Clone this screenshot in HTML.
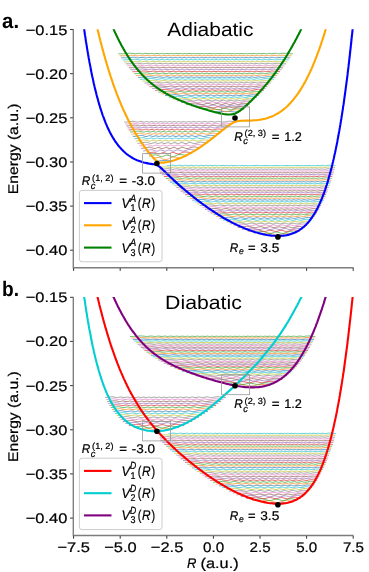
<!DOCTYPE html>
<html><head><meta charset="utf-8"><title>PES</title><style>html,body{margin:0;padding:0;background:#fff}svg{display:block;will-change:transform}text{font-family:"Liberation Sans",sans-serif;stroke:#000;stroke-width:0.22px}</style></head><body>
<svg width="369" height="572" viewBox="0 0 369 572" font-family="Liberation Sans, sans-serif" fill="#000" text-rendering="geometricPrecision">
<rect width="369" height="572" fill="#fff"/>
<clipPath id="cpa"><rect x="73.3" y="29.3" width="280.9" height="238.4"/></clipPath>
<g fill="none" stroke-width="0.7" stroke-opacity="1.0" clip-path="url(#cpa)">
<path d="M215.4 111.5 216.5 111.7 217.6 111.7 218.7 111.7 219.8 111.7 220.9 111.6 222.1 111.5 223.2 111.5 224.3 111.4 225.4 111.4 226.5 111.4 227.6 111.4 228.7 111.5 229.8 111.5 230.9 111.6 232 111.7 233.2 111.8 234.3 111.9 235.4 111.9 236.5 111.9 237.6 111.6 238.7 112.6" stroke="#1f77b4"/>
<path d="M208.7 110.4 209.8 109.9 210.9 109.9 212 109.8 213.2 109.6 214.3 109.5 215.4 109.4 216.5 109.4 217.7 109.5 218.8 109.7 219.9 110 221 110.3 222.2 110.7 223.3 111.1 224.4 111.5 225.5 111.6 226.7 111.7 227.8 111.5 228.9 111.2 230 110.8 231.2 110.4 232.3 110.1 233.4 109.8 234.5 109.7 235.7 109.7 236.8 109.9 237.9 110 239 110.1 240.2 109.9 241.3 111" stroke="#ff7f0e"/>
<path d="M202.5 109.1 203.6 108.5 204.7 108.4 205.8 108.3 206.9 108.1 208 108 209.1 107.8 210.3 107.8 211.4 107.9 212.5 108.1 213.6 108.4 214.7 108.8 215.8 109.2 216.9 109.6 218 109.8 219.1 109.8 220.2 109.6 221.3 109.3 222.4 108.8 223.6 108.5 224.7 108.3 225.8 108.4 226.9 108.7 228 109.1 229.1 109.5 230.2 109.8 231.3 109.8 232.4 109.6 233.5 109.2 234.6 108.7 235.7 108.4 236.9 108.2 238 108.1 239.1 108.2 240.2 108.3 241.3 108.5 242.4 108.6 243.5 109.3" stroke="#2ca02c"/>
<path d="M196.7 107.6 197.8 107.2 198.9 106.8 200 106.8 201.1 106.6 202.2 106.5 203.3 106.3 204.5 106.3 205.6 106.3 206.7 106.5 207.8 106.7 208.9 107.1 210 107.5 211.1 107.8 212.2 108 213.4 108 214.5 107.7 215.6 107.4 216.7 107 217.8 106.8 218.9 106.7 220 107 221.1 107.4 222.3 107.8 223.4 108 224.5 108 225.6 107.7 226.7 107.3 227.8 106.9 228.9 106.8 230 107 231.2 107.4 232.3 107.8 233.4 108 234.5 107.9 235.6 107.6 236.7 107.2 237.8 106.8 238.9 106.6 240.1 106.5 241.2 106.6 242.3 106.7 243.4 106.9 244.5 107.1 245.6 107.6" stroke="#d62728"/>
<path d="M191.1 106 192.2 105.7 193.3 105.4 194.4 105.2 195.5 105.1 196.6 104.9 197.7 104.8 198.9 104.7 200 104.7 201.1 104.8 202.2 105 203.3 105.3 204.4 105.7 205.5 106 206.6 106.2 207.7 106.2 208.8 106.1 209.9 105.7 211 105.4 212.1 105.1 213.3 105.1 214.4 105.3 215.5 105.6 216.6 106 217.7 106.2 218.8 106.2 219.9 105.9 221 105.5 222.1 105.2 223.2 105.2 224.3 105.5 225.4 105.9 226.6 106.2 227.7 106.2 228.8 105.9 229.9 105.5 231 105.2 232.1 105.2 233.2 105.5 234.3 105.9 235.4 106.2 236.5 106.2 237.6 106 238.7 105.6 239.8 105.2 241 104.9 242.1 104.9 243.2 105 244.3 105.1 245.4 105.2 246.5 105.5 247.6 106" stroke="#9467bd"/>
<path d="M185.9 104.3 187 104.2 188.1 103.9 189.2 103.6 190.4 103.5 191.5 103.4 192.6 103.2 193.7 103.1 194.8 103.1 195.9 103.1 197.1 103.3 198.2 103.6 199.3 103.9 200.4 104.2 201.5 104.4 202.6 104.5 203.8 104.3 204.9 104 206 103.7 207.1 103.4 208.2 103.4 209.3 103.6 210.5 104 211.6 104.3 212.7 104.5 213.8 104.4 214.9 104.1 216 103.7 217.2 103.5 218.3 103.6 219.4 104 220.5 104.3 221.6 104.5 222.7 104.3 223.9 104 225 103.6 226.1 103.6 227.2 103.8 228.3 104.2 229.4 104.5 230.5 104.4 231.7 104.1 232.8 103.7 233.9 103.6 235 103.7 236.1 104.1 237.2 104.4 238.4 104.5 239.5 104.3 240.6 103.9 241.7 103.5 242.8 103.3 243.9 103.2 245.1 103.3 246.2 103.5 247.3 103.6 248.4 103.9 249.5 104.3" stroke="#8c564b"/>
<path d="M181.2 102.6 182.3 102.5 183.4 102.3 184.5 101.9 185.6 101.9 186.8 101.8 187.9 101.6 189 101.5 190.1 101.4 191.2 101.5 192.3 101.6 193.4 101.9 194.6 102.2 195.7 102.5 196.8 102.7 197.9 102.7 199 102.6 200.1 102.3 201.3 102 202.4 101.8 203.5 101.7 204.6 101.9 205.7 102.3 206.8 102.6 207.9 102.8 209.1 102.6 210.2 102.3 211.3 102 212.4 101.8 213.5 102 214.6 102.3 215.8 102.7 216.9 102.7 218 102.5 219.1 102.2 220.2 101.9 221.3 102 222.4 102.3 223.6 102.6 224.7 102.7 225.8 102.5 226.9 102.1 228 101.9 229.1 102 230.3 102.4 231.4 102.7 232.5 102.7 233.6 102.4 234.7 102 235.8 101.9 236.9 102.1 238.1 102.4 239.2 102.7 240.3 102.7 241.4 102.5 242.5 102.2 243.6 101.8 244.8 101.6 245.9 101.6 247 101.7 248.1 101.8 249.2 101.9 250.3 102.3 251.4 102.6" stroke="#e377c2"/>
<path d="M176.8 100.9 177.9 100.8 179 100.6 180.1 100.3 181.2 100.2 182.3 100.1 183.4 100 184.5 99.9 185.6 99.8 186.7 99.8 187.8 99.9 189 100.1 190.1 100.4 191.2 100.7 192.3 100.9 193.4 101 194.5 100.9 195.6 100.6 196.7 100.3 197.8 100.1 198.9 100 200 100.2 201.2 100.5 202.3 100.8 203.4 101 204.5 100.9 205.6 100.6 206.7 100.3 207.8 100.1 208.9 100.3 210 100.6 211.1 100.9 212.2 101 213.4 100.8 214.5 100.4 215.6 100.2 216.7 100.3 217.8 100.6 218.9 100.9 220 101 221.1 100.7 222.2 100.4 223.3 100.2 224.4 100.4 225.6 100.8 226.7 101 227.8 100.9 228.9 100.5 230 100.3 231.1 100.3 232.2 100.6 233.3 100.9 234.4 101 235.5 100.7 236.6 100.3 237.8 100.2 238.9 100.4 240 100.7 241.1 101 242.2 101 243.3 100.7 244.4 100.4 245.5 100.1 246.6 99.9 247.7 99.9 248.8 100 249.9 100.2 251.1 100.2 252.2 100.6 253.3 100.8" stroke="#7f7f7f"/>
<path d="M172.6 99.1 173.7 99.1 174.8 98.9 175.9 98.7 177 98.5 178.1 98.4 179.2 98.3 180.3 98.2 181.4 98.1 182.5 98.1 183.6 98.2 184.7 98.4 185.8 98.6 186.9 98.9 188 99.1 189.1 99.2 190.2 99.2 191.3 99 192.4 98.7 193.5 98.4 194.6 98.3 195.7 98.5 196.8 98.7 197.9 99.1 199 99.2 200.1 99.2 201.2 98.9 202.3 98.6 203.4 98.4 204.5 98.5 205.6 98.8 206.7 99.1 207.8 99.2 208.9 99.1 210 98.7 211.1 98.5 212.2 98.5 213.3 98.8 214.4 99.2 215.5 99.2 216.6 99 217.7 98.7 218.8 98.5 219.9 98.7 221 99 222.1 99.2 223.2 99.1 224.3 98.8 225.4 98.5 226.5 98.6 227.6 99 228.7 99.2 229.8 99.2 230.9 98.8 232 98.6 233.1 98.6 234.2 98.9 235.3 99.2 236.4 99.2 237.5 98.9 238.6 98.6 239.7 98.5 240.8 98.7 241.9 99 243 99.2 244.1 99.2 245.2 99 246.3 98.6 247.4 98.4 248.5 98.2 249.6 98.2 250.7 98.3 251.8 98.5 252.9 98.6 254 98.9 255.1 99.1" stroke="#bcbd22"/>
<path d="M168.7 97.4 169.8 97.3 170.9 97.2 172 97.1 173.1 96.8 174.2 96.8 175.3 96.6 176.4 96.5 177.5 96.4 178.6 96.4 179.7 96.5 180.8 96.6 181.9 96.9 183 97.2 184.1 97.4 185.2 97.5 186.3 97.4 187.4 97.2 188.5 96.9 189.6 96.7 190.7 96.6 191.8 96.8 192.9 97 194 97.3 195.1 97.5 196.3 97.4 197.4 97.1 198.5 96.8 199.6 96.7 200.7 96.8 201.8 97.2 202.9 97.4 204 97.5 205.1 97.2 206.2 96.9 207.3 96.7 208.4 96.9 209.5 97.2 210.6 97.5 211.7 97.4 212.8 97.1 213.9 96.8 215 96.8 216.1 97.1 217.2 97.4 218.3 97.5 219.4 97.2 220.5 96.9 221.6 96.8 222.7 97.1 223.8 97.4 224.9 97.5 226 97.2 227.1 96.9 228.2 96.9 229.3 97.1 230.4 97.4 231.6 97.4 232.7 97.1 233.8 96.8 234.9 96.9 236 97.2 237.1 97.4 238.2 97.4 239.3 97.1 240.4 96.8 241.5 96.8 242.6 97 243.7 97.3 244.8 97.5 245.9 97.4 247 97.2 248.1 96.9 249.2 96.6 250.3 96.5 251.4 96.5 252.5 96.6 253.6 96.8 254.7 96.8 255.8 97.2 256.9 97.4" stroke="#17becf"/>
<path d="M165 95.6 166.1 95.6 167.2 95.5 168.3 95.4 169.4 95.1 170.5 95 171.6 94.9 172.7 94.8 173.8 94.7 174.9 94.7 176 94.7 177.1 94.9 178.2 95.1 179.3 95.4 180.4 95.6 181.5 95.7 182.6 95.7 183.7 95.4 184.8 95.2 186 94.9 187.1 94.9 188.2 95 189.3 95.3 190.4 95.6 191.5 95.7 192.6 95.6 193.7 95.3 194.8 95 195.9 95 197 95.1 198.1 95.4 199.2 95.7 200.3 95.7 201.4 95.4 202.5 95.1 203.6 95 204.7 95.2 205.8 95.5 206.9 95.7 208 95.6 209.1 95.3 210.2 95 211.3 95.1 212.4 95.4 213.5 95.7 214.6 95.6 215.7 95.3 216.8 95.1 217.9 95.1 219 95.5 220.1 95.7 221.2 95.6 222.3 95.3 223.4 95.1 224.5 95.2 225.6 95.6 226.7 95.7 227.8 95.5 228.9 95.2 230 95.1 231.1 95.4 232.2 95.7 233.3 95.7 234.5 95.4 235.6 95.1 236.7 95.1 237.8 95.4 238.9 95.7 240 95.6 241.1 95.4 242.2 95.1 243.3 95 244.4 95.2 245.5 95.5 246.6 95.7 247.7 95.6 248.8 95.4 249.9 95.1 251 94.9 252.1 94.8 253.2 94.8 254.3 94.9 255.4 95 256.5 95.1 257.6 95.5 258.7 95.6" stroke="#1f77b4"/>
<path d="M161.5 93.9 162.7 93.8 163.8 93.8 164.9 93.6 166 93.4 167.1 93.3 168.2 93.2 169.3 93.1 170.4 93 171.5 92.9 172.7 93 173.8 93.1 174.9 93.4 176 93.6 177.1 93.8 178.2 93.9 179.3 93.9 180.4 93.6 181.5 93.4 182.7 93.2 183.8 93.1 184.9 93.3 186 93.6 187.1 93.9 188.2 93.9 189.3 93.8 190.4 93.5 191.6 93.2 192.7 93.2 193.8 93.5 194.9 93.8 196 93.9 197.1 93.8 198.2 93.5 199.3 93.3 200.4 93.3 201.6 93.6 202.7 93.9 203.8 93.9 204.9 93.6 206 93.3 207.1 93.3 208.2 93.6 209.3 93.9 210.5 93.9 211.6 93.6 212.7 93.4 213.8 93.3 214.9 93.6 216 93.9 217.1 93.9 218.2 93.6 219.3 93.3 220.5 93.4 221.6 93.8 222.7 93.9 223.8 93.7 224.9 93.4 226 93.4 227.1 93.6 228.2 93.9 229.3 93.8 230.5 93.5 231.6 93.3 232.7 93.5 233.8 93.8 234.9 93.9 236 93.7 237.1 93.4 238.2 93.3 239.4 93.6 240.5 93.9 241.6 93.9 242.7 93.6 243.8 93.3 244.9 93.3 246 93.5 247.1 93.8 248.2 93.9 249.4 93.9 250.5 93.6 251.6 93.3 252.7 93.1 253.8 93 254.9 93.1 256 93.2 257.1 93.3 258.3 93.4 259.4 93.7 260.5 93.9" stroke="#ff7f0e"/>
<path d="M158.3 92.1 159.4 92.1 160.5 92 161.6 91.9 162.7 91.7 163.8 91.6 164.9 91.5 166 91.4 167.1 91.3 168.2 91.2 169.3 91.2 170.4 91.3 171.5 91.6 172.7 91.8 173.8 92 174.9 92.1 176 92.1 177.1 91.9 178.2 91.6 179.3 91.4 180.4 91.4 181.5 91.5 182.6 91.8 183.7 92.1 184.8 92.1 185.9 92 187 91.7 188.1 91.5 189.2 91.5 190.3 91.7 191.5 92 192.6 92.1 193.7 92 194.8 91.7 195.9 91.5 197 91.6 198.1 91.9 199.2 92.1 200.3 92.1 201.4 91.8 202.5 91.6 203.6 91.6 204.7 91.8 205.8 92.1 206.9 92.1 208 91.8 209.2 91.6 210.3 91.6 211.4 91.9 212.5 92.1 213.6 92 214.7 91.7 215.8 91.6 216.9 91.7 218 92 219.1 92.1 220.2 91.9 221.3 91.6 222.4 91.6 223.5 91.9 224.6 92.1 225.7 92 226.9 91.7 228 91.6 229.1 91.9 230.2 92.1 231.3 92 232.4 91.7 233.5 91.6 234.6 91.8 235.7 92.1 236.8 92.1 237.9 91.8 239 91.6 240.1 91.6 241.2 91.9 242.3 92.1 243.4 92.1 244.6 91.7 245.7 91.5 246.8 91.5 247.9 91.7 249 92 250.1 92.1 251.2 92 252.3 91.8 253.4 91.5 254.5 91.3 255.6 91.3 256.7 91.3 257.8 91.4 258.9 91.6 260 91.7 261.1 92 262.2 92.1" stroke="#2ca02c"/>
<path d="M155.2 90.3 156.3 90.3 157.4 90.2 158.5 90.1 159.6 90 160.8 89.8 161.9 89.7 163 89.6 164.1 89.5 165.2 89.4 166.3 89.5 167.4 89.6 168.5 89.8 169.6 90 170.7 90.2 171.9 90.3 173 90.3 174.1 90.1 175.2 89.8 176.3 89.6 177.4 89.6 178.5 89.8 179.6 90.1 180.7 90.3 181.8 90.3 183 90.1 184.1 89.8 185.2 89.7 186.3 89.7 187.4 90 188.5 90.3 189.6 90.3 190.7 90.1 191.8 89.8 192.9 89.7 194.1 89.9 195.2 90.2 196.3 90.3 197.4 90.2 198.5 89.9 199.6 89.7 200.7 89.9 201.8 90.2 202.9 90.3 204 90.2 205.1 89.9 206.3 89.8 207.4 90 208.5 90.3 209.6 90.3 210.7 90.1 211.8 89.8 212.9 89.8 214 90.2 215.1 90.3 216.2 90.2 217.4 89.9 218.5 89.8 219.6 90.1 220.7 90.3 221.8 90.2 222.9 89.9 224 89.8 225.1 90 226.2 90.3 227.3 90.3 228.5 90 229.6 89.8 230.7 90 231.8 90.3 232.9 90.3 234 90 235.1 89.8 236.2 90 237.3 90.3 238.4 90.3 239.6 90 240.7 89.8 241.8 89.8 242.9 90.1 244 90.3 245.1 90.2 246.2 89.9 247.3 89.7 248.4 89.7 249.5 90 250.7 90.2 251.8 90.3 252.9 90.2 254 90 255.1 89.7 256.2 89.5 257.3 89.5 258.4 89.6 259.5 89.7 260.6 89.8 261.8 90 262.9 90.2 264 90.3" stroke="#d62728"/>
<path d="M152.3 88.5 153.4 88.5 154.5 88.4 155.6 88.4 156.7 88.2 157.8 88 158.9 88 160 87.9 161.1 87.8 162.2 87.7 163.3 87.7 164.4 87.7 165.5 87.9 166.6 88.2 167.7 88.4 168.8 88.5 169.9 88.5 171 88.3 172.1 88.1 173.2 87.9 174.3 87.8 175.4 88 176.5 88.2 177.6 88.5 178.7 88.5 179.8 88.4 180.9 88.1 182 87.9 183.1 87.9 184.2 88.2 185.3 88.5 186.4 88.5 187.5 88.3 188.6 88 189.7 87.9 190.8 88.1 191.9 88.4 193 88.5 194.1 88.4 195.2 88.1 196.3 87.9 197.4 88.1 198.5 88.4 199.6 88.5 200.7 88.4 201.8 88.1 202.9 88 204 88.2 205.1 88.5 206.2 88.5 207.3 88.3 208.4 88 209.5 88.1 210.6 88.3 211.7 88.5 212.8 88.4 213.9 88.1 215 88 216.1 88.3 217.2 88.5 218.3 88.4 219.4 88.1 220.5 88 221.6 88.3 222.7 88.5 223.8 88.4 224.9 88.1 226 88 227.1 88.3 228.2 88.5 229.3 88.4 230.4 88.1 231.5 88 232.6 88.3 233.7 88.5 234.8 88.4 235.9 88.1 237 88 238.1 88.2 239.2 88.5 240.3 88.5 241.4 88.2 242.5 88 243.6 88.1 244.7 88.4 245.8 88.5 246.9 88.4 248 88.1 249.1 87.9 250.2 88 251.3 88.2 252.4 88.5 253.5 88.5 254.6 88.4 255.7 88.1 256.8 87.9 257.9 87.7 259 87.7 260.1 87.8 261.2 87.9 262.3 88 263.4 88.2 264.5 88.4 265.6 88.5" stroke="#9467bd"/>
<path d="M149.5 86.7 150.6 86.7 151.7 86.6 152.8 86.6 153.9 86.5 155 86.3 156.1 86.2 157.2 86.1 158.3 86 159.4 85.9 160.5 85.9 161.6 85.9 162.7 86.1 163.8 86.3 164.9 86.5 166 86.7 167.1 86.7 168.2 86.5 169.3 86.3 170.4 86.1 171.5 86 172.6 86.2 173.7 86.4 174.8 86.7 175.9 86.7 177 86.5 178.1 86.2 179.2 86.1 180.3 86.1 181.4 86.4 182.5 86.7 183.6 86.7 184.7 86.5 185.9 86.2 187 86.1 188.1 86.3 189.2 86.6 190.3 86.7 191.4 86.5 192.5 86.2 193.6 86.1 194.7 86.3 195.8 86.6 196.9 86.7 198 86.5 199.1 86.2 200.2 86.2 201.3 86.5 202.4 86.7 203.5 86.6 204.6 86.3 205.7 86.2 206.8 86.4 207.9 86.6 209 86.7 210.1 86.4 211.2 86.2 212.3 86.3 213.4 86.6 214.5 86.7 215.6 86.4 216.7 86.2 217.8 86.3 218.9 86.6 220 86.7 221.1 86.4 222.2 86.2 223.3 86.3 224.4 86.6 225.5 86.7 226.6 86.4 227.7 86.2 228.8 86.4 229.9 86.7 231 86.6 232.1 86.3 233.2 86.2 234.3 86.4 235.4 86.7 236.5 86.6 237.6 86.3 238.7 86.2 239.8 86.4 240.9 86.7 242 86.6 243.1 86.3 244.2 86.1 245.3 86.3 246.4 86.6 247.5 86.7 248.6 86.5 249.7 86.3 250.8 86.1 251.9 86.2 253 86.4 254.1 86.7 255.2 86.7 256.3 86.5 257.4 86.3 258.5 86 259.6 85.9 260.7 85.9 261.8 86 262.9 86.1 264 86.2 265.1 86.4 266.2 86.6 267.3 86.7" stroke="#8c564b"/>
<path d="M146.9 84.8 148 84.8 149.1 84.8 150.2 84.7 151.3 84.7 152.4 84.5 153.6 84.4 154.7 84.3 155.8 84.2 156.9 84.1 158 84.1 159.1 84.1 160.2 84.3 161.3 84.5 162.4 84.7 163.5 84.9 164.7 84.8 165.8 84.7 166.9 84.4 168 84.2 169.1 84.2 170.2 84.4 171.3 84.7 172.4 84.8 173.5 84.8 174.6 84.6 175.8 84.3 176.9 84.3 178 84.4 179.1 84.7 180.2 84.9 181.3 84.8 182.4 84.5 183.5 84.3 184.6 84.4 185.7 84.6 186.9 84.9 188 84.8 189.1 84.5 190.2 84.3 191.3 84.4 192.4 84.7 193.5 84.9 194.6 84.7 195.7 84.4 196.8 84.3 198 84.6 199.1 84.8 200.2 84.8 201.3 84.5 202.4 84.3 203.5 84.5 204.6 84.8 205.7 84.8 206.8 84.6 207.9 84.4 209.1 84.5 210.2 84.8 211.3 84.9 212.4 84.6 213.5 84.4 214.6 84.5 215.7 84.8 216.8 84.8 217.9 84.6 219 84.4 220.2 84.6 221.3 84.8 222.4 84.8 223.5 84.5 224.6 84.4 225.7 84.7 226.8 84.9 227.9 84.7 229 84.4 230.1 84.5 231.3 84.8 232.4 84.9 233.5 84.6 234.6 84.4 235.7 84.5 236.8 84.8 237.9 84.8 239 84.5 240.1 84.4 241.2 84.6 242.4 84.8 243.5 84.8 244.6 84.5 245.7 84.3 246.8 84.4 247.9 84.7 249 84.9 250.1 84.7 251.2 84.4 252.3 84.3 253.5 84.3 254.6 84.6 255.7 84.8 256.8 84.9 257.9 84.7 259 84.5 260.1 84.2 261.2 84.1 262.3 84.1 263.4 84.2 264.6 84.3 265.7 84.4 266.8 84.6 267.9 84.8 269 84.8" stroke="#e377c2"/>
<path d="M144.5 83 145.6 83 146.7 83 147.8 82.9 149 82.8 150.1 82.7 151.2 82.5 152.3 82.5 153.4 82.4 154.5 82.3 155.6 82.2 156.7 82.3 157.8 82.4 158.9 82.6 160 82.9 161.1 83 162.2 83 163.3 82.8 164.4 82.6 165.5 82.4 166.7 82.4 167.8 82.6 168.9 82.8 170 83 171.1 83 172.2 82.7 173.3 82.5 174.4 82.4 175.5 82.6 176.6 82.9 177.7 83 178.8 82.9 179.9 82.6 181 82.5 182.1 82.6 183.3 82.9 184.4 83 185.5 82.9 186.6 82.6 187.7 82.5 188.8 82.7 189.9 82.9 191 83 192.1 82.8 193.2 82.5 194.3 82.6 195.4 82.8 196.5 83 197.6 82.9 198.7 82.6 199.9 82.5 201 82.8 202.1 83 203.2 82.9 204.3 82.6 205.4 82.5 206.5 82.8 207.6 83 208.7 82.9 209.8 82.6 210.9 82.6 212 82.8 213.1 83 214.2 82.9 215.3 82.6 216.5 82.6 217.6 82.9 218.7 83 219.8 82.8 220.9 82.6 222 82.7 223.1 83 224.2 83 225.3 82.7 226.4 82.6 227.5 82.8 228.6 83 229.7 82.8 230.8 82.6 231.9 82.6 233.1 82.9 234.2 83 235.3 82.7 236.4 82.5 237.5 82.7 238.6 83 239.7 82.9 240.8 82.6 241.9 82.5 243 82.8 244.1 83 245.2 82.9 246.3 82.6 247.4 82.5 248.5 82.6 249.6 82.9 250.8 83 251.9 82.8 253 82.6 254.1 82.4 255.2 82.5 256.3 82.8 257.4 83 258.5 83 259.6 82.8 260.7 82.6 261.8 82.4 262.9 82.3 264 82.3 265.1 82.4 266.2 82.5 267.4 82.6 268.5 82.8 269.6 82.9 270.7 83" stroke="#7f7f7f"/>
<path d="M142.3 81.1 143.4 81.1 144.5 81.1 145.6 81.1 146.7 81 147.8 80.9 148.9 80.7 150 80.6 151.1 80.5 152.2 80.4 153.3 80.4 154.4 80.4 155.5 80.6 156.6 80.8 157.7 81 158.8 81.1 159.9 81.1 161 81 162.1 80.7 163.2 80.6 164.3 80.5 165.4 80.7 166.5 81 167.6 81.2 168.7 81.1 169.8 80.9 170.9 80.6 172 80.6 173.1 80.8 174.2 81.1 175.4 81.2 176.5 81 177.6 80.7 178.7 80.6 179.8 80.8 180.9 81.1 182 81.2 183.1 81 184.2 80.7 185.3 80.6 186.4 80.9 187.5 81.1 188.6 81.1 189.7 80.8 190.8 80.7 191.9 80.8 193 81.1 194.1 81.2 195.2 80.9 196.3 80.7 197.4 80.7 198.5 81 199.6 81.2 200.7 81 201.8 80.7 202.9 80.7 204 81 205.1 81.2 206.2 80.9 207.3 80.7 208.4 80.8 209.5 81.1 210.6 81.1 211.7 80.9 212.8 80.7 213.9 80.9 215 81.1 216.1 81.1 217.2 80.8 218.3 80.7 219.4 81 220.5 81.2 221.6 81 222.7 80.7 223.8 80.8 224.9 81.1 226 81.1 227.1 80.8 228.2 80.7 229.3 81 230.4 81.2 231.5 81 232.6 80.7 233.7 80.8 234.8 81.1 235.9 81.1 237 80.8 238.1 80.7 239.2 80.9 240.4 81.2 241.5 81 242.6 80.7 243.7 80.7 244.8 81 245.9 81.2 247 81 248.1 80.7 249.2 80.6 250.3 80.8 251.4 81.1 252.5 81.1 253.6 80.9 254.7 80.7 255.8 80.6 256.9 80.7 258 81 259.1 81.1 260.2 81.1 261.3 80.9 262.4 80.7 263.5 80.5 264.6 80.4 265.7 80.5 266.8 80.5 267.9 80.7 269 80.7 270.1 81 271.2 81.1 272.3 81.1" stroke="#bcbd22"/>
<path d="M140.1 79.3 141.2 79.3 142.3 79.2 143.4 79.2 144.5 79.1 145.7 79 146.8 78.8 147.9 78.8 149 78.7 150.1 78.6 151.2 78.5 152.3 78.6 153.4 78.7 154.5 78.9 155.6 79.1 156.7 79.3 157.8 79.3 158.9 79.1 160 78.8 161.1 78.7 162.2 78.7 163.3 78.9 164.4 79.2 165.5 79.3 166.7 79.2 167.8 78.9 168.9 78.7 170 78.8 171.1 79 172.2 79.3 173.3 79.3 174.4 79 175.5 78.8 176.6 78.8 177.7 79 178.8 79.3 179.9 79.2 181 79 182.1 78.8 183.2 78.9 184.3 79.2 185.4 79.3 186.6 79.1 187.7 78.8 188.8 78.8 189.9 79.1 191 79.3 192.1 79.2 193.2 78.9 194.3 78.8 195.4 79.1 196.5 79.3 197.6 79.2 198.7 78.9 199.8 78.8 200.9 79.1 202 79.3 203.1 79.1 204.2 78.9 205.3 78.9 206.4 79.2 207.6 79.3 208.7 79.1 209.8 78.8 210.9 79 212 79.2 213.1 79.2 214.2 78.9 215.3 78.8 216.4 79.1 217.5 79.3 218.6 79.1 219.7 78.8 220.8 79 221.9 79.2 223 79.2 224.1 78.9 225.2 78.9 226.3 79.1 227.4 79.3 228.6 79 229.7 78.8 230.8 79 231.9 79.3 233 79.2 234.1 78.9 235.2 78.9 236.3 79.2 237.4 79.3 238.5 79 239.6 78.8 240.7 79 241.8 79.3 242.9 79.2 244 78.9 245.1 78.8 246.2 79.1 247.3 79.3 248.5 79.2 249.6 78.9 250.7 78.8 251.8 78.9 252.9 79.2 254 79.3 255.1 79.1 256.2 78.8 257.3 78.7 258.4 78.9 259.5 79.1 260.6 79.3 261.7 79.3 262.8 79.1 263.9 78.8 265 78.6 266.1 78.6 267.2 78.6 268.3 78.7 269.5 78.8 270.6 78.9 271.7 79.1 272.8 79.2 273.9 79.3" stroke="#17becf"/>
<path d="M138 77.4 139.2 77.4 140.3 77.4 141.4 77.3 142.5 77.3 143.6 77.1 144.7 77 145.8 76.9 146.9 76.8 148 76.7 149.1 76.7 150.2 76.7 151.3 76.8 152.5 77.1 153.6 77.3 154.7 77.4 155.8 77.4 156.9 77.2 158 77 159.1 76.8 160.2 76.8 161.3 77.1 162.4 77.3 163.5 77.4 164.6 77.3 165.8 77 166.9 76.8 168 76.9 169.1 77.2 170.2 77.4 171.3 77.3 172.4 77.1 173.5 76.9 174.6 77 175.7 77.2 176.8 77.4 177.9 77.3 179 77 180.2 76.9 181.3 77.1 182.4 77.4 183.5 77.4 184.6 77.1 185.7 76.9 186.8 77.1 187.9 77.3 189 77.4 190.1 77.1 191.2 76.9 192.3 77.1 193.5 77.3 194.6 77.4 195.7 77.1 196.8 76.9 197.9 77.1 199 77.4 200.1 77.3 201.2 77.1 202.3 77 203.4 77.2 204.5 77.4 205.6 77.2 206.7 77 207.9 77 209 77.3 210.1 77.4 211.2 77.1 212.3 77 213.4 77.2 214.5 77.4 215.6 77.2 216.7 77 217.8 77.1 218.9 77.4 220 77.3 221.2 77.1 222.3 77 223.4 77.3 224.5 77.4 225.6 77.1 226.7 77 227.8 77.2 228.9 77.4 230 77.2 231.1 77 232.2 77.1 233.3 77.4 234.5 77.3 235.6 77 236.7 77 237.8 77.3 238.9 77.4 240 77.1 241.1 77 242.2 77.1 243.3 77.4 244.4 77.3 245.5 77 246.6 76.9 247.7 77.2 248.9 77.4 250 77.3 251.1 77 252.2 76.9 253.3 77.1 254.4 77.3 255.5 77.4 256.6 77.2 257.7 76.9 258.8 76.8 259.9 77 261 77.2 262.2 77.4 263.3 77.4 264.4 77.2 265.5 76.9 266.6 76.8 267.7 76.7 268.8 76.7 269.9 76.8 271 76.9 272.1 77 273.2 77.3 274.3 77.3 275.4 77.4" stroke="#1f77b4"/>
<path d="M136.1 75.5 137.2 75.5 138.3 75.5 139.4 75.4 140.5 75.4 141.6 75.3 142.7 75.1 143.8 75 144.9 74.9 146 74.8 147.1 74.8 148.2 74.8 149.3 74.9 150.4 75.1 151.5 75.4 152.6 75.5 153.7 75.5 154.8 75.3 155.9 75.1 157 74.9 158.1 75 159.2 75.2 160.3 75.4 161.4 75.5 162.5 75.4 163.6 75.1 164.7 75 165.8 75.1 166.9 75.3 168 75.5 169.1 75.4 170.2 75.2 171.3 75 172.4 75.1 173.5 75.4 174.6 75.5 175.7 75.4 176.8 75.1 177.9 75 179 75.3 180.1 75.5 181.2 75.4 182.3 75.2 183.4 75 184.5 75.2 185.6 75.5 186.7 75.5 187.8 75.2 188.9 75 190 75.2 191.1 75.5 192.2 75.4 193.3 75.2 194.4 75.1 195.5 75.3 196.6 75.5 197.7 75.4 198.8 75.1 199.9 75.1 201 75.4 202.1 75.5 203.2 75.3 204.3 75.1 205.4 75.2 206.5 75.5 207.7 75.4 208.8 75.1 209.9 75.1 211 75.4 212.1 75.5 213.2 75.3 214.3 75.1 215.4 75.3 216.5 75.5 217.6 75.4 218.7 75.1 219.8 75.2 220.9 75.5 222 75.4 223.1 75.2 224.2 75.1 225.3 75.4 226.4 75.5 227.5 75.2 228.6 75.1 229.7 75.3 230.8 75.5 231.9 75.3 233 75.1 234.1 75.3 235.2 75.5 236.3 75.4 237.4 75.1 238.5 75.2 239.6 75.5 240.7 75.5 241.8 75.2 242.9 75.1 244 75.3 245.1 75.5 246.2 75.4 247.3 75.1 248.4 75.1 249.5 75.3 250.6 75.5 251.7 75.4 252.8 75.1 253.9 75 255 75.2 256.1 75.5 257.2 75.5 258.3 75.2 259.4 75 260.5 75 261.6 75.1 262.7 75.4 263.8 75.5 264.9 75.4 266 75.2 267.1 75 268.2 74.8 269.3 74.8 270.4 74.9 271.5 75 272.6 75.1 273.7 75.2 274.8 75.4 275.9 75.5 277 75.5" stroke="#ff7f0e"/>
<path d="M134.2 73.6 135.3 73.6 136.4 73.6 137.5 73.5 138.6 73.5 139.7 73.4 140.8 73.2 141.9 73.1 143 73.1 144.1 73 145.2 72.9 146.3 72.9 147.4 73 148.5 73.2 149.6 73.5 150.7 73.6 151.8 73.6 152.9 73.4 154 73.2 155.1 73 156.2 73.1 157.3 73.3 158.4 73.5 159.5 73.6 160.6 73.4 161.7 73.2 162.8 73.1 164 73.2 165.1 73.5 166.2 73.6 167.3 73.5 168.4 73.2 169.5 73.1 170.6 73.3 171.7 73.5 172.8 73.6 173.9 73.4 175 73.1 176.1 73.2 177.2 73.5 178.3 73.6 179.4 73.4 180.5 73.2 181.6 73.2 182.7 73.4 183.8 73.6 184.9 73.4 186 73.2 187.1 73.2 188.2 73.5 189.3 73.6 190.4 73.4 191.5 73.2 192.6 73.3 193.7 73.5 194.8 73.6 195.9 73.3 197 73.2 198.1 73.4 199.2 73.6 200.3 73.5 201.4 73.2 202.5 73.2 203.6 73.5 204.7 73.6 205.8 73.3 206.9 73.2 208 73.4 209.1 73.6 210.2 73.4 211.3 73.2 212.4 73.3 213.5 73.6 214.6 73.5 215.7 73.2 216.8 73.2 217.9 73.5 219 73.6 220.1 73.3 221.3 73.2 222.4 73.5 223.5 73.6 224.6 73.3 225.7 73.2 226.8 73.4 227.9 73.6 229 73.4 230.1 73.2 231.2 73.4 232.3 73.6 233.4 73.4 234.5 73.2 235.6 73.3 236.7 73.6 237.8 73.5 238.9 73.2 240 73.3 241.1 73.5 242.2 73.6 243.3 73.3 244.4 73.2 245.5 73.4 246.6 73.6 247.7 73.5 248.8 73.2 249.9 73.2 251 73.4 252.1 73.6 253.2 73.4 254.3 73.2 255.4 73.1 256.5 73.3 257.6 73.6 258.7 73.6 259.8 73.3 260.9 73.1 262 73.1 263.1 73.2 264.2 73.5 265.3 73.6 266.4 73.5 267.5 73.3 268.6 73.1 269.7 72.9 270.8 72.9 271.9 73 273 73.1 274.1 73.2 275.2 73.3 276.3 73.5 277.4 73.6 278.5 73.6" stroke="#2ca02c"/>
<path d="M132.4 71.7 133.5 71.7 134.6 71.6 135.7 71.6 136.8 71.6 137.9 71.5 139 71.3 140.1 71.2 141.2 71.2 142.3 71.1 143.4 71 144.5 71 145.6 71.1 146.7 71.3 147.8 71.5 148.9 71.7 150 71.6 151.1 71.5 152.2 71.2 153.3 71.1 154.4 71.2 155.5 71.4 156.6 71.6 157.7 71.7 158.8 71.5 159.9 71.2 161 71.2 162.1 71.3 163.2 71.6 164.3 71.7 165.4 71.5 166.5 71.2 167.6 71.2 168.7 71.4 169.9 71.7 171 71.6 172.1 71.4 173.2 71.2 174.3 71.3 175.4 71.6 176.5 71.7 177.6 71.4 178.7 71.2 179.8 71.3 180.9 71.6 182 71.6 183.1 71.4 184.2 71.2 185.3 71.4 186.4 71.6 187.5 71.6 188.6 71.3 189.7 71.2 190.8 71.5 191.9 71.7 193 71.5 194.1 71.3 195.2 71.3 196.3 71.6 197.4 71.6 198.5 71.4 199.6 71.3 200.7 71.5 201.8 71.7 202.9 71.5 204 71.3 205.1 71.4 206.2 71.7 207.3 71.6 208.4 71.3 209.5 71.3 210.6 71.6 211.7 71.6 212.8 71.4 213.9 71.3 215 71.5 216.1 71.7 217.2 71.4 218.3 71.3 219.5 71.5 220.6 71.7 221.7 71.5 222.8 71.3 223.9 71.5 225 71.7 226.1 71.5 227.2 71.3 228.3 71.5 229.4 71.7 230.5 71.5 231.6 71.3 232.7 71.4 233.8 71.7 234.9 71.5 236 71.3 237.1 71.4 238.2 71.7 239.3 71.6 240.4 71.3 241.5 71.3 242.6 71.6 243.7 71.6 244.8 71.4 245.9 71.2 247 71.5 248.1 71.7 249.2 71.5 250.3 71.3 251.4 71.3 252.5 71.5 253.6 71.7 254.7 71.5 255.8 71.2 256.9 71.2 258 71.4 259.1 71.7 260.2 71.6 261.3 71.4 262.4 71.2 263.5 71.2 264.6 71.3 265.7 71.6 266.8 71.7 268 71.6 269.1 71.4 270.2 71.2 271.3 71 272.4 71 273.5 71.1 274.6 71.2 275.7 71.3 276.8 71.4 277.9 71.6 279 71.6 280.1 71.7" stroke="#d62728"/>
<path d="M130.6 69.7 131.7 69.7 132.8 69.7 133.9 69.7 135 69.6 136.1 69.6 137.2 69.4 138.3 69.3 139.4 69.2 140.5 69.1 141.6 69.1 142.7 69.1 143.8 69.2 144.9 69.4 146 69.6 147.1 69.7 148.2 69.7 149.3 69.5 150.4 69.3 151.5 69.2 152.6 69.3 153.7 69.5 154.8 69.7 156 69.7 157.1 69.5 158.2 69.3 159.3 69.2 160.4 69.4 161.5 69.7 162.6 69.7 163.7 69.5 164.8 69.3 165.9 69.3 167 69.6 168.1 69.7 169.2 69.6 170.3 69.4 171.4 69.3 172.5 69.5 173.6 69.7 174.7 69.7 175.8 69.4 176.9 69.3 178 69.5 179.1 69.7 180.2 69.6 181.3 69.4 182.4 69.3 183.5 69.6 184.6 69.7 185.7 69.6 186.8 69.3 187.9 69.4 189 69.7 190.1 69.7 191.2 69.4 192.3 69.3 193.4 69.5 194.5 69.7 195.6 69.6 196.7 69.3 197.8 69.4 198.9 69.7 200 69.7 201.1 69.4 202.2 69.4 203.3 69.6 204.4 69.7 205.5 69.5 206.7 69.3 207.8 69.6 208.9 69.7 210 69.5 211.1 69.3 212.2 69.5 213.3 69.7 214.4 69.6 215.5 69.3 216.6 69.5 217.7 69.7 218.8 69.6 219.9 69.4 221 69.5 222.1 69.7 223.2 69.6 224.3 69.4 225.4 69.5 226.5 69.7 227.6 69.6 228.7 69.4 229.8 69.5 230.9 69.7 232 69.6 233.1 69.4 234.2 69.5 235.3 69.7 236.4 69.6 237.5 69.4 238.6 69.5 239.7 69.7 240.8 69.6 241.9 69.4 243 69.4 244.1 69.7 245.2 69.7 246.3 69.4 247.4 69.3 248.5 69.6 249.6 69.7 250.7 69.6 251.8 69.3 252.9 69.3 254 69.6 255.1 69.7 256.2 69.6 257.4 69.3 258.5 69.3 259.6 69.5 260.7 69.7 261.8 69.7 262.9 69.4 264 69.2 265.1 69.2 266.2 69.4 267.3 69.7 268.4 69.7 269.5 69.6 270.6 69.4 271.7 69.2 272.8 69.1 273.9 69.1 275 69.2 276.1 69.3 277.2 69.3 278.3 69.5 279.4 69.7 280.5 69.7 281.6 69.7" stroke="#9467bd"/>
<path d="M128.9 67.8 130 67.8 131.1 67.8 132.2 67.7 133.3 67.7 134.4 67.6 135.5 67.5 136.6 67.4 137.7 67.3 138.8 67.2 139.9 67.1 141 67.1 142.1 67.2 143.2 67.4 144.3 67.6 145.4 67.8 146.5 67.8 147.6 67.6 148.7 67.4 149.8 67.2 150.9 67.3 152 67.6 153.1 67.8 154.2 67.8 155.3 67.6 156.4 67.3 157.5 67.3 158.6 67.5 159.7 67.8 160.8 67.8 161.9 67.5 163 67.3 164.1 67.4 165.2 67.7 166.3 67.8 167.4 67.6 168.5 67.4 169.6 67.4 170.7 67.6 171.8 67.8 172.9 67.7 174 67.4 175.1 67.4 176.2 67.7 177.3 67.8 178.4 67.6 179.5 67.4 180.6 67.5 181.7 67.7 182.8 67.8 183.9 67.5 185 67.4 186.1 67.6 187.3 67.8 188.4 67.7 189.5 67.4 190.6 67.4 191.7 67.7 192.8 67.8 193.9 67.5 195 67.4 196.1 67.6 197.2 67.8 198.3 67.6 199.4 67.4 200.5 67.6 201.6 67.8 202.7 67.7 203.8 67.4 204.9 67.5 206 67.8 207.1 67.7 208.2 67.4 209.3 67.5 210.4 67.8 211.5 67.7 212.6 67.4 213.7 67.5 214.8 67.7 215.9 67.7 217 67.5 218.1 67.5 219.2 67.7 220.3 67.7 221.4 67.5 222.5 67.5 223.6 67.8 224.7 67.7 225.8 67.4 226.9 67.5 228 67.8 229.1 67.7 230.2 67.4 231.3 67.5 232.4 67.8 233.5 67.7 234.6 67.4 235.7 67.5 236.8 67.8 237.9 67.7 239 67.4 240.1 67.5 241.2 67.8 242.3 67.7 243.4 67.4 244.5 67.5 245.6 67.7 246.7 67.8 247.8 67.5 248.9 67.4 250 67.6 251.1 67.8 252.2 67.6 253.3 67.4 254.4 67.4 255.5 67.7 256.6 67.8 257.7 67.6 258.8 67.4 259.9 67.3 261 67.6 262.1 67.8 263.2 67.7 264.4 67.5 265.5 67.3 266.6 67.3 267.7 67.5 268.8 67.7 269.9 67.8 271 67.7 272.1 67.5 273.2 67.3 274.3 67.2 275.4 67.2 276.5 67.2 277.6 67.3 278.7 67.4 279.8 67.6 280.9 67.7 282 67.8 283.1 67.8" stroke="#8c564b"/>
<path d="M127.2 65.8 128.4 65.8 129.5 65.8 130.6 65.8 131.7 65.7 132.8 65.7 133.9 65.6 135 65.4 136.1 65.4 137.2 65.3 138.3 65.2 139.4 65.2 140.5 65.3 141.7 65.5 142.8 65.7 143.9 65.8 145 65.8 146.1 65.6 147.2 65.4 148.3 65.3 149.4 65.4 150.5 65.7 151.6 65.8 152.7 65.8 153.8 65.5 154.9 65.3 156.1 65.4 157.2 65.7 158.3 65.8 159.4 65.7 160.5 65.5 161.6 65.4 162.7 65.5 163.8 65.8 164.9 65.8 166 65.5 167.1 65.4 168.2 65.5 169.3 65.8 170.5 65.8 171.6 65.5 172.7 65.4 173.8 65.6 174.9 65.8 176 65.8 177.1 65.5 178.2 65.4 179.3 65.7 180.4 65.8 181.5 65.6 182.6 65.4 183.7 65.5 184.9 65.8 186 65.8 187.1 65.5 188.2 65.5 189.3 65.7 190.4 65.8 191.5 65.6 192.6 65.4 193.7 65.7 194.8 65.8 195.9 65.6 197 65.4 198.1 65.6 199.3 65.8 200.4 65.7 201.5 65.4 202.6 65.6 203.7 65.8 204.8 65.7 205.9 65.5 207 65.6 208.1 65.8 209.2 65.7 210.3 65.5 211.4 65.6 212.5 65.8 213.7 65.7 214.8 65.5 215.9 65.6 217 65.8 218.1 65.7 219.2 65.5 220.3 65.6 221.4 65.8 222.5 65.7 223.6 65.5 224.7 65.7 225.8 65.8 226.9 65.6 228.1 65.5 229.2 65.7 230.3 65.8 231.4 65.6 232.5 65.5 233.6 65.8 234.7 65.8 235.8 65.5 236.9 65.5 238 65.8 239.1 65.8 240.2 65.5 241.3 65.5 242.5 65.8 243.6 65.8 244.7 65.5 245.8 65.5 246.9 65.7 248 65.8 249.1 65.6 250.2 65.4 251.3 65.6 252.4 65.8 253.5 65.7 254.6 65.4 255.7 65.4 256.9 65.7 258 65.8 259.1 65.7 260.2 65.4 261.3 65.4 262.4 65.6 263.5 65.8 264.6 65.8 265.7 65.5 266.8 65.3 267.9 65.3 269 65.6 270.1 65.8 271.3 65.8 272.4 65.7 273.5 65.5 274.6 65.3 275.7 65.2 276.8 65.2 277.9 65.3 279 65.4 280.1 65.5 281.2 65.7 282.3 65.8 283.4 65.8 284.5 65.8" stroke="#e377c2"/>
<path d="M125.6 63.9 126.7 63.8 127.8 63.8 128.9 63.8 130 63.8 131.2 63.7 132.3 63.6 133.4 63.5 134.5 63.4 135.6 63.3 136.7 63.2 137.8 63.2 138.9 63.3 140 63.5 141.1 63.7 142.2 63.9 143.3 63.8 144.4 63.6 145.5 63.4 146.6 63.3 147.7 63.4 148.8 63.7 150 63.9 151.1 63.8 152.2 63.6 153.3 63.4 154.4 63.4 155.5 63.7 156.6 63.9 157.7 63.7 158.8 63.5 159.9 63.4 161 63.6 162.1 63.8 163.2 63.8 164.3 63.5 165.4 63.4 166.5 63.6 167.6 63.8 168.8 63.8 169.9 63.5 171 63.4 172.1 63.7 173.2 63.9 174.3 63.7 175.4 63.5 176.5 63.5 177.6 63.8 178.7 63.8 179.8 63.6 180.9 63.4 182 63.7 183.1 63.9 184.2 63.7 185.3 63.5 186.4 63.6 187.6 63.8 188.7 63.8 189.8 63.5 190.9 63.5 192 63.8 193.1 63.8 194.2 63.6 195.3 63.5 196.4 63.8 197.5 63.8 198.6 63.6 199.7 63.5 200.8 63.7 201.9 63.9 203 63.6 204.1 63.5 205.2 63.7 206.4 63.9 207.5 63.6 208.6 63.5 209.7 63.8 210.8 63.8 211.9 63.6 213 63.5 214.1 63.8 215.2 63.8 216.3 63.6 217.4 63.5 218.5 63.8 219.6 63.8 220.7 63.5 221.8 63.6 222.9 63.8 224 63.7 225.2 63.5 226.3 63.6 227.4 63.9 228.5 63.7 229.6 63.5 230.7 63.7 231.8 63.9 232.9 63.6 234 63.5 235.1 63.8 236.2 63.8 237.3 63.6 238.4 63.5 239.5 63.8 240.6 63.8 241.7 63.5 242.8 63.5 244 63.8 245.1 63.8 246.2 63.5 247.3 63.5 248.4 63.8 249.5 63.8 250.6 63.6 251.7 63.4 252.8 63.7 253.9 63.9 255 63.7 256.1 63.5 257.2 63.5 258.3 63.7 259.4 63.9 260.5 63.7 261.6 63.4 262.8 63.4 263.9 63.7 265 63.9 266.1 63.8 267.2 63.6 268.3 63.4 269.4 63.4 270.5 63.6 271.6 63.8 272.7 63.9 273.8 63.7 274.9 63.5 276 63.3 277.1 63.2 278.2 63.3 279.3 63.3 280.4 63.4 281.6 63.5 282.7 63.7 283.8 63.8 284.9 63.8 286 63.9" stroke="#7f7f7f"/>
<path d="M124.1 61.9 125.2 61.9 126.3 61.9 127.4 61.8 128.5 61.8 129.6 61.7 130.7 61.6 131.8 61.5 132.9 61.4 134 61.3 135.1 61.3 136.2 61.3 137.3 61.3 138.4 61.5 139.5 61.7 140.7 61.9 141.8 61.8 142.9 61.7 144 61.4 145.1 61.3 146.2 61.5 147.3 61.7 148.4 61.9 149.5 61.8 150.6 61.6 151.7 61.4 152.8 61.5 153.9 61.7 155 61.9 156.1 61.7 157.2 61.5 158.3 61.4 159.4 61.7 160.5 61.9 161.6 61.8 162.7 61.5 163.8 61.4 164.9 61.7 166 61.9 167.1 61.8 168.2 61.5 169.3 61.5 170.4 61.8 171.5 61.9 172.6 61.7 173.8 61.5 174.9 61.6 176 61.9 177.1 61.8 178.2 61.5 179.3 61.5 180.4 61.8 181.5 61.9 182.6 61.6 183.7 61.5 184.8 61.7 185.9 61.9 187 61.7 188.1 61.5 189.2 61.6 190.3 61.9 191.4 61.7 192.5 61.5 193.6 61.6 194.7 61.9 195.8 61.8 196.9 61.5 198 61.6 199.1 61.9 200.2 61.8 201.3 61.5 202.4 61.6 203.5 61.9 204.6 61.8 205.7 61.5 206.9 61.6 208 61.9 209.1 61.7 210.2 61.5 211.3 61.7 212.4 61.9 213.5 61.7 214.6 61.5 215.7 61.7 216.8 61.9 217.9 61.6 219 61.5 220.1 61.8 221.2 61.8 222.3 61.6 223.4 61.6 224.5 61.8 225.6 61.8 226.7 61.5 227.8 61.6 228.9 61.9 230 61.7 231.1 61.5 232.2 61.7 233.3 61.9 234.4 61.6 235.5 61.5 236.6 61.8 237.7 61.8 238.9 61.6 240 61.6 241.1 61.8 242.2 61.8 243.3 61.5 244.4 61.6 245.5 61.8 246.6 61.8 247.7 61.5 248.8 61.5 249.9 61.8 251 61.9 252.1 61.6 253.2 61.5 254.3 61.7 255.4 61.9 256.5 61.7 257.6 61.5 258.7 61.5 259.8 61.8 260.9 61.9 262 61.7 263.1 61.4 264.2 61.5 265.3 61.7 266.4 61.9 267.5 61.8 268.6 61.5 269.7 61.4 270.8 61.4 272 61.6 273.1 61.8 274.2 61.9 275.3 61.7 276.4 61.5 277.5 61.3 278.6 61.3 279.7 61.3 280.8 61.4 281.9 61.5 283 61.5 284.1 61.7 285.2 61.8 286.3 61.9 287.4 61.9" stroke="#bcbd22"/>
<path d="M122.6 59.9 123.7 59.9 124.8 59.9 125.9 59.8 127 59.8 128.1 59.8 129.2 59.7 130.3 59.5 131.4 59.5 132.5 59.4 133.6 59.3 134.7 59.3 135.8 59.3 136.9 59.5 138 59.7 139.1 59.9 140.2 59.9 141.3 59.7 142.4 59.5 143.5 59.4 144.6 59.5 145.7 59.7 146.8 59.9 147.9 59.8 149 59.6 150.1 59.4 151.2 59.5 152.3 59.8 153.4 59.9 154.5 59.7 155.6 59.5 156.7 59.5 157.8 59.7 158.9 59.9 160 59.8 161.1 59.5 162.2 59.5 163.3 59.7 164.4 59.9 165.5 59.7 166.6 59.5 167.7 59.5 168.8 59.8 169.9 59.9 171 59.6 172.1 59.5 173.2 59.7 174.3 59.9 175.4 59.7 176.5 59.5 177.6 59.6 178.7 59.8 179.8 59.8 180.9 59.6 182 59.5 183.1 59.8 184.2 59.9 185.3 59.6 186.4 59.5 187.5 59.7 188.6 59.9 189.7 59.6 190.8 59.5 191.9 59.7 193 59.9 194.1 59.7 195.2 59.5 196.3 59.7 197.4 59.9 198.5 59.7 199.6 59.5 200.7 59.7 201.8 59.9 202.9 59.6 204 59.5 205.1 59.8 206.3 59.9 207.4 59.6 208.5 59.5 209.6 59.8 210.7 59.8 211.8 59.6 212.9 59.6 214 59.9 215.1 59.8 216.2 59.5 217.3 59.7 218.4 59.9 219.5 59.7 220.6 59.5 221.7 59.7 222.8 59.9 223.9 59.6 225 59.6 226.1 59.8 227.2 59.8 228.3 59.5 229.4 59.6 230.5 59.9 231.6 59.7 232.7 59.5 233.8 59.7 234.9 59.9 236 59.6 237.1 59.5 238.2 59.8 239.3 59.8 240.4 59.6 241.5 59.6 242.6 59.8 243.7 59.8 244.8 59.5 245.9 59.6 247 59.8 248.1 59.8 249.2 59.5 250.3 59.5 251.4 59.8 252.5 59.8 253.6 59.6 254.7 59.5 255.8 59.7 256.9 59.9 258 59.7 259.1 59.5 260.2 59.5 261.3 59.8 262.4 59.9 263.5 59.7 264.6 59.4 265.7 59.5 266.8 59.7 267.9 59.9 269 59.8 270.1 59.5 271.2 59.4 272.3 59.5 273.4 59.7 274.5 59.9 275.6 59.9 276.7 59.7 277.8 59.5 278.9 59.3 280 59.3 281.1 59.3 282.2 59.4 283.3 59.5 284.4 59.6 285.5 59.8 286.6 59.8 287.7 59.9 288.8 59.9" stroke="#17becf"/>
<path d="M121.1 57.9 122.2 57.9 123.3 57.8 124.4 57.8 125.5 57.8 126.6 57.8 127.7 57.7 128.8 57.5 129.9 57.5 131 57.4 132.2 57.3 133.3 57.3 134.4 57.3 135.5 57.5 136.6 57.7 137.7 57.9 138.8 57.8 139.9 57.7 141 57.4 142.1 57.4 143.2 57.5 144.3 57.7 145.4 57.9 146.5 57.8 147.6 57.5 148.7 57.4 149.8 57.5 150.9 57.8 152 57.9 153.2 57.7 154.3 57.4 155.4 57.5 156.5 57.7 157.6 57.9 158.7 57.7 159.8 57.4 160.9 57.5 162 57.8 163.1 57.8 164.2 57.6 165.3 57.4 166.4 57.6 167.5 57.9 168.6 57.8 169.7 57.5 170.8 57.5 171.9 57.8 173 57.8 174.2 57.6 175.3 57.5 176.4 57.7 177.5 57.9 178.6 57.7 179.7 57.5 180.8 57.7 181.9 57.9 183 57.7 184.1 57.5 185.2 57.6 186.3 57.9 187.4 57.7 188.5 57.5 189.6 57.6 190.7 57.9 191.8 57.7 192.9 57.5 194 57.6 195.2 57.9 196.3 57.7 197.4 57.5 198.5 57.7 199.6 57.9 200.7 57.7 201.8 57.5 202.9 57.7 204 57.9 205.1 57.6 206.2 57.5 207.3 57.8 208.4 57.8 209.5 57.5 210.6 57.6 211.7 57.8 212.8 57.8 213.9 57.5 215 57.7 216.1 57.9 217.3 57.7 218.4 57.5 219.5 57.8 220.6 57.8 221.7 57.6 222.8 57.6 223.9 57.9 225 57.7 226.1 57.5 227.2 57.7 228.3 57.9 229.4 57.6 230.5 57.5 231.6 57.8 232.7 57.8 233.8 57.5 234.9 57.6 236 57.9 237.1 57.7 238.3 57.5 239.4 57.7 240.5 57.9 241.6 57.6 242.7 57.5 243.8 57.8 244.9 57.8 246 57.6 247.1 57.5 248.2 57.8 249.3 57.8 250.4 57.6 251.5 57.5 252.6 57.8 253.7 57.9 254.8 57.6 255.9 57.5 257 57.7 258.1 57.9 259.3 57.7 260.4 57.5 261.5 57.5 262.6 57.8 263.7 57.9 264.8 57.7 265.9 57.4 267 57.5 268.1 57.7 269.2 57.9 270.3 57.8 271.4 57.5 272.5 57.4 273.6 57.4 274.7 57.7 275.8 57.8 276.9 57.8 278 57.7 279.1 57.5 280.3 57.3 281.4 57.3 282.5 57.3 283.6 57.4 284.7 57.5 285.8 57.6 286.9 57.8 288 57.8 289.1 57.9 290.2 57.9" stroke="#1f77b4"/>
<path d="M119.7 55.8 120.8 55.8 121.9 55.8 123 55.8 124.1 55.8 125.2 55.7 126.3 55.7 127.4 55.5 128.5 55.5 129.6 55.4 130.7 55.3 131.8 55.2 132.9 55.3 134 55.5 135.1 55.7 136.2 55.8 137.3 55.8 138.4 55.7 139.5 55.4 140.6 55.3 141.7 55.5 142.8 55.7 143.9 55.8 145 55.8 146.1 55.5 147.2 55.4 148.3 55.5 149.4 55.8 150.5 55.8 151.6 55.6 152.7 55.4 153.8 55.5 154.9 55.7 156 55.8 157.1 55.6 158.2 55.4 159.3 55.5 160.4 55.8 161.5 55.8 162.6 55.6 163.8 55.4 164.9 55.6 166 55.8 167.1 55.7 168.2 55.5 169.3 55.5 170.4 55.8 171.5 55.8 172.6 55.5 173.7 55.5 174.8 55.7 175.9 55.8 177 55.6 178.1 55.5 179.2 55.7 180.3 55.8 181.4 55.6 182.5 55.5 183.6 55.7 184.7 55.8 185.8 55.6 186.9 55.5 188 55.7 189.1 55.8 190.2 55.6 191.3 55.5 192.4 55.7 193.5 55.8 194.6 55.6 195.7 55.5 196.8 55.8 197.9 55.8 199 55.5 200.1 55.5 201.2 55.8 202.3 55.8 203.4 55.5 204.5 55.6 205.6 55.8 206.7 55.7 207.8 55.5 208.9 55.7 210 55.8 211.1 55.6 212.2 55.5 213.3 55.8 214.4 55.8 215.5 55.5 216.6 55.6 217.7 55.8 218.8 55.7 219.9 55.5 221.1 55.7 222.2 55.8 223.3 55.6 224.4 55.5 225.5 55.8 226.6 55.7 227.7 55.5 228.8 55.7 229.9 55.8 231 55.6 232.1 55.5 233.2 55.8 234.3 55.8 235.4 55.5 236.5 55.6 237.6 55.8 238.7 55.7 239.8 55.5 240.9 55.7 242 55.8 243.1 55.6 244.2 55.5 245.3 55.8 246.4 55.8 247.5 55.5 248.6 55.5 249.7 55.8 250.8 55.8 251.9 55.5 253 55.5 254.1 55.8 255.2 55.8 256.3 55.6 257.4 55.4 258.5 55.7 259.6 55.8 260.7 55.7 261.8 55.4 262.9 55.5 264 55.8 265.1 55.8 266.2 55.6 267.3 55.4 268.4 55.5 269.5 55.7 270.6 55.8 271.7 55.7 272.8 55.5 273.9 55.3 275 55.4 276.1 55.7 277.2 55.8 278.4 55.8 279.5 55.6 280.6 55.4 281.7 55.3 282.8 55.2 283.9 55.3 285 55.4 286.1 55.5 287.2 55.6 288.3 55.8 289.4 55.8 290.5 55.8 291.6 55.8" stroke="#ff7f0e"/>
<path d="M118.3 53.8 119.4 53.8 120.5 53.8 121.6 53.8 122.7 53.8 123.8 53.7 124.9 53.6 126 53.5 127.1 53.4 128.2 53.3 129.4 53.3 130.5 53.2 131.6 53.3 132.7 53.4 133.8 53.6 134.9 53.8 136 53.8 137.1 53.6 138.2 53.4 139.3 53.3 140.4 53.4 141.5 53.7 142.6 53.8 143.7 53.7 144.8 53.4 145.9 53.3 147 53.5 148.1 53.8 149.2 53.8 150.3 53.5 151.5 53.4 152.6 53.5 153.7 53.8 154.8 53.8 155.9 53.5 157 53.4 158.1 53.6 159.2 53.8 160.3 53.7 161.4 53.4 162.5 53.4 163.6 53.7 164.7 53.8 165.8 53.6 166.9 53.4 168 53.6 169.1 53.8 170.2 53.6 171.3 53.4 172.4 53.6 173.6 53.8 174.7 53.7 175.8 53.4 176.9 53.5 178 53.8 179.1 53.7 180.2 53.4 181.3 53.5 182.4 53.8 183.5 53.7 184.6 53.4 185.7 53.6 186.8 53.8 187.9 53.7 189 53.4 190.1 53.6 191.2 53.8 192.3 53.6 193.4 53.4 194.5 53.7 195.7 53.8 196.8 53.6 197.9 53.5 199 53.7 200.1 53.8 201.2 53.5 202.3 53.5 203.4 53.8 204.5 53.7 205.6 53.5 206.7 53.6 207.8 53.8 208.9 53.6 210 53.5 211.1 53.7 212.2 53.8 213.3 53.5 214.4 53.6 215.5 53.8 216.7 53.6 217.8 53.5 218.9 53.7 220 53.8 221.1 53.5 222.2 53.5 223.3 53.8 224.4 53.7 225.5 53.5 226.6 53.7 227.7 53.8 228.8 53.5 229.9 53.5 231 53.8 232.1 53.7 233.2 53.5 234.3 53.7 235.4 53.8 236.5 53.5 237.6 53.5 238.8 53.8 239.9 53.7 241 53.5 242.1 53.6 243.2 53.8 244.3 53.6 245.4 53.4 246.5 53.7 247.6 53.8 248.7 53.5 249.8 53.5 250.9 53.7 252 53.8 253.1 53.5 254.2 53.4 255.3 53.7 256.4 53.8 257.5 53.6 258.6 53.4 259.7 53.6 260.9 53.8 262 53.7 263.1 53.4 264.2 53.4 265.3 53.7 266.4 53.8 267.5 53.6 268.6 53.4 269.7 53.4 270.8 53.7 271.9 53.8 273 53.7 274.1 53.4 275.2 53.3 276.3 53.4 277.4 53.6 278.5 53.8 279.6 53.8 280.7 53.6 281.8 53.4 283 53.3 284.1 53.2 285.2 53.3 286.3 53.4 287.4 53.5 288.5 53.6 289.6 53.7 290.7 53.8 291.8 53.8 292.9 53.8" stroke="#2ca02c"/>
<path d="M156.9 160.5 158.1 161 159.3 160.9 160.4 160.7 161.6 160.6 162.8 160.5 164 160.4 165.2 160.4 166.3 160.5 167.5 160.6 168.7 160.7 169.9 160.7 171.1 160.6 172.2 161.6" stroke="#1f77b4"/>
<path d="M152.7 158.6 153.8 157.7 154.9 157.9 156 157.7 157.1 157.6 158.3 157.5 159.4 157.6 160.5 157.9 161.6 158.4 162.7 159 163.8 159.5 165 159.7 166.1 159.7 167.2 159.4 168.3 158.9 169.4 158.3 170.5 157.8 171.7 157.4 172.8 157.1 173.9 157.1 175 157.1 176.1 157.3 177.2 157.5 178.4 157.7 179.5 157.7 180.6 158.8" stroke="#ff7f0e"/>
<path d="M149.1 156.2 150.2 155.9 151.3 155.2 152.4 155.2 153.5 155 154.6 154.9 155.7 154.8 156.8 155 157.9 155.4 159 156 160.1 156.4 161.2 156.7 162.4 156.6 163.5 156.2 164.6 155.7 165.7 155.3 166.8 155.1 167.9 155.2 169 155.6 170.1 156.1 171.2 156.5 172.3 156.7 173.4 156.6 174.5 156.3 175.6 155.8 176.7 155.3 177.8 154.9 178.9 154.6 180 154.5 181.1 154.6 182.2 154.7 183.3 154.9 184.4 155.1 185.5 155.1 186.6 156" stroke="#2ca02c"/>
<path d="M145.7 153.7 146.8 153.5 148 153.2 149.1 152.7 150.2 152.6 151.3 152.4 152.4 152.3 153.6 152.2 154.7 152.4 155.8 152.9 156.9 153.4 158 153.8 159.2 153.9 160.3 153.6 161.4 153.1 162.5 152.7 163.6 152.6 164.8 152.8 165.9 153.3 167 153.7 168.1 153.9 169.2 153.7 170.4 153.2 171.5 152.7 172.6 152.5 173.7 152.5 174.8 152.9 176 153.4 177.1 153.7 178.2 153.9 179.3 153.7 180.4 153.4 181.6 152.9 182.7 152.4 183.8 152.1 184.9 152 186 152 187.2 152.1 188.3 152.3 189.4 152.5 190.5 152.6 191.6 153.3" stroke="#d62728"/>
<path d="M143.2 151 144.3 150.9 145.4 150.7 146.5 150.4 147.6 150.1 148.7 150 149.8 149.8 150.9 149.7 152 149.7 153.1 150 154.2 150.5 155.3 150.9 156.4 151.2 157.5 151.1 158.6 150.7 159.7 150.2 160.8 150 161.9 150.2 163 150.7 164.1 151.1 165.2 151.2 166.3 150.8 167.4 150.4 168.5 150 169.6 150.1 170.7 150.4 171.8 150.9 172.9 151.2 174 151.1 175.1 150.7 176.2 150.3 177.3 149.9 178.4 149.9 179.5 150.2 180.6 150.6 181.7 151 182.8 151.2 183.9 151.1 185 150.8 186.1 150.3 187.2 149.9 188.3 149.6 189.4 149.5 190.5 149.5 191.6 149.6 192.7 149.8 193.8 150 194.9 150.1 196 150.7" stroke="#9467bd"/>
<path d="M141.2 148.4 142.3 148.3 143.4 148.2 144.5 147.9 145.6 147.6 146.7 147.5 147.8 147.3 149 147.2 150.1 147.2 151.2 147.5 152.3 147.9 153.4 148.4 154.5 148.6 155.6 148.4 156.7 148 157.8 147.6 159 147.6 160.1 147.9 161.2 148.4 162.3 148.6 163.4 148.3 164.5 147.9 165.6 147.6 166.7 147.6 167.8 148 169 148.4 170.1 148.5 171.2 148.3 172.3 147.8 173.4 147.5 174.5 147.6 175.6 148 176.7 148.4 177.8 148.6 178.9 148.4 180.1 148 181.2 147.5 182.3 147.4 183.4 147.5 184.5 147.9 185.6 148.3 186.7 148.5 187.8 148.5 188.9 148.3 190.1 147.9 191.2 147.5 192.3 147.2 193.4 147 194.5 147 195.6 147.1 196.7 147.3 197.8 147.5 198.9 147.6 200 148.1" stroke="#8c564b"/>
<path d="M139.3 145.9 140.4 145.8 141.5 145.7 142.6 145.4 143.7 145.1 144.9 145 146 144.8 147.1 144.7 148.2 144.8 149.3 145 150.4 145.4 151.5 145.8 152.6 146 153.7 145.9 154.8 145.5 155.9 145.1 157.1 145.1 158.2 145.5 159.3 145.9 160.4 146 161.5 145.7 162.6 145.2 163.7 145.1 164.8 145.4 165.9 145.8 167 146 168.2 145.8 169.3 145.3 170.4 145.1 171.5 145.2 172.6 145.6 173.7 146 174.8 145.9 175.9 145.6 177 145.2 178.1 145 179.2 145.2 180.4 145.7 181.5 146 182.6 146 183.7 145.6 184.8 145.2 185.9 144.9 187 145 188.1 145.3 189.2 145.7 190.3 146 191.4 146 192.6 145.8 193.7 145.4 194.8 145.1 195.9 144.8 197 144.6 198.1 144.6 199.2 144.7 200.3 144.9 201.4 145 202.5 145.1 203.6 145.6" stroke="#e377c2"/>
<path d="M137.5 143.4 138.6 143.4 139.7 143.2 140.8 143 141.9 142.7 143.1 142.6 144.2 142.4 145.3 142.3 146.4 142.3 147.5 142.6 148.6 142.9 149.7 143.3 150.8 143.5 151.9 143.4 153 143 154.1 142.7 155.2 142.7 156.3 143 157.4 143.4 158.5 143.5 159.6 143.2 160.7 142.8 161.8 142.7 162.9 143.1 164 143.5 165.1 143.5 166.2 143.1 167.3 142.7 168.4 142.7 169.5 143.1 170.6 143.5 171.7 143.5 172.8 143.1 173.9 142.7 175.1 142.7 176.2 143 177.3 143.4 178.4 143.5 179.5 143.3 180.6 142.8 181.7 142.6 182.8 142.7 183.9 143.1 185 143.5 186.1 143.5 187.2 143.2 188.3 142.8 189.4 142.5 190.5 142.5 191.6 142.8 192.7 143.2 193.8 143.5 194.9 143.5 196 143.4 197.1 143 198.2 142.7 199.3 142.4 200.4 142.2 201.5 142.2 202.6 142.3 203.7 142.5 204.8 142.6 205.9 142.7 207 143.2" stroke="#7f7f7f"/>
<path d="M135.9 141 137 141 138.1 140.9 139.2 140.7 140.3 140.4 141.4 140.3 142.5 140.1 143.6 140 144.7 140 145.9 140.2 147 140.6 148.1 141 149.2 141.1 150.3 141 151.4 140.6 152.5 140.3 153.6 140.3 154.7 140.7 155.8 141.1 157 141 158.1 140.7 159.2 140.3 160.3 140.5 161.4 140.9 162.5 141.1 163.6 140.9 164.7 140.5 165.8 140.3 166.9 140.7 168.1 141.1 169.2 141.1 170.3 140.7 171.4 140.4 172.5 140.4 173.6 140.8 174.7 141.1 175.8 141 176.9 140.6 178.1 140.3 179.2 140.4 180.3 140.8 181.4 141.1 182.5 141 183.6 140.7 184.7 140.3 185.8 140.3 186.9 140.6 188 140.9 189.2 141.1 190.3 141 191.4 140.6 192.5 140.2 193.6 140.1 194.7 140.3 195.8 140.7 196.9 141 198 141.1 199.1 141 200.3 140.7 201.4 140.3 202.5 140 203.6 139.9 204.7 139.9 205.8 140 206.9 140.1 208 140.3 209.1 140.4 210.2 140.8" stroke="#bcbd22"/>
<path d="M134.3 138.7 135.4 138.6 136.5 138.5 137.6 138.4 138.7 138.1 139.8 138 141 137.8 142.1 137.7 143.2 137.7 144.3 137.9 145.4 138.3 146.5 138.6 147.6 138.8 148.7 138.6 149.9 138.2 151 138 152.1 138.1 153.2 138.5 154.3 138.8 155.4 138.7 156.5 138.3 157.6 138 158.8 138.3 159.9 138.7 161 138.8 162.1 138.4 163.2 138.1 164.3 138.2 165.4 138.6 166.5 138.8 167.7 138.5 168.8 138.1 169.9 138.1 171 138.4 172.1 138.8 173.2 138.7 174.3 138.2 175.4 138 176.5 138.2 177.7 138.6 178.8 138.8 179.9 138.5 181 138.1 182.1 138 183.2 138.3 184.3 138.7 185.4 138.8 186.6 138.5 187.7 138.1 188.8 137.9 189.9 138.1 191 138.5 192.1 138.8 193.2 138.7 194.3 138.3 195.5 138 196.6 137.8 197.7 138 198.8 138.3 199.9 138.6 201 138.8 202.1 138.7 203.2 138.4 204.4 138.1 205.5 137.8 206.6 137.6 207.7 137.6 208.8 137.7 209.9 137.8 211 138 212.1 138.1 213.2 138.5" stroke="#17becf"/>
<path d="M132.8 136.4 133.9 136.4 135 136.3 136.1 136.1 137.3 135.8 138.4 135.7 139.5 135.6 140.6 135.4 141.7 135.4 142.8 135.6 143.9 136 145 136.4 146.1 136.5 147.3 136.3 148.4 135.9 149.5 135.7 150.6 135.8 151.7 136.2 152.8 136.5 153.9 136.3 155 135.9 156.1 135.8 157.3 136.1 158.4 136.4 159.5 136.4 160.6 136 161.7 135.8 162.8 136 163.9 136.4 165 136.4 166.1 136 167.3 135.8 168.4 136 169.5 136.4 170.6 136.4 171.7 136.1 172.8 135.8 173.9 135.9 175 136.4 176.1 136.5 177.3 136.2 178.4 135.8 179.5 135.8 180.6 136.2 181.7 136.5 182.8 136.4 183.9 136 185 135.7 186.1 135.9 187.3 136.3 188.4 136.5 189.5 136.3 190.6 135.9 191.7 135.7 192.8 135.8 193.9 136.2 195 136.5 196.1 136.4 197.3 136.1 198.4 135.8 199.5 135.6 200.6 135.7 201.7 136 202.8 136.3 203.9 136.5 205 136.4 206.1 136.1 207.3 135.8 208.4 135.5 209.5 135.4 210.6 135.3 211.7 135.4 212.8 135.6 213.9 135.7 215 135.8 216.1 136.2" stroke="#1f77b4"/>
<path d="M131.4 134.2 132.5 134.1 133.6 134.1 134.7 133.9 135.8 133.7 136.9 133.5 138 133.4 139.1 133.3 140.3 133.3 141.4 133.4 142.5 133.8 143.6 134.1 144.7 134.3 145.8 134.1 146.9 133.7 148 133.5 149.1 133.6 150.2 134 151.3 134.3 152.4 134.1 153.6 133.7 154.7 133.6 155.8 133.9 156.9 134.2 158 134.1 159.1 133.7 160.2 133.6 161.3 133.9 162.4 134.3 163.5 134.1 164.6 133.7 165.7 133.6 166.9 134 168 134.3 169.1 134 170.2 133.7 171.3 133.6 172.4 134 173.5 134.3 174.6 134 175.7 133.6 176.8 133.6 177.9 134 179 134.3 180.2 134.1 181.3 133.7 182.4 133.6 183.5 133.9 184.6 134.2 185.7 134.2 186.8 133.8 187.9 133.5 189 133.6 190.1 134 191.2 134.3 192.3 134.1 193.5 133.7 194.6 133.5 195.7 133.6 196.8 133.9 197.9 134.2 199 134.2 200.1 133.9 201.2 133.6 202.3 133.4 203.4 133.5 204.5 133.8 205.6 134.1 206.8 134.3 207.9 134.2 209 133.9 210.1 133.6 211.2 133.3 212.3 133.2 213.4 133.2 214.5 133.3 215.6 133.4 216.7 133.5 217.8 133.6 218.9 134" stroke="#ff7f0e"/>
<path d="M130 132 131.1 132 132.2 131.9 133.3 131.8 134.4 131.5 135.5 131.4 136.6 131.3 137.7 131.1 138.8 131.1 139.9 131.3 141.1 131.6 142.2 131.9 143.3 132.1 144.4 131.9 145.5 131.6 146.6 131.3 147.7 131.5 148.8 131.8 149.9 132.1 151 131.9 152.1 131.6 153.2 131.4 154.3 131.7 155.4 132.1 156.5 132 157.6 131.6 158.7 131.5 159.8 131.8 160.9 132.1 162 131.9 163.1 131.5 164.2 131.6 165.3 132 166.4 132.1 167.5 131.7 168.6 131.5 169.7 131.7 170.8 132 171.9 132 173.1 131.6 174.2 131.4 175.3 131.7 176.4 132.1 177.5 132 178.6 131.6 179.7 131.4 180.8 131.7 181.9 132.1 183 132 184.1 131.6 185.2 131.4 186.3 131.6 187.4 132 188.5 132.1 189.6 131.7 190.7 131.4 191.8 131.4 192.9 131.8 194 132.1 195.1 132 196.2 131.6 197.3 131.3 198.4 131.4 199.5 131.7 200.6 132 201.7 132.1 202.8 131.8 203.9 131.4 205 131.2 206.2 131.3 207.3 131.6 208.4 131.9 209.5 132.1 210.6 132 211.7 131.8 212.8 131.5 213.9 131.2 215 131.1 216.1 131 217.2 131.1 218.3 131.3 219.4 131.4 220.5 131.5 221.6 131.8" stroke="#2ca02c"/>
<path d="M128.7 129.9 129.9 129.9 131 129.8 132.1 129.7 133.2 129.5 134.3 129.3 135.4 129.2 136.5 129.1 137.6 129 138.7 129.2 139.8 129.5 141 129.9 142.1 130 143.2 129.8 144.3 129.5 145.4 129.2 146.5 129.4 147.6 129.8 148.7 130 149.8 129.8 151 129.4 152.1 129.4 153.2 129.8 154.3 130 155.4 129.7 156.5 129.4 157.6 129.5 158.7 129.9 159.8 129.9 160.9 129.6 162.1 129.4 163.2 129.7 164.3 130 165.4 129.8 166.5 129.4 167.6 129.5 168.7 129.9 169.8 129.9 170.9 129.6 172.1 129.4 173.2 129.7 174.3 130 175.4 129.8 176.5 129.4 177.6 129.4 178.7 129.8 179.8 130 180.9 129.7 182 129.4 183.2 129.4 184.3 129.8 185.4 130 186.5 129.7 187.6 129.4 188.7 129.4 189.8 129.8 190.9 130 192 129.8 193.2 129.4 194.3 129.3 195.4 129.6 196.5 129.9 197.6 129.9 198.7 129.6 199.8 129.3 200.9 129.3 202 129.6 203.1 129.9 204.3 130 205.4 129.8 206.5 129.4 207.6 129.2 208.7 129.2 209.8 129.5 210.9 129.8 212 130 213.1 129.9 214.3 129.7 215.4 129.4 216.5 129.1 217.6 129 218.7 129 219.8 129.1 220.9 129.2 222 129.3 223.1 129.4 224.2 129.7" stroke="#d62728"/>
<path d="M127.5 127.9 128.6 127.8 129.7 127.8 130.8 127.7 131.9 127.5 133 127.3 134.1 127.2 135.2 127.1 136.3 127 137.5 127.2 138.6 127.5 139.7 127.8 140.8 127.9 141.9 127.8 143 127.4 144.1 127.2 145.2 127.4 146.3 127.7 147.4 127.9 148.5 127.7 149.6 127.4 150.7 127.3 151.8 127.7 152.9 127.9 154 127.7 155.1 127.4 156.2 127.5 157.3 127.8 158.4 127.9 159.5 127.5 160.6 127.4 161.7 127.7 162.8 127.9 163.9 127.7 165 127.4 166.1 127.6 167.3 127.9 168.4 127.8 169.5 127.4 170.6 127.4 171.7 127.8 172.8 127.9 173.9 127.6 175 127.3 176.1 127.6 177.2 127.9 178.3 127.8 179.4 127.4 180.5 127.4 181.6 127.7 182.7 127.9 183.8 127.7 184.9 127.3 186 127.4 187.1 127.8 188.2 127.9 189.3 127.6 190.4 127.3 191.5 127.4 192.6 127.7 193.7 127.9 194.8 127.7 195.9 127.3 197.1 127.3 198.2 127.6 199.3 127.9 200.4 127.9 201.5 127.6 202.6 127.3 203.7 127.2 204.8 127.5 205.9 127.9 207 127.9 208.1 127.7 209.2 127.3 210.3 127.1 211.4 127.2 212.5 127.5 213.6 127.8 214.7 127.9 215.8 127.9 216.9 127.6 218 127.3 219.1 127.1 220.2 127 221.3 127 222.4 127 223.5 127.2 224.6 127.3 225.7 127.4 226.8 127.7" stroke="#9467bd"/>
<path d="M126.4 125.9 127.5 125.9 128.6 125.8 129.7 125.7 130.8 125.5 131.9 125.4 133 125.2 134.2 125.1 135.3 125.1 136.4 125.2 137.5 125.5 138.6 125.8 139.7 125.9 140.8 125.8 141.9 125.4 143 125.2 144.1 125.4 145.2 125.8 146.4 125.9 147.5 125.7 148.6 125.3 149.7 125.4 150.8 125.8 151.9 125.9 153 125.6 154.1 125.4 155.2 125.6 156.3 125.9 157.4 125.8 158.5 125.4 159.7 125.5 160.8 125.9 161.9 125.9 163 125.5 164.1 125.4 165.2 125.8 166.3 125.9 167.4 125.6 168.5 125.4 169.6 125.7 170.7 125.9 171.9 125.7 173 125.4 174.1 125.6 175.2 125.9 176.3 125.8 177.4 125.4 178.5 125.4 179.6 125.8 180.7 125.9 181.8 125.6 182.9 125.3 184 125.6 185.2 125.9 186.3 125.8 187.4 125.4 188.5 125.4 189.6 125.7 190.7 125.9 191.8 125.7 192.9 125.4 194 125.3 195.1 125.7 196.2 125.9 197.3 125.8 198.5 125.4 199.6 125.3 200.7 125.5 201.8 125.9 202.9 125.9 204 125.6 205.1 125.3 206.2 125.3 207.3 125.5 208.4 125.9 209.5 125.9 210.7 125.7 211.8 125.4 212.9 125.2 214 125.2 215.1 125.5 216.2 125.8 217.3 125.9 218.4 125.9 219.5 125.6 220.6 125.4 221.7 125.1 222.8 125 224 125 225.1 125.1 226.2 125.2 227.3 125.3 228.4 125.4 229.5 125.7" stroke="#8c564b"/>
<path d="M125.3 124 126.4 123.9 127.5 123.9 128.6 123.8 129.7 123.6 130.8 123.4 131.9 123.3 133 123.2 134.1 123.2 135.2 123.3 136.3 123.6 137.4 123.9 138.5 124 139.6 123.8 140.7 123.5 141.8 123.3 143 123.5 144.1 123.9 145.2 124 146.3 123.7 147.4 123.4 148.5 123.5 149.6 123.9 150.7 124 151.8 123.7 152.9 123.4 154 123.7 155.1 124 156.2 123.8 157.3 123.5 158.4 123.6 159.5 124 160.6 123.9 161.7 123.5 162.8 123.6 163.9 123.9 165.1 123.9 166.2 123.5 167.3 123.5 168.4 123.9 169.5 124 170.6 123.6 171.7 123.5 172.8 123.8 173.9 124 175 123.7 176.1 123.5 177.2 123.7 178.3 124 179.4 123.8 180.5 123.5 181.6 123.6 182.7 123.9 183.8 123.9 184.9 123.6 186 123.5 187.1 123.8 188.3 124 189.4 123.8 190.5 123.4 191.6 123.5 192.7 123.9 193.8 124 194.9 123.7 196 123.4 197.1 123.5 198.2 123.9 199.3 124 200.4 123.7 201.5 123.4 202.6 123.4 203.7 123.7 204.8 124 205.9 123.9 207 123.5 208.1 123.3 209.2 123.4 210.4 123.7 211.5 124 212.6 123.9 213.7 123.6 214.8 123.3 215.9 123.2 217 123.4 218.1 123.7 219.2 123.9 220.3 124 221.4 123.9 222.5 123.6 223.6 123.4 224.7 123.2 225.8 123.1 226.9 123.1 228 123.2 229.1 123.3 230.2 123.4 231.3 123.5 232.4 123.8" stroke="#e377c2"/>
<path d="M124.2 122.1 125.3 122 126.4 122 127.5 121.9 128.6 121.7 129.8 121.6 130.9 121.5 132 121.3 133.1 121.3 134.2 121.4 135.3 121.7 136.4 122 137.5 122.1 138.6 121.9 139.7 121.6 140.9 121.5 142 121.7 143.1 122 144.2 122.1 145.3 121.8 146.4 121.5 147.5 121.7 148.6 122 149.7 122.1 150.8 121.7 152 121.6 153.1 121.9 154.2 122.1 155.3 121.8 156.4 121.6 157.5 121.9 158.6 122.1 159.7 121.9 160.8 121.6 162 121.9 163.1 122.1 164.2 121.9 165.3 121.6 166.4 121.9 167.5 122.1 168.6 121.9 169.7 121.6 170.8 121.8 171.9 122.1 173.1 121.9 174.2 121.6 175.3 121.8 176.4 122.1 177.5 121.9 178.6 121.6 179.7 121.7 180.8 122.1 181.9 122 183.1 121.7 184.2 121.6 185.3 122 186.4 122.1 187.5 121.8 188.6 121.6 189.7 121.8 190.8 122.1 191.9 122 193 121.6 194.2 121.6 195.3 121.9 196.4 122.1 197.5 121.9 198.6 121.6 199.7 121.6 200.8 122 201.9 122.1 203 121.9 204.1 121.6 205.3 121.5 206.4 121.8 207.5 122.1 208.6 122 209.7 121.7 210.8 121.5 211.9 121.5 213 121.8 214.1 122.1 215.3 122.1 216.4 121.8 217.5 121.5 218.6 121.4 219.7 121.5 220.8 121.8 221.9 122 223 122.1 224.1 122 225.2 121.8 226.4 121.6 227.5 121.4 228.6 121.2 229.7 121.2 230.8 121.3 231.9 121.4 233 121.5 234.1 121.6 235.2 121.6 236.3 121.9" stroke="#7f7f7f"/>
<path d="M275 237 276.2 236.6 277.4 235.9 278.6 236.2 279.8 237 281 237.3" stroke="#1f77b4"/>
<path d="M262.3 234.8 263.4 234.2 264.5 233.7 265.6 233.7 266.8 233.5 267.9 233.3 269 233.2 270.1 233.2 271.2 233.4 272.3 233.8 273.4 234.3 274.5 234.9 275.6 235.3 276.7 235.6 277.8 235.7 278.9 235.4 280 235 281.1 234.4 282.2 233.9 283.3 233.5 284.4 233.3 285.5 233.3 286.7 233.4 287.8 233.6 288.9 233.7 290 233.6 291.1 234.8" stroke="#ff7f0e"/>
<path d="M254.3 233 255.4 232.7 256.5 232.2 257.7 232 258.8 231.9 259.9 231.7 261 231.6 262.2 231.5 263.3 231.6 264.4 231.7 265.6 232.1 266.7 232.5 267.8 232.9 268.9 233.3 270.1 233.5 271.2 233.4 272.3 233.1 273.5 232.7 274.6 232.3 275.7 232 276.9 232 278 232.1 279.1 232.5 280.2 233 281.4 233.3 282.5 233.5 283.6 233.4 284.8 233.1 285.9 232.6 287 232.2 288.1 231.9 289.3 231.7 290.4 231.6 291.5 231.7 292.7 231.9 293.8 232 294.9 232 296.1 232.9" stroke="#2ca02c"/>
<path d="M247.8 231.2 248.9 231.1 250 230.8 251.1 230.3 252.2 230.3 253.3 230.1 254.4 230 255.5 229.9 256.6 229.8 257.7 229.9 258.8 230 259.9 230.3 261 230.7 262.1 231 263.2 231.3 264.3 231.5 265.4 231.4 266.5 231.1 267.6 230.8 268.7 230.4 269.8 230.2 270.9 230.3 272 230.5 273.1 230.9 274.2 231.2 275.3 231.4 276.4 231.4 277.5 231.2 278.6 230.8 279.7 230.5 280.8 230.3 282 230.3 283.1 230.6 284.2 231 285.3 231.3 286.4 231.5 287.5 231.4 288.6 231.2 289.7 230.8 290.8 230.4 291.9 230.1 293 230 294.1 229.9 295.2 230 296.3 230.2 297.4 230.3 298.5 230.4 299.6 231" stroke="#d62728"/>
<path d="M242.1 229.4 243.3 229.3 244.4 229.1 245.5 228.8 246.6 228.5 247.7 228.5 248.8 228.3 250 228.2 251.1 228.1 252.2 228.1 253.3 228.2 254.4 228.4 255.5 228.7 256.7 229.1 257.8 229.4 258.9 229.5 260 229.5 261.1 229.3 262.2 229 263.3 228.7 264.5 228.5 265.6 228.5 266.7 228.7 267.8 229.1 268.9 229.4 270 229.6 271.2 229.5 272.3 229.2 273.4 228.8 274.5 228.6 275.6 228.6 276.7 228.8 277.9 229.2 279 229.5 280.1 229.6 281.2 229.4 282.3 229 283.4 228.7 284.6 228.5 285.7 228.6 286.8 228.9 287.9 229.2 289 229.5 290.1 229.6 291.2 229.4 292.4 229.1 293.5 228.7 294.6 228.4 295.7 228.2 296.8 228.2 297.9 228.3 299.1 228.4 300.2 228.5 301.3 228.7 302.4 229.2" stroke="#9467bd"/>
<path d="M237.7 227.6 238.8 227.5 239.9 227.3 241 227.1 242.1 226.8 243.2 226.7 244.3 226.6 245.4 226.5 246.5 226.4 247.6 226.3 248.7 226.4 249.8 226.6 250.9 226.9 252 227.2 253.1 227.5 254.2 227.7 255.3 227.7 256.4 227.5 257.5 227.2 258.6 226.9 259.7 226.7 260.8 226.7 261.9 226.9 263 227.2 264.1 227.6 265.2 227.7 266.3 227.6 267.4 227.3 268.5 226.9 269.6 226.7 270.7 226.8 271.8 227.1 272.9 227.5 274 227.7 275.1 227.6 276.2 227.3 277.3 227 278.4 226.8 279.5 226.8 280.6 227.1 281.7 227.4 282.8 227.7 283.9 227.6 285 227.4 286.1 227 287.2 226.8 288.3 226.7 289.4 227 290.5 227.3 291.6 227.6 292.7 227.7 293.8 227.6 294.9 227.3 296 226.9 297.1 226.6 298.2 226.5 299.3 226.4 300.4 226.5 301.5 226.7 302.6 226.8 303.7 227 304.8 227.4" stroke="#8c564b"/>
<path d="M233.6 225.7 234.7 225.6 235.8 225.5 236.9 225.3 238.1 225 239.2 224.9 240.3 224.8 241.4 224.7 242.5 224.6 243.6 224.6 244.7 224.6 245.8 224.8 246.9 225.1 248 225.4 249.2 225.7 250.3 225.8 251.4 225.7 252.5 225.5 253.6 225.2 254.7 224.9 255.8 224.8 256.9 225 258 225.3 259.1 225.6 260.3 225.8 261.4 225.8 262.5 225.5 263.6 225.2 264.7 225 265.8 225 266.9 225.2 268 225.6 269.1 225.8 270.2 225.7 271.3 225.5 272.5 225.1 273.6 225 274.7 225.1 275.8 225.4 276.9 225.7 278 225.8 279.1 225.6 280.2 225.3 281.3 225 282.4 225 283.6 225.3 284.7 225.6 285.8 225.8 286.9 225.7 288 225.4 289.1 225.1 290.2 224.9 291.3 225 292.4 225.3 293.5 225.6 294.7 225.8 295.8 225.8 296.9 225.5 298 225.2 299.1 224.9 300.2 224.7 301.3 224.7 302.4 224.7 303.5 224.9 304.6 225 305.8 225.2 306.9 225.6" stroke="#e377c2"/>
<path d="M229.8 223.9 230.9 223.8 232 223.7 233.1 223.5 234.2 223.2 235.4 223.1 236.5 223 237.6 222.9 238.7 222.8 239.8 222.8 240.9 222.9 242 223 243.1 223.3 244.2 223.6 245.4 223.9 246.5 224 247.6 223.9 248.7 223.6 249.8 223.3 250.9 223.1 252 223 253.1 223.2 254.2 223.5 255.4 223.8 256.5 224 257.6 223.8 258.7 223.5 259.8 223.2 260.9 223.1 262 223.3 263.1 223.6 264.2 223.9 265.4 223.9 266.5 223.7 267.6 223.4 268.7 223.2 269.8 223.2 270.9 223.5 272 223.9 273.1 224 274.2 223.8 275.4 223.4 276.5 223.2 277.6 223.3 278.7 223.6 279.8 223.9 280.9 223.9 282 223.7 283.1 223.4 284.2 223.2 285.4 223.3 286.5 223.6 287.6 223.9 288.7 224 289.8 223.8 290.9 223.4 292 223.2 293.1 223.2 294.2 223.4 295.4 223.7 296.5 223.9 297.6 223.9 298.7 223.7 299.8 223.4 300.9 223.1 302 222.9 303.1 222.9 304.2 223 305.4 223.1 306.5 223.2 307.6 223.4 308.7 223.7" stroke="#7f7f7f"/>
<path d="M226.2 222 227.3 222 228.4 221.9 229.5 221.7 230.6 221.4 231.7 221.3 232.8 221.2 233.9 221.1 235 221 236.2 221 237.3 221.1 238.4 221.2 239.5 221.5 240.6 221.8 241.7 222 242.8 222.1 243.9 222 245 221.8 246.1 221.5 247.2 221.3 248.3 221.3 249.4 221.4 250.6 221.7 251.7 222 252.8 222.1 253.9 222 255 221.7 256.1 221.4 257.2 221.3 258.3 221.5 259.4 221.9 260.5 222.1 261.6 222.1 262.7 221.8 263.8 221.5 265 221.4 266.1 221.6 267.2 221.9 268.3 222.1 269.4 222 270.5 221.7 271.6 221.4 272.7 221.4 273.8 221.7 274.9 222 276 222.1 277.1 221.9 278.2 221.6 279.4 221.4 280.5 221.5 281.6 221.8 282.7 222.1 283.8 222.1 284.9 221.8 286 221.5 287.1 221.4 288.2 221.6 289.3 221.9 290.4 222.1 291.5 222 292.6 221.7 293.8 221.4 294.9 221.3 296 221.5 297.1 221.8 298.2 222.1 299.3 222.1 300.4 221.9 301.5 221.6 302.6 221.3 303.7 221.1 304.8 221.1 305.9 221.2 307 221.3 308.2 221.4 309.3 221.7 310.4 221.9" stroke="#bcbd22"/>
<path d="M222.8 220.2 223.9 220.1 225 220 226.2 219.9 227.3 219.6 228.4 219.5 229.5 219.4 230.6 219.3 231.7 219.2 232.8 219.2 234 219.3 235.1 219.5 236.2 219.7 237.3 220 238.4 220.2 239.5 220.3 240.6 220.2 241.8 219.9 242.9 219.6 244 219.4 245.1 219.5 246.2 219.7 247.3 220 248.4 220.2 249.5 220.2 250.7 220 251.8 219.7 252.9 219.5 254 219.6 255.1 219.9 256.2 220.2 257.3 220.3 258.5 220.1 259.6 219.7 260.7 219.6 261.8 219.7 262.9 220 264 220.2 265.1 220.2 266.2 220 267.4 219.7 268.5 219.6 269.6 219.8 270.7 220.2 271.8 220.3 272.9 220.1 274 219.7 275.2 219.6 276.3 219.8 277.4 220.1 278.5 220.3 279.6 220.1 280.7 219.8 281.8 219.6 282.9 219.7 284.1 220 285.2 220.3 286.3 220.2 287.4 219.9 288.5 219.6 289.6 219.6 290.7 219.9 291.9 220.2 293 220.3 294.1 220 295.2 219.7 296.3 219.5 297.4 219.6 298.5 219.9 299.6 220.2 300.8 220.3 301.9 220.1 303 219.9 304.1 219.5 305.2 219.4 306.3 219.3 307.4 219.4 308.6 219.5 309.7 219.6 310.8 219.9 311.9 220.1" stroke="#17becf"/>
<path d="M219.6 218.4 220.7 218.3 221.8 218.2 222.9 218.1 224 217.8 225.1 217.8 226.2 217.6 227.3 217.5 228.4 217.4 229.5 217.4 230.6 217.5 231.7 217.6 232.8 217.9 233.9 218.2 235 218.4 236.1 218.4 237.2 218.3 238.3 218.1 239.4 217.8 240.5 217.6 241.6 217.7 242.7 217.9 243.8 218.2 244.9 218.4 246 218.4 247.1 218.2 248.2 217.9 249.3 217.7 250.4 217.8 251.5 218.1 252.7 218.4 253.8 218.4 254.9 218.2 256 217.9 257.1 217.7 258.2 217.9 259.3 218.2 260.4 218.4 261.5 218.4 262.6 218.1 263.7 217.8 264.8 217.8 265.9 218.1 267 218.4 268.1 218.4 269.2 218.1 270.3 217.8 271.4 217.8 272.5 218.1 273.6 218.4 274.7 218.4 275.8 218.1 276.9 217.9 278 217.8 279.1 218.1 280.2 218.4 281.3 218.4 282.4 218.1 283.5 217.8 284.6 217.8 285.7 218.1 286.8 218.4 287.9 218.4 289.1 218.1 290.2 217.8 291.3 217.8 292.4 218 293.5 218.3 294.6 218.4 295.7 218.3 296.8 217.9 297.9 217.7 299 217.8 300.1 218.1 301.2 218.3 302.3 218.4 303.4 218.3 304.5 218 305.6 217.7 306.7 217.6 307.8 217.5 308.9 217.6 310 217.7 311.1 217.8 312.2 218.1 313.3 218.3" stroke="#1f77b4"/>
<path d="M216.4 216.5 217.5 216.5 218.7 216.4 219.8 216.3 220.9 216 222 216 223.1 215.8 224.2 215.7 225.3 215.6 226.4 215.6 227.5 215.7 228.6 215.8 229.7 216.1 230.8 216.3 231.9 216.5 233 216.6 234.1 216.5 235.2 216.2 236.3 216 237.4 215.8 238.5 215.9 239.6 216.1 240.7 216.4 241.8 216.6 242.9 216.6 244 216.3 245.1 216 246.2 215.9 247.3 216 248.4 216.3 249.5 216.6 250.6 216.6 251.7 216.3 252.8 216 253.9 215.9 255 216.2 256.1 216.5 257.2 216.6 258.4 216.4 259.5 216.1 260.6 216 261.7 216.1 262.8 216.4 263.9 216.6 265 216.4 266.1 216.1 267.2 216 268.3 216.2 269.4 216.5 270.5 216.6 271.6 216.4 272.7 216.1 273.8 216 274.9 216.2 276 216.5 277.1 216.6 278.2 216.3 279.3 216 280.4 216 281.5 216.3 282.6 216.6 283.7 216.5 284.8 216.2 285.9 216 287 216.1 288.1 216.4 289.2 216.6 290.3 216.5 291.4 216.1 292.5 216 293.6 216.1 294.7 216.4 295.8 216.6 297 216.5 298.1 216.2 299.2 215.9 300.3 215.9 301.4 216.2 302.5 216.5 303.6 216.6 304.7 216.5 305.8 216.2 306.9 215.9 308 215.8 309.1 215.7 310.2 215.8 311.3 215.9 312.4 216 313.5 216.3 314.6 216.5" stroke="#ff7f0e"/>
<path d="M213.4 214.7 214.5 214.7 215.6 214.6 216.7 214.5 217.8 214.2 218.9 214.2 220 214.1 221.1 213.9 222.2 213.8 223.3 213.8 224.4 213.9 225.5 214 226.6 214.3 227.8 214.5 228.9 214.7 230 214.8 231.1 214.7 232.2 214.4 233.3 214.2 234.4 214 235.5 214.1 236.6 214.3 237.7 214.6 238.8 214.8 239.9 214.7 241 214.4 242.1 214.2 243.2 214.1 244.3 214.3 245.4 214.6 246.5 214.8 247.6 214.7 248.7 214.4 249.8 214.2 250.9 214.2 252 214.4 253.1 214.7 254.2 214.7 255.3 214.5 256.4 214.2 257.5 214.2 258.6 214.4 259.7 214.7 260.8 214.7 261.9 214.5 263 214.2 264.1 214.2 265.2 214.5 266.3 214.8 267.4 214.7 268.5 214.4 269.6 214.2 270.7 214.3 271.8 214.7 272.9 214.8 274 214.6 275.1 214.2 276.2 214.2 277.3 214.5 278.4 214.8 279.5 214.7 280.6 214.4 281.7 214.2 282.8 214.3 283.9 214.7 285 214.8 286.1 214.6 287.2 214.2 288.3 214.2 289.4 214.5 290.5 214.7 291.6 214.7 292.7 214.4 293.8 214.2 294.9 214.2 296 214.5 297.1 214.8 298.2 214.7 299.4 214.4 300.5 214.2 301.6 214.1 302.7 214.3 303.8 214.6 304.9 214.8 306 214.7 307.1 214.4 308.2 214.1 309.3 214 310.4 213.9 311.5 214 312.6 214.1 313.7 214.2 314.8 214.5 315.9 214.7" stroke="#2ca02c"/>
<path d="M210.5 212.9 211.6 212.9 212.7 212.8 213.8 212.7 215 212.4 216.1 212.4 217.2 212.3 218.3 212.1 219.4 212 220.5 212 221.6 212.1 222.7 212.2 223.8 212.5 224.9 212.7 226 212.9 227.2 212.9 228.3 212.8 229.4 212.5 230.5 212.3 231.6 212.2 232.7 212.3 233.8 212.6 234.9 212.8 236 212.9 237.1 212.8 238.2 212.5 239.4 212.3 240.5 212.3 241.6 212.6 242.7 212.9 243.8 212.9 244.9 212.7 246 212.4 247.1 212.3 248.2 212.5 249.3 212.8 250.4 212.9 251.6 212.8 252.7 212.5 253.8 212.3 254.9 212.5 256 212.8 257.1 212.9 258.2 212.7 259.3 212.4 260.4 212.4 261.5 212.6 262.6 212.9 263.8 212.9 264.9 212.6 266 212.4 267.1 212.5 268.2 212.8 269.3 212.9 270.4 212.7 271.5 212.4 272.6 212.4 273.7 212.7 274.9 212.9 276 212.8 277.1 212.5 278.2 212.4 279.3 212.7 280.4 212.9 281.5 212.9 282.6 212.5 283.7 212.4 284.8 212.6 285.9 212.9 287.1 212.9 288.2 212.6 289.3 212.4 290.4 212.5 291.5 212.8 292.6 212.9 293.7 212.8 294.8 212.5 295.9 212.3 297 212.5 298.1 212.9 299.3 212.9 300.4 212.7 301.5 212.4 302.6 212.3 303.7 212.4 304.8 212.7 305.9 212.9 307 212.9 308.1 212.7 309.2 212.4 310.3 212.2 311.5 212.1 312.6 212.2 313.7 212.3 314.8 212.4 315.9 212.7 317 212.8" stroke="#d62728"/>
<path d="M207.7 211.1 208.8 211 209.9 211 211 210.8 212.1 210.6 213.2 210.6 214.3 210.5 215.4 210.3 216.5 210.3 217.6 210.2 218.7 210.3 219.8 210.4 221 210.7 222.1 210.9 223.2 211.1 224.3 211.1 225.4 211 226.5 210.7 227.6 210.5 228.7 210.4 229.8 210.5 230.9 210.8 232 211 233.1 211.1 234.2 211 235.3 210.7 236.4 210.5 237.5 210.5 238.6 210.8 239.7 211 240.8 211.1 241.9 210.9 243 210.6 244.1 210.5 245.2 210.7 246.4 211 247.5 211.1 248.6 210.9 249.7 210.6 250.8 210.5 251.9 210.8 253 211.1 254.1 211.1 255.2 210.8 256.3 210.6 257.4 210.6 258.5 210.9 259.6 211.1 260.7 211 261.8 210.7 262.9 210.6 264 210.8 265.1 211.1 266.2 211.1 267.3 210.8 268.4 210.6 269.5 210.7 270.6 211.1 271.7 211.1 272.9 210.8 274 210.6 275.1 210.7 276.2 211 277.3 211.1 278.4 210.8 279.5 210.6 280.6 210.7 281.7 211 282.8 211.1 283.9 210.9 285 210.6 286.1 210.7 287.2 211 288.3 211.1 289.4 210.9 290.5 210.6 291.6 210.6 292.7 210.9 293.8 211.1 294.9 211 296 210.7 297.1 210.5 298.3 210.7 299.4 211 300.5 211.1 301.6 210.9 302.7 210.6 303.8 210.5 304.9 210.6 306 210.9 307.1 211.1 308.2 211.1 309.3 210.8 310.4 210.5 311.5 210.4 312.6 210.3 313.7 210.4 314.8 210.5 315.9 210.6 317 210.9 318.1 211" stroke="#9467bd"/>
<path d="M205 209.2 206.1 209.2 207.2 209.2 208.3 209 209.4 208.8 210.5 208.7 211.6 208.7 212.7 208.5 213.9 208.5 215 208.4 216.1 208.5 217.2 208.6 218.3 208.9 219.4 209.1 220.5 209.3 221.6 209.3 222.7 209.1 223.8 208.9 224.9 208.7 226 208.6 227.2 208.7 228.3 209 229.4 209.2 230.5 209.3 231.6 209.1 232.7 208.8 233.8 208.7 234.9 208.8 236 209 237.1 209.3 238.2 209.2 239.3 209 240.5 208.7 241.6 208.7 242.7 209 243.8 209.3 244.9 209.3 246 209 247.1 208.7 248.2 208.8 249.3 209.1 250.4 209.3 251.5 209.2 252.6 208.9 253.8 208.7 254.9 209 256 209.3 257.1 209.2 258.2 209 259.3 208.8 260.4 208.9 261.5 209.2 262.6 209.3 263.7 209 264.8 208.8 266 208.9 267.1 209.2 268.2 209.3 269.3 209 270.4 208.8 271.5 208.9 272.6 209.2 273.7 209.3 274.8 209 275.9 208.8 277 208.9 278.1 209.2 279.3 209.3 280.4 209 281.5 208.8 282.6 208.9 283.7 209.2 284.8 209.3 285.9 209 287 208.8 288.1 208.9 289.2 209.2 290.3 209.3 291.4 209 292.6 208.8 293.7 208.9 294.8 209.2 295.9 209.3 297 209 298.1 208.8 299.2 208.8 300.3 209.1 301.4 209.3 302.5 209.2 303.6 208.9 304.7 208.7 305.9 208.8 307 209.1 308.1 209.3 309.2 209.3 310.3 209 311.4 208.8 312.5 208.6 313.6 208.5 314.7 208.6 315.8 208.7 316.9 208.8 318 209.1 319.2 209.2" stroke="#8c564b"/>
<path d="M202.3 207.4 203.4 207.4 204.5 207.3 205.6 207.2 206.7 207.1 207.8 206.9 208.9 206.9 210 206.7 211.1 206.7 212.2 206.6 213.3 206.7 214.4 206.8 215.5 207 216.6 207.3 217.7 207.4 218.8 207.5 219.9 207.3 221 207.1 222.2 206.9 223.3 206.8 224.4 206.9 225.5 207.2 226.6 207.4 227.7 207.5 228.8 207.3 229.9 207 231 206.8 232.1 206.9 233.2 207.2 234.3 207.4 235.4 207.4 236.5 207.2 237.6 206.9 238.7 206.9 239.8 207.2 240.9 207.4 242 207.4 243.1 207.1 244.2 206.9 245.3 207 246.4 207.3 247.5 207.5 248.6 207.3 249.7 207 250.8 206.9 251.9 207.2 253 207.4 254.1 207.4 255.2 207.1 256.3 206.9 257.4 207.1 258.5 207.4 259.6 207.4 260.7 207.1 261.8 206.9 262.9 207.1 264 207.4 265.1 207.4 266.2 207.1 267.3 207 268.4 207.2 269.5 207.4 270.6 207.4 271.7 207.1 272.8 207 273.9 207.2 275 207.5 276.1 207.3 277.2 207 278.3 207 279.4 207.3 280.5 207.5 281.6 207.3 282.7 207 283.8 207 284.9 207.3 286 207.5 287.1 207.2 288.2 207 289.3 207.1 290.4 207.4 291.5 207.5 292.6 207.2 293.7 207 294.8 207.1 295.9 207.4 297.1 207.5 298.2 207.2 299.3 207 300.4 207 301.5 207.3 302.6 207.5 303.7 207.4 304.8 207.1 305.9 206.9 307 207 308.1 207.2 309.2 207.5 310.3 207.4 311.4 207.2 312.5 206.9 313.6 206.7 314.7 206.7 315.8 206.8 316.9 206.9 318 207 319.1 207.3 320.2 207.4" stroke="#e377c2"/>
<path d="M199.7 205.6 200.8 205.6 201.9 205.5 203 205.4 204.1 205.3 205.2 205.1 206.3 205.1 207.4 204.9 208.5 204.9 209.6 204.8 210.7 204.9 211.8 205 213 205.2 214.1 205.5 215.2 205.6 216.3 205.6 217.4 205.5 218.5 205.3 219.6 205 220.7 205 221.8 205.1 222.9 205.4 224 205.6 225.1 205.6 226.2 205.4 227.3 205.2 228.4 205 229.5 205.2 230.6 205.4 231.7 205.6 232.8 205.6 233.9 205.3 235 205.1 236.1 205.2 237.2 205.4 238.3 205.6 239.4 205.5 240.5 205.2 241.6 205.1 242.8 205.3 243.9 205.6 245 205.6 246.1 205.4 247.2 205.1 248.3 205.2 249.4 205.5 250.5 205.7 251.6 205.5 252.7 205.2 253.8 205.2 254.9 205.5 256 205.7 257.1 205.5 258.2 205.2 259.3 205.2 260.4 205.5 261.5 205.6 262.6 205.4 263.7 205.2 264.8 205.3 265.9 205.6 267 205.6 268.1 205.3 269.2 205.2 270.3 205.3 271.4 205.6 272.5 205.6 273.7 205.3 274.8 205.2 275.9 205.4 277 205.7 278.1 205.5 279.2 205.2 280.3 205.2 281.4 205.6 282.5 205.6 283.6 205.4 284.7 205.2 285.8 205.3 286.9 205.6 288 205.6 289.1 205.3 290.2 205.2 291.3 205.4 292.4 205.6 293.5 205.5 294.6 205.2 295.7 205.2 296.8 205.4 297.9 205.6 299 205.5 300.1 205.2 301.2 205.1 302.3 205.4 303.4 205.6 304.6 205.6 305.7 205.3 306.8 205.1 307.9 205.1 309 205.4 310.1 205.6 311.2 205.6 312.3 205.4 313.4 205.1 314.5 204.9 315.6 204.9 316.7 205 317.8 205.1 318.9 205.2 320 205.5 321.1 205.6" stroke="#7f7f7f"/>
<path d="M197.1 203.8 198.3 203.8 199.4 203.7 200.5 203.6 201.6 203.5 202.7 203.3 203.8 203.3 204.9 203.1 206 203.1 207.1 203 208.2 203.1 209.3 203.2 210.4 203.4 211.5 203.6 212.6 203.8 213.7 203.8 214.8 203.7 215.9 203.4 217 203.2 218.1 203.2 219.3 203.3 220.4 203.6 221.5 203.8 222.6 203.8 223.7 203.6 224.8 203.3 225.9 203.2 227 203.4 228.1 203.7 229.2 203.8 230.3 203.7 231.4 203.4 232.5 203.3 233.6 203.4 234.7 203.7 235.8 203.8 236.9 203.7 238 203.4 239.1 203.3 240.2 203.5 241.4 203.8 242.5 203.8 243.6 203.5 244.7 203.3 245.8 203.5 246.9 203.8 248 203.8 249.1 203.5 250.2 203.3 251.3 203.5 252.4 203.8 253.5 203.8 254.6 203.5 255.7 203.3 256.8 203.5 257.9 203.8 259 203.7 260.1 203.4 261.2 203.4 262.4 203.6 263.5 203.8 264.6 203.7 265.7 203.4 266.8 203.4 267.9 203.7 269 203.8 270.1 203.5 271.2 203.3 272.3 203.6 273.4 203.8 274.5 203.7 275.6 203.4 276.7 203.4 277.8 203.7 278.9 203.8 280 203.5 281.1 203.3 282.2 203.5 283.4 203.8 284.5 203.7 285.6 203.4 286.7 203.4 287.8 203.7 288.9 203.8 290 203.6 291.1 203.3 292.2 203.5 293.3 203.8 294.4 203.8 295.5 203.5 296.6 203.3 297.7 203.5 298.8 203.8 299.9 203.8 301 203.5 302.1 203.3 303.2 203.5 304.4 203.8 305.5 203.8 306.6 203.5 307.7 203.3 308.8 203.3 309.9 203.6 311 203.8 312.1 203.8 313.2 203.6 314.3 203.3 315.4 203.1 316.5 203.1 317.6 203.2 318.7 203.3 319.8 203.4 320.9 203.7 322 203.8" stroke="#bcbd22"/>
<path d="M194.7 202 195.8 201.9 196.9 201.9 198 201.8 199.1 201.7 200.2 201.5 201.3 201.5 202.4 201.3 203.5 201.3 204.6 201.2 205.7 201.2 206.8 201.4 207.9 201.6 209.1 201.8 210.2 202 211.3 202 212.4 201.8 213.5 201.6 214.6 201.4 215.7 201.4 216.8 201.5 217.9 201.8 219 202 220.1 202 221.2 201.7 222.3 201.5 223.4 201.4 224.5 201.6 225.6 201.9 226.7 202 227.8 201.8 229 201.6 230.1 201.4 231.2 201.6 232.3 201.9 233.4 202 234.5 201.8 235.6 201.5 236.7 201.5 237.8 201.8 238.9 202 240 201.9 241.1 201.6 242.2 201.5 243.3 201.8 244.4 202 245.5 201.9 246.6 201.6 247.7 201.5 248.8 201.8 250 202 251.1 201.9 252.2 201.6 253.3 201.6 254.4 201.9 255.5 202 256.6 201.8 257.7 201.5 258.8 201.6 259.9 201.9 261 202 262.1 201.7 263.2 201.5 264.3 201.8 265.4 202 266.5 201.8 267.6 201.6 268.7 201.6 269.9 201.9 271 202 272.1 201.7 273.2 201.6 274.3 201.8 275.4 202 276.5 201.8 277.6 201.5 278.7 201.7 279.8 202 280.9 201.9 282 201.6 283.1 201.6 284.2 201.9 285.3 202 286.4 201.7 287.5 201.5 288.6 201.7 289.7 202 290.9 201.9 292 201.6 293.1 201.6 294.2 201.9 295.3 202 296.4 201.8 297.5 201.5 298.6 201.6 299.7 201.9 300.8 202 301.9 201.7 303 201.5 304.1 201.6 305.2 201.9 306.3 202 307.4 201.8 308.5 201.5 309.6 201.5 310.8 201.7 311.9 202 313 202 314.1 201.8 315.2 201.5 316.3 201.3 317.4 201.3 318.5 201.4 319.6 201.5 320.7 201.6 321.8 201.9 322.9 202" stroke="#17becf"/>
<path d="M192.2 200.2 193.3 200.1 194.4 200.1 195.5 200 196.6 199.9 197.7 199.7 198.9 199.7 200 199.5 201.1 199.5 202.2 199.4 203.3 199.4 204.4 199.6 205.5 199.8 206.6 200 207.7 200.2 208.8 200.2 209.9 200 211 199.8 212.1 199.6 213.2 199.5 214.3 199.7 215.4 200 216.5 200.2 217.6 200.1 218.8 199.9 219.9 199.7 221 199.6 222.1 199.8 223.2 200.1 224.3 200.2 225.4 200 226.5 199.7 227.6 199.6 228.7 199.9 229.8 200.1 230.9 200.2 232 199.9 233.1 199.7 234.2 199.7 235.3 200 236.4 200.2 237.5 200 238.7 199.7 239.8 199.7 240.9 200 242 200.2 243.1 200 244.2 199.7 245.3 199.8 246.4 200 247.5 200.2 248.6 200 249.7 199.7 250.8 199.8 251.9 200.1 253 200.1 254.1 199.9 255.2 199.7 256.3 200 257.4 200.2 258.5 200 259.7 199.7 260.8 199.8 261.9 200.1 263 200.1 264.1 199.9 265.2 199.7 266.3 200 267.4 200.2 268.5 200 269.6 199.7 270.7 199.9 271.8 200.2 272.9 200.1 274 199.8 275.1 199.8 276.2 200.1 277.3 200.2 278.4 199.9 279.6 199.7 280.7 200 281.8 200.2 282.9 200 284 199.7 285.1 199.9 286.2 200.2 287.3 200.1 288.4 199.8 289.5 199.8 290.6 200.1 291.7 200.2 292.8 199.9 293.9 199.7 295 200 296.1 200.2 297.2 200 298.3 199.7 299.5 199.8 300.6 200.1 301.7 200.2 302.8 199.9 303.9 199.7 305 199.8 306.1 200.1 307.2 200.2 308.3 200 309.4 199.7 310.5 199.7 311.6 199.9 312.7 200.1 313.8 200.2 314.9 200 316 199.7 317.1 199.5 318.2 199.5 319.4 199.6 320.5 199.7 321.6 199.8 322.7 200.1 323.8 200.1" stroke="#1f77b4"/>
<path d="M189.8 198.3 190.9 198.3 192 198.3 193.1 198.2 194.2 198.1 195.3 197.9 196.4 197.8 197.5 197.7 198.6 197.7 199.7 197.6 200.9 197.6 202 197.8 203.1 198 204.2 198.2 205.3 198.3 206.4 198.4 207.5 198.2 208.6 198 209.7 197.8 210.8 197.7 211.9 197.9 213 198.2 214.1 198.4 215.2 198.3 216.3 198.1 217.4 197.8 218.5 197.8 219.6 198 220.7 198.3 221.8 198.4 222.9 198.2 224 197.9 225.2 197.8 226.3 198.1 227.4 198.3 228.5 198.3 229.6 198.1 230.7 197.9 231.8 198 232.9 198.3 234 198.4 235.1 198.1 236.2 197.9 237.3 198 238.4 198.2 239.5 198.4 240.6 198.1 241.7 197.9 242.8 198 243.9 198.3 245 198.3 246.1 198.1 247.2 197.9 248.4 198.1 249.5 198.4 250.6 198.3 251.7 198 252.8 198 253.9 198.3 255 198.4 256.1 198.1 257.2 197.9 258.3 198.1 259.4 198.4 260.5 198.2 261.6 197.9 262.7 198 263.8 198.3 264.9 198.3 266 198 267.1 198 268.2 198.2 269.3 198.4 270.4 198.1 271.6 197.9 272.7 198.2 273.8 198.4 274.9 198.2 276 197.9 277.1 198.1 278.2 198.4 279.3 198.2 280.4 197.9 281.5 198 282.6 198.3 283.7 198.3 284.8 198 285.9 198 287 198.3 288.1 198.3 289.2 198.1 290.3 197.9 291.4 198.2 292.5 198.4 293.6 198.2 294.8 197.9 295.9 198.1 297 198.3 298.1 198.3 299.2 198 300.3 197.9 301.4 198.2 302.5 198.4 303.6 198.2 304.7 197.9 305.8 197.9 306.9 198.2 308 198.4 309.1 198.2 310.2 197.9 311.3 197.8 312.4 198.1 313.5 198.3 314.6 198.4 315.7 198.2 316.8 197.9 317.9 197.7 319.1 197.7 320.2 197.8 321.3 197.9 322.4 198 323.5 198.2 324.6 198.3" stroke="#ff7f0e"/>
<path d="M187.4 196.5 188.5 196.5 189.6 196.5 190.7 196.4 191.9 196.3 193 196.1 194.1 196 195.2 196 196.3 195.9 197.4 195.8 198.5 195.8 199.6 195.9 200.7 196.1 201.8 196.4 202.9 196.5 204 196.5 205.1 196.4 206.2 196.2 207.3 196 208.4 195.9 209.5 196.1 210.6 196.4 211.7 196.5 212.8 196.5 213.9 196.3 215 196 216.1 196 217.2 196.2 218.3 196.5 219.4 196.5 220.5 196.3 221.6 196.1 222.7 196 223.8 196.3 224.9 196.5 226 196.5 227.2 196.2 228.3 196 229.4 196.2 230.5 196.5 231.6 196.5 232.7 196.3 233.8 196.1 234.9 196.2 236 196.5 237.1 196.5 238.2 196.3 239.3 196.1 240.4 196.2 241.5 196.5 242.6 196.5 243.7 196.2 244.8 196.1 245.9 196.4 247 196.6 248.1 196.4 249.2 196.1 250.3 196.2 251.4 196.5 252.5 196.5 253.6 196.2 254.7 196.1 255.8 196.4 256.9 196.5 258 196.3 259.1 196.1 260.2 196.3 261.3 196.5 262.5 196.4 263.6 196.1 264.7 196.2 265.8 196.5 266.9 196.4 268 196.2 269.1 196.2 270.2 196.5 271.3 196.5 272.4 196.2 273.5 196.2 274.6 196.5 275.7 196.5 276.8 196.2 277.9 196.1 279 196.4 280.1 196.5 281.2 196.3 282.3 196.1 283.4 196.4 284.5 196.5 285.6 196.3 286.7 196.1 287.8 196.3 288.9 196.6 290 196.4 291.1 196.1 292.2 196.3 293.3 196.5 294.4 196.4 295.5 196.1 296.6 196.2 297.8 196.5 298.9 196.5 300 196.2 301.1 196.1 302.2 196.3 303.3 196.5 304.4 196.4 305.5 196.1 306.6 196.1 307.7 196.4 308.8 196.6 309.9 196.4 311 196.1 312.1 196 313.2 196.2 314.3 196.5 315.4 196.5 316.5 196.3 317.6 196.1 318.7 195.9 319.8 195.9 320.9 196 322 196.1 323.1 196.3 324.2 196.4 325.3 196.5" stroke="#2ca02c"/>
<path d="M185.1 194.7 186.2 194.7 187.3 194.6 188.4 194.6 189.5 194.5 190.6 194.3 191.7 194.2 192.8 194.2 193.9 194.1 195 194 196.1 194 197.2 194.1 198.3 194.3 199.4 194.5 200.5 194.7 201.6 194.7 202.7 194.6 203.8 194.4 204.9 194.2 206 194.1 207.1 194.3 208.3 194.5 209.4 194.7 210.5 194.7 211.6 194.5 212.7 194.2 213.8 194.2 214.9 194.4 216 194.7 217.1 194.7 218.2 194.5 219.3 194.3 220.4 194.2 221.5 194.5 222.6 194.7 223.7 194.7 224.8 194.4 225.9 194.2 227 194.4 228.1 194.7 229.2 194.7 230.3 194.4 231.4 194.2 232.5 194.4 233.6 194.7 234.7 194.7 235.8 194.4 236.9 194.3 238 194.5 239.1 194.7 240.2 194.6 241.3 194.3 242.4 194.3 243.5 194.6 244.6 194.7 245.7 194.5 246.8 194.3 247.9 194.5 249 194.7 250.1 194.6 251.2 194.3 252.3 194.4 253.4 194.7 254.5 194.7 255.6 194.4 256.7 194.3 257.8 194.6 258.9 194.7 260 194.5 261.1 194.3 262.2 194.6 263.3 194.7 264.4 194.5 265.5 194.3 266.6 194.5 267.7 194.7 268.8 194.5 269.9 194.3 271 194.5 272.1 194.7 273.2 194.6 274.3 194.3 275.4 194.5 276.5 194.7 277.6 194.6 278.7 194.3 279.8 194.5 280.9 194.7 282 194.6 283.1 194.3 284.2 194.4 285.3 194.7 286.4 194.6 287.5 194.3 288.6 194.4 289.7 194.7 290.8 194.6 291.9 194.3 293 194.4 294.1 194.7 295.2 194.7 296.3 194.4 297.4 194.3 298.5 194.6 299.7 194.7 300.8 194.5 301.9 194.3 303 194.5 304.1 194.7 305.2 194.6 306.3 194.3 307.4 194.3 308.5 194.5 309.6 194.7 310.7 194.6 311.8 194.3 312.9 194.2 314 194.4 315.1 194.7 316.2 194.7 317.3 194.5 318.4 194.3 319.5 194.1 320.6 194.1 321.7 194.2 322.8 194.3 323.9 194.5 325 194.6 326.1 194.7" stroke="#d62728"/>
<path d="M182.9 192.9 184 192.9 185.1 192.8 186.2 192.8 187.3 192.7 188.4 192.5 189.5 192.4 190.6 192.3 191.7 192.3 192.8 192.2 193.9 192.2 195 192.3 196.1 192.5 197.3 192.7 198.4 192.9 199.5 192.9 200.6 192.8 201.7 192.5 202.8 192.3 203.9 192.3 205 192.5 206.1 192.8 207.2 192.9 208.3 192.8 209.4 192.6 210.5 192.4 211.6 192.4 212.8 192.7 213.9 192.9 215 192.9 216.1 192.6 217.2 192.4 218.3 192.5 219.4 192.7 220.5 192.9 221.6 192.8 222.7 192.5 223.8 192.4 224.9 192.7 226 192.9 227.1 192.8 228.3 192.5 229.4 192.5 230.5 192.7 231.6 192.9 232.7 192.8 233.8 192.5 234.9 192.5 236 192.8 237.1 192.9 238.2 192.7 239.3 192.5 240.4 192.6 241.5 192.9 242.6 192.8 243.8 192.5 244.9 192.5 246 192.8 247.1 192.9 248.2 192.6 249.3 192.5 250.4 192.8 251.5 192.9 252.6 192.7 253.7 192.5 254.8 192.7 255.9 192.9 257 192.7 258.1 192.5 259.2 192.7 260.4 192.9 261.5 192.7 262.6 192.5 263.7 192.7 264.8 192.9 265.9 192.7 267 192.5 268.1 192.7 269.2 192.9 270.3 192.7 271.4 192.5 272.5 192.7 273.6 192.9 274.7 192.7 275.9 192.5 277 192.7 278.1 192.9 279.2 192.7 280.3 192.5 281.4 192.7 282.5 192.9 283.6 192.7 284.7 192.5 285.8 192.7 286.9 192.9 288 192.7 289.1 192.5 290.2 192.7 291.4 192.9 292.5 192.7 293.6 192.5 294.7 192.7 295.8 192.9 296.9 192.7 298 192.5 299.1 192.7 300.2 192.9 301.3 192.8 302.4 192.5 303.5 192.6 304.6 192.9 305.7 192.9 306.9 192.6 308 192.4 309.1 192.7 310.2 192.9 311.3 192.8 312.4 192.5 313.5 192.4 314.6 192.6 315.7 192.8 316.8 192.9 317.9 192.7 319 192.5 320.1 192.3 321.2 192.3 322.4 192.4 323.5 192.5 324.6 192.7 325.7 192.8 326.8 192.9" stroke="#9467bd"/>
<path d="M180.6 191.1 181.7 191.1 182.8 191 183.9 191 185 190.8 186.1 190.7 187.2 190.6 188.3 190.5 189.4 190.5 190.5 190.4 191.6 190.4 192.7 190.5 193.9 190.7 195 190.9 196.1 191.1 197.2 191.1 198.3 191 199.4 190.7 200.5 190.5 201.6 190.5 202.7 190.7 203.8 190.9 204.9 191.1 206 191 207.1 190.8 208.2 190.6 209.3 190.6 210.4 190.8 211.5 191.1 212.6 191.1 213.7 190.8 214.8 190.6 215.9 190.7 217 190.9 218.1 191.1 219.3 191 220.4 190.7 221.5 190.6 222.6 190.9 223.7 191.1 224.8 191 225.9 190.7 227 190.6 228.1 190.9 229.2 191.1 230.3 190.9 231.4 190.7 232.5 190.7 233.6 191 234.7 191.1 235.8 190.8 236.9 190.7 238 190.9 239.1 191.1 240.2 191 241.3 190.7 242.4 190.8 243.5 191.1 244.7 191 245.8 190.7 246.9 190.7 248 191 249.1 191.1 250.2 190.8 251.3 190.7 252.4 191 253.5 191.1 254.6 190.8 255.7 190.7 256.8 190.9 257.9 191.1 259 190.8 260.1 190.7 261.2 190.9 262.3 191.1 263.4 190.8 264.5 190.7 265.6 191 266.7 191.1 267.8 190.8 268.9 190.7 270.1 191 271.2 191.1 272.3 190.8 273.4 190.7 274.5 191 275.6 191 276.7 190.8 277.8 190.8 278.9 191.1 280 191 281.1 190.7 282.2 190.8 283.3 191.1 284.4 191 285.5 190.7 286.6 190.8 287.7 191.1 288.8 191 289.9 190.7 291 190.8 292.1 191.1 293.2 190.9 294.4 190.7 295.5 190.8 296.6 191.1 297.7 190.9 298.8 190.7 299.9 190.8 301 191.1 302.1 191 303.2 190.7 304.3 190.7 305.4 191 306.5 191.1 307.6 190.8 308.7 190.6 309.8 190.8 310.9 191.1 312 191 313.1 190.7 314.2 190.6 315.3 190.8 316.4 191 317.5 191.1 318.6 190.9 319.8 190.7 320.9 190.5 322 190.5 323.1 190.6 324.2 190.7 325.3 190.9 326.4 191 327.5 191.1" stroke="#8c564b"/>
<path d="M178.4 189.3 179.5 189.2 180.6 189.2 181.7 189.1 182.8 189 183.9 188.9 185 188.8 186.1 188.7 187.2 188.7 188.3 188.6 189.4 188.6 190.5 188.7 191.6 188.9 192.7 189.1 193.8 189.2 194.9 189.3 196 189.2 197.1 188.9 198.2 188.7 199.3 188.7 200.4 188.9 201.5 189.1 202.6 189.3 203.7 189.2 204.8 189 205.9 188.8 207 188.8 208.1 189 209.2 189.2 210.3 189.2 211.4 189 212.5 188.8 213.6 188.8 214.7 189.1 215.8 189.3 216.9 189.1 218 188.9 219.1 188.8 220.2 189.1 221.3 189.3 222.4 189.2 223.5 188.9 224.6 188.8 225.7 189.1 226.8 189.3 227.9 189.1 229 188.9 230.1 188.9 231.2 189.2 232.3 189.3 233.4 189 234.5 188.8 235.6 189.1 236.7 189.3 237.8 189.1 238.9 188.9 240 189 241.1 189.3 242.2 189.2 243.3 188.9 244.4 188.9 245.6 189.2 246.7 189.2 247.8 188.9 248.9 188.9 250 189.2 251.1 189.3 252.2 189 253.3 188.9 254.4 189.2 255.5 189.3 256.6 189 257.7 188.9 258.8 189.2 259.9 189.2 261 189 262.1 188.9 263.2 189.2 264.3 189.2 265.4 188.9 266.5 189 267.6 189.2 268.7 189.2 269.8 188.9 270.9 189 272 189.3 273.1 189.1 274.2 188.9 275.3 189.1 276.4 189.3 277.5 189.1 278.6 188.9 279.7 189.1 280.8 189.3 281.9 189 283 188.9 284.1 189.2 285.2 189.3 286.3 189 287.4 188.9 288.5 189.2 289.6 189.2 290.7 188.9 291.8 189 292.9 189.2 294 189.2 295.1 188.9 296.2 189 297.3 189.2 298.4 189.2 299.5 188.9 300.6 188.9 301.7 189.2 302.8 189.2 303.9 188.9 305 188.9 306.1 189.2 307.2 189.3 308.3 189 309.4 188.8 310.5 189 311.6 189.3 312.7 189.2 313.8 188.9 314.9 188.8 316 188.9 317.1 189.2 318.2 189.3 319.3 189.1 320.4 188.8 321.5 188.7 322.6 188.7 323.7 188.8 324.8 188.9 325.9 189.1 327 189.2 328.1 189.2" stroke="#e377c2"/>
<path d="M176.2 187.4 177.3 187.4 178.4 187.4 179.5 187.3 180.6 187.2 181.7 187.1 182.9 187 184 186.9 185.1 186.8 186.2 186.8 187.3 186.8 188.4 186.9 189.5 187.1 190.6 187.3 191.7 187.4 192.8 187.5 193.9 187.3 195 187.1 196.1 186.9 197.2 186.9 198.3 187.1 199.4 187.3 200.5 187.5 201.7 187.4 202.8 187.1 203.9 186.9 205 187 206.1 187.2 207.2 187.5 208.3 187.4 209.4 187.1 210.5 187 211.6 187.1 212.7 187.4 213.8 187.5 214.9 187.3 216 187 217.1 187.1 218.2 187.3 219.3 187.5 220.5 187.3 221.6 187 222.7 187.1 223.8 187.4 224.9 187.4 226 187.2 227.1 187 228.2 187.2 229.3 187.5 230.4 187.3 231.5 187.1 232.6 187.1 233.7 187.4 234.8 187.4 235.9 187.2 237 187.1 238.2 187.3 239.3 187.5 240.4 187.2 241.5 187 242.6 187.3 243.7 187.5 244.8 187.3 245.9 187.1 247 187.3 248.1 187.5 249.2 187.3 250.3 187.1 251.4 187.3 252.5 187.5 253.6 187.2 254.7 187.1 255.8 187.3 257 187.5 258.1 187.2 259.2 187.1 260.3 187.3 261.4 187.4 262.5 187.2 263.6 187.1 264.7 187.4 265.8 187.4 266.9 187.1 268 187.2 269.1 187.4 270.2 187.3 271.3 187.1 272.4 187.2 273.5 187.5 274.6 187.3 275.8 187.1 276.9 187.3 278 187.4 279.1 187.2 280.2 187.1 281.3 187.4 282.4 187.4 283.5 187.1 284.6 187.2 285.7 187.5 286.8 187.3 287.9 187.1 289 187.3 290.1 187.5 291.2 187.2 292.3 187.1 293.4 187.3 294.6 187.5 295.7 187.2 296.8 187.1 297.9 187.4 299 187.4 300.1 187.2 301.2 187.1 302.3 187.4 303.4 187.4 304.5 187.2 305.6 187 306.7 187.3 307.8 187.5 308.9 187.3 310 187 311.1 187.1 312.2 187.4 313.4 187.4 314.5 187.1 315.6 187 316.7 187.1 317.8 187.4 318.9 187.5 320 187.3 321.1 187 322.2 186.9 323.3 186.9 324.4 187 325.5 187.1 326.6 187.2 327.7 187.4 328.8 187.4" stroke="#7f7f7f"/>
<path d="M174.1 185.6 175.2 185.6 176.3 185.6 177.4 185.5 178.5 185.4 179.6 185.3 180.7 185.2 181.8 185.1 182.9 185 184 185 185.1 185 186.2 185.1 187.3 185.2 188.4 185.5 189.5 185.6 190.6 185.6 191.7 185.5 192.8 185.3 193.9 185.1 195 185.1 196.1 185.2 197.2 185.5 198.3 185.6 199.4 185.6 200.5 185.3 201.6 185.1 202.7 185.2 203.8 185.4 205 185.6 206.1 185.6 207.2 185.3 208.3 185.2 209.4 185.3 210.5 185.5 211.6 185.6 212.7 185.4 213.8 185.2 214.9 185.2 216 185.5 217.1 185.6 218.2 185.5 219.3 185.2 220.4 185.3 221.5 185.6 222.6 185.6 223.7 185.4 224.8 185.2 225.9 185.4 227 185.6 228.1 185.5 229.2 185.3 230.3 185.3 231.4 185.6 232.5 185.6 233.6 185.3 234.7 185.2 235.8 185.5 236.9 185.6 238 185.4 239.1 185.2 240.2 185.5 241.3 185.6 242.4 185.4 243.5 185.2 244.6 185.5 245.7 185.6 246.8 185.4 247.9 185.2 249 185.5 250.1 185.6 251.2 185.4 252.3 185.3 253.4 185.5 254.5 185.6 255.6 185.4 256.7 185.3 257.8 185.6 258.9 185.6 260 185.3 261.1 185.3 262.2 185.6 263.3 185.5 264.4 185.3 265.5 185.4 266.6 185.6 267.7 185.4 268.8 185.3 269.9 185.5 271 185.6 272.2 185.4 273.3 185.3 274.4 185.6 275.5 185.6 276.6 185.3 277.7 185.4 278.8 185.6 279.9 185.5 281 185.3 282.1 185.5 283.2 185.6 284.3 185.4 285.4 185.3 286.5 185.6 287.6 185.6 288.7 185.3 289.8 185.4 290.9 185.6 292 185.5 293.1 185.3 294.2 185.4 295.3 185.7 296.4 185.4 297.5 185.3 298.6 185.5 299.7 185.6 300.8 185.4 301.9 185.2 303 185.5 304.1 185.6 305.2 185.4 306.3 185.2 307.4 185.5 308.5 185.7 309.6 185.5 310.7 185.2 311.8 185.3 312.9 185.6 314 185.6 315.1 185.3 316.2 185.2 317.3 185.3 318.4 185.6 319.5 185.6 320.6 185.5 321.7 185.2 322.8 185.1 323.9 185.1 325 185.2 326.1 185.3 327.2 185.4 328.3 185.6 329.4 185.6" stroke="#bcbd22"/>
<path d="M172 183.8 173.1 183.8 174.2 183.8 175.3 183.7 176.4 183.6 177.5 183.5 178.6 183.4 179.7 183.3 180.8 183.2 181.9 183.2 183 183.2 184.2 183.3 185.3 183.4 186.4 183.6 187.5 183.8 188.6 183.8 189.7 183.7 190.8 183.5 191.9 183.3 193 183.3 194.1 183.5 195.2 183.7 196.3 183.8 197.4 183.7 198.5 183.5 199.6 183.3 200.7 183.4 201.8 183.6 202.9 183.8 204.1 183.7 205.2 183.5 206.3 183.3 207.4 183.5 208.5 183.8 209.6 183.8 210.7 183.6 211.8 183.4 212.9 183.5 214 183.8 215.1 183.8 216.2 183.6 217.3 183.4 218.4 183.5 219.5 183.8 220.6 183.8 221.7 183.5 222.8 183.4 224 183.7 225.1 183.8 226.2 183.6 227.3 183.4 228.4 183.6 229.5 183.8 230.6 183.7 231.7 183.4 232.8 183.5 233.9 183.8 235 183.7 236.1 183.5 237.2 183.5 238.3 183.8 239.4 183.8 240.5 183.5 241.6 183.5 242.7 183.8 243.9 183.8 245 183.5 246.1 183.5 247.2 183.8 248.3 183.7 249.4 183.5 250.5 183.6 251.6 183.8 252.7 183.7 253.8 183.4 254.9 183.7 256 183.8 257.1 183.6 258.2 183.5 259.3 183.7 260.4 183.8 261.5 183.5 262.6 183.5 263.8 183.8 264.9 183.7 266 183.5 267.1 183.6 268.2 183.8 269.3 183.6 270.4 183.5 271.5 183.8 272.6 183.8 273.7 183.5 274.8 183.6 275.9 183.8 277 183.7 278.1 183.5 279.2 183.7 280.3 183.8 281.4 183.5 282.5 183.5 283.7 183.8 284.8 183.7 285.9 183.5 287 183.6 288.1 183.8 289.2 183.6 290.3 183.5 291.4 183.7 292.5 183.8 293.6 183.5 294.7 183.5 295.8 183.8 296.9 183.7 298 183.5 299.1 183.6 300.2 183.8 301.3 183.7 302.4 183.4 303.6 183.6 304.7 183.8 305.8 183.6 306.9 183.4 308 183.6 309.1 183.8 310.2 183.7 311.3 183.4 312.4 183.5 313.5 183.8 314.6 183.8 315.7 183.6 316.8 183.4 317.9 183.5 319 183.7 320.1 183.8 321.2 183.7 322.3 183.4 323.5 183.3 324.6 183.3 325.7 183.4 326.8 183.5 327.9 183.6 329 183.8 330.1 183.8" stroke="#17becf"/>
<path d="M169.9 182 171 182 172.1 182 173.2 181.9 174.3 181.8 175.4 181.7 176.5 181.6 177.6 181.5 178.7 181.4 179.8 181.4 180.9 181.4 182 181.5 183.1 181.6 184.2 181.8 185.3 182 186.4 182 187.5 181.9 188.6 181.7 189.7 181.5 190.8 181.5 191.9 181.6 193.1 181.9 194.2 182 195.3 181.9 196.4 181.7 197.5 181.5 198.6 181.6 199.7 181.8 200.8 182 201.9 181.9 203 181.7 204.1 181.5 205.2 181.7 206.3 181.9 207.4 182 208.5 181.8 209.6 181.6 210.7 181.7 211.8 181.9 212.9 182 214 181.8 215.1 181.6 216.2 181.7 217.3 182 218.4 182 219.5 181.7 220.6 181.6 221.7 181.9 222.8 182 223.9 181.8 225 181.6 226.1 181.8 227.2 182 228.3 181.9 229.4 181.6 230.5 181.7 231.6 182 232.7 181.9 233.8 181.7 234.9 181.7 236 182 237.1 181.9 238.2 181.7 239.3 181.7 240.4 182 241.5 181.9 242.6 181.7 243.7 181.7 244.8 182 245.9 181.9 247 181.6 248.1 181.8 249.2 182 250.3 181.8 251.4 181.6 252.5 181.9 253.6 182 254.7 181.7 255.8 181.7 256.9 182 258 181.9 259.1 181.7 260.2 181.8 261.3 182 262.4 181.8 263.5 181.6 264.6 181.9 265.7 182 266.8 181.7 267.9 181.7 269 182 270.1 181.9 271.2 181.7 272.3 181.8 273.4 182 274.5 181.8 275.6 181.7 276.7 182 277.8 181.9 278.9 181.7 280 181.8 281.1 182 282.2 181.8 283.3 181.7 284.4 181.9 285.5 182 286.6 181.7 287.7 181.7 288.8 182 289.9 181.9 291 181.6 292.1 181.9 293.3 182 294.4 181.7 295.5 181.7 296.6 182 297.7 181.9 298.8 181.7 299.9 181.7 301 182 302.1 181.9 303.2 181.6 304.3 181.8 305.4 182 306.5 181.9 307.6 181.6 308.7 181.8 309.8 182 310.9 181.9 312 181.6 313.1 181.7 314.2 181.9 315.3 182 316.4 181.7 317.5 181.5 318.6 181.7 319.7 181.9 320.8 182 321.9 181.9 323 181.6 324.1 181.4 325.2 181.5 326.3 181.6 327.4 181.6 328.5 181.8 329.6 181.9 330.7 182" stroke="#1f77b4"/>
<path d="M167.9 180.2 169 180.2 170.1 180.1 171.2 180.1 172.3 180 173.4 179.9 174.5 179.8 175.6 179.7 176.7 179.6 177.8 179.6 178.9 179.6 180 179.6 181.1 179.8 182.2 180 183.3 180.2 184.4 180.2 185.5 180.1 186.6 179.9 187.7 179.7 188.8 179.7 189.9 179.8 191.1 180.1 192.2 180.2 193.3 180.1 194.4 179.9 195.5 179.7 196.6 179.8 197.7 180 198.8 180.2 199.9 180.1 201 179.8 202.1 179.7 203.2 179.9 204.3 180.2 205.4 180.2 206.5 179.9 207.6 179.7 208.7 179.9 209.8 180.2 210.9 180.2 212 179.9 213.1 179.8 214.2 180 215.3 180.2 216.4 180.1 217.6 179.8 218.7 179.8 219.8 180.1 220.9 180.2 222 179.9 223.1 179.8 224.2 180 225.3 180.2 226.4 180 227.5 179.8 228.6 180 229.7 180.2 230.8 180 231.9 179.8 233 180 234.1 180.2 235.2 180 236.3 179.8 237.4 180 238.5 180.2 239.6 180 240.7 179.8 241.8 180.1 243 180.2 244.1 179.9 245.2 179.9 246.3 180.1 247.4 180.1 248.5 179.9 249.6 179.9 250.7 180.2 251.8 180.1 252.9 179.8 254 180 255.1 180.2 256.2 179.9 257.3 179.9 258.4 180.1 259.5 180.1 260.6 179.9 261.7 180 262.8 180.2 263.9 180 265 179.8 266.1 180.1 267.2 180.2 268.3 179.9 269.5 180 270.6 180.2 271.7 180 272.8 179.8 273.9 180.1 275 180.2 276.1 179.9 277.2 180 278.3 180.2 279.4 180 280.5 179.8 281.6 180.1 282.7 180.2 283.8 179.9 284.9 180 286 180.2 287.1 180 288.2 179.8 289.3 180.1 290.4 180.2 291.5 179.9 292.6 179.9 293.7 180.2 294.8 180 296 179.8 297.1 180.1 298.2 180.2 299.3 179.9 300.4 179.9 301.5 180.1 302.6 180.1 303.7 179.9 304.8 179.9 305.9 180.2 307 180.1 308.1 179.8 309.2 179.9 310.3 180.2 311.4 180.1 312.5 179.8 313.6 179.8 314.7 180.1 315.8 180.2 316.9 180 318 179.7 319.1 179.8 320.2 180.1 321.4 180.2 322.5 180 323.6 179.8 324.7 179.6 325.8 179.6 326.9 179.8 328 179.8 329.1 180 330.2 180.1 331.3 180.2" stroke="#ff7f0e"/>
<path d="M165.8 178.4 167 178.4 168.1 178.3 169.2 178.3 170.3 178.2 171.4 178.1 172.5 178 173.6 177.9 174.7 177.8 175.8 177.8 176.9 177.8 178 177.8 179.1 178 180.2 178.2 181.3 178.4 182.4 178.4 183.6 178.3 184.7 178 185.8 177.9 186.9 177.9 188 178 189.1 178.3 190.2 178.4 191.3 178.3 192.4 178 193.5 177.9 194.6 178 195.7 178.2 196.8 178.4 197.9 178.3 199 178 200.2 177.9 201.3 178.1 202.4 178.4 203.5 178.3 204.6 178.1 205.7 177.9 206.8 178.1 207.9 178.4 209 178.3 210.1 178 211.2 178 212.3 178.2 213.4 178.4 214.5 178.2 215.6 178 216.8 178.1 217.9 178.4 219 178.3 220.1 178 221.2 178 222.3 178.3 223.4 178.4 224.5 178.1 225.6 178 226.7 178.3 227.8 178.4 228.9 178.1 230 178 231.1 178.3 232.2 178.4 233.4 178.1 234.5 178 235.6 178.3 236.7 178.3 237.8 178.1 238.9 178.1 240 178.4 241.1 178.3 242.2 178 243.3 178.2 244.4 178.4 245.5 178.2 246.6 178 247.7 178.3 248.8 178.4 250 178.1 251.1 178.1 252.2 178.4 253.3 178.3 254.4 178 255.5 178.2 256.6 178.4 257.7 178.1 258.8 178.1 259.9 178.3 261 178.3 262.1 178 263.2 178.2 264.3 178.4 265.4 178.1 266.6 178.1 267.7 178.4 268.8 178.3 269.9 178 271 178.2 272.1 178.4 273.2 178.1 274.3 178.1 275.4 178.4 276.5 178.2 277.6 178 278.7 178.3 279.8 178.4 280.9 178.1 282 178.1 283.1 178.4 284.3 178.2 285.4 178 286.5 178.3 287.6 178.3 288.7 178.1 289.8 178.2 290.9 178.4 292 178.2 293.1 178 294.2 178.3 295.3 178.3 296.4 178 297.5 178.1 298.6 178.4 299.7 178.2 300.9 178 302 178.3 303.1 178.4 304.2 178.1 305.3 178 306.4 178.3 307.5 178.3 308.6 178.1 309.7 178 310.8 178.3 311.9 178.3 313 178.1 314.1 178 315.2 178.3 316.3 178.4 317.5 178.2 318.6 177.9 319.7 178 320.8 178.3 321.9 178.4 323 178.2 324.1 178 325.2 177.8 326.3 177.8 327.4 177.9 328.5 178 329.6 178.2 330.7 178.3 331.8 178.4" stroke="#2ca02c"/>
<path d="M163.9 176.6 165 176.5 166.1 176.5 167.2 176.5 168.3 176.4 169.4 176.3 170.5 176.2 171.6 176.1 172.7 176 173.8 176 174.9 176 176 176 177.1 176.2 178.2 176.4 179.3 176.5 180.4 176.6 181.5 176.5 182.6 176.3 183.7 176.1 184.8 176 185.9 176.2 187 176.4 188.1 176.6 189.2 176.5 190.3 176.2 191.4 176.1 192.5 176.2 193.6 176.4 194.7 176.6 195.8 176.5 196.9 176.2 198 176.1 199.1 176.3 200.2 176.5 201.3 176.5 202.4 176.3 203.5 176.1 204.6 176.3 205.7 176.5 206.8 176.5 207.9 176.2 209 176.2 210.1 176.4 211.2 176.6 212.3 176.4 213.4 176.2 214.5 176.3 215.6 176.5 216.7 176.5 217.9 176.2 219 176.2 220.1 176.5 221.2 176.6 222.3 176.3 223.4 176.2 224.5 176.5 225.6 176.6 226.7 176.3 227.8 176.2 228.9 176.5 230 176.6 231.1 176.3 232.2 176.2 233.3 176.5 234.4 176.5 235.5 176.3 236.6 176.3 237.7 176.5 238.8 176.5 239.9 176.2 241 176.3 242.1 176.6 243.2 176.4 244.3 176.2 245.4 176.4 246.5 176.6 247.6 176.3 248.7 176.3 249.8 176.5 250.9 176.5 252 176.2 253.1 176.4 254.2 176.6 255.3 176.3 256.4 176.3 257.5 176.5 258.6 176.5 259.7 176.2 260.8 176.4 261.9 176.6 263 176.3 264.1 176.3 265.2 176.6 266.3 176.4 267.4 176.2 268.5 176.4 269.6 176.6 270.7 176.3 271.8 176.3 272.9 176.6 274 176.4 275.1 176.2 276.2 176.5 277.3 176.5 278.4 176.2 279.5 176.4 280.6 176.6 281.7 176.3 282.8 176.3 283.9 176.5 285 176.5 286.1 176.2 287.2 176.4 288.3 176.6 289.4 176.3 290.5 176.3 291.6 176.6 292.7 176.4 293.8 176.2 294.9 176.5 296 176.5 297.1 176.3 298.3 176.3 299.4 176.6 300.5 176.4 301.6 176.2 302.7 176.4 303.8 176.6 304.9 176.3 306 176.2 307.1 176.5 308.2 176.5 309.3 176.3 310.4 176.2 311.5 176.5 312.6 176.5 313.7 176.3 314.8 176.2 315.9 176.4 317 176.6 318.1 176.4 319.2 176.1 320.3 176.2 321.4 176.5 322.5 176.6 323.6 176.4 324.7 176.2 325.8 176 326.9 176 328 176.1 329.1 176.2 330.2 176.4 331.3 176.5 332.4 176.6" stroke="#d62728"/>
<path d="M161.9 174.7 163 174.7 164.1 174.7 165.2 174.7 166.3 174.6 167.4 174.5 168.5 174.4 169.6 174.3 170.8 174.2 171.9 174.2 173 174.1 174.1 174.2 175.2 174.4 176.3 174.6 177.4 174.7 178.5 174.8 179.6 174.6 180.7 174.4 181.8 174.3 182.9 174.2 184 174.4 185.1 174.6 186.2 174.8 187.3 174.6 188.4 174.4 189.5 174.3 190.6 174.4 191.7 174.6 192.8 174.8 193.9 174.6 195 174.4 196.1 174.3 197.2 174.5 198.3 174.7 199.4 174.7 200.5 174.4 201.7 174.3 202.8 174.5 203.9 174.8 205 174.7 206.1 174.4 207.2 174.4 208.3 174.6 209.4 174.8 210.5 174.5 211.6 174.3 212.7 174.5 213.8 174.8 214.9 174.6 216 174.4 217.1 174.5 218.2 174.7 219.3 174.7 220.4 174.4 221.5 174.4 222.6 174.7 223.7 174.7 224.8 174.4 225.9 174.4 227 174.7 228.1 174.7 229.2 174.4 230.3 174.5 231.5 174.7 232.6 174.6 233.7 174.4 234.8 174.6 235.9 174.8 237 174.5 238.1 174.4 239.2 174.7 240.3 174.7 241.4 174.4 242.5 174.5 243.6 174.7 244.7 174.6 245.8 174.4 246.9 174.6 248 174.8 249.1 174.5 250.2 174.5 251.3 174.7 252.4 174.6 253.5 174.4 254.6 174.6 255.7 174.7 256.8 174.5 257.9 174.5 259 174.7 260.1 174.6 261.3 174.4 262.4 174.7 263.5 174.7 264.6 174.4 265.7 174.5 266.8 174.8 267.9 174.5 269 174.4 270.1 174.7 271.2 174.7 272.3 174.4 273.4 174.6 274.5 174.7 275.6 174.5 276.7 174.5 277.8 174.8 278.9 174.6 280 174.4 281.1 174.7 282.2 174.7 283.3 174.4 284.4 174.6 285.5 174.7 286.6 174.5 287.7 174.5 288.8 174.8 289.9 174.6 291.1 174.4 292.2 174.7 293.3 174.7 294.4 174.4 295.5 174.6 296.6 174.8 297.7 174.5 298.8 174.4 299.9 174.7 301 174.7 302.1 174.4 303.2 174.5 304.3 174.8 305.4 174.6 306.5 174.4 307.6 174.6 308.7 174.7 309.8 174.5 310.9 174.4 312 174.7 313.1 174.7 314.2 174.5 315.3 174.4 316.4 174.6 317.5 174.8 318.6 174.6 319.7 174.3 320.9 174.4 322 174.7 323.1 174.8 324.2 174.6 325.3 174.4 326.4 174.2 327.5 174.2 328.6 174.3 329.7 174.4 330.8 174.6 331.9 174.7 333 174.7" stroke="#9467bd"/>
<path d="M160 172.9 161.1 172.9 162.2 172.9 163.3 172.9 164.4 172.8 165.5 172.7 166.6 172.6 167.7 172.5 168.8 172.4 170 172.4 171.1 172.3 172.2 172.4 173.3 172.6 174.4 172.8 175.5 172.9 176.6 172.9 177.7 172.8 178.8 172.6 179.9 172.4 181 172.4 182.1 172.6 183.2 172.8 184.3 172.9 185.4 172.8 186.5 172.6 187.6 172.5 188.7 172.6 189.8 172.8 190.9 172.9 192.1 172.8 193.2 172.5 194.3 172.5 195.4 172.7 196.5 172.9 197.6 172.8 198.7 172.6 199.8 172.5 200.9 172.8 202 172.9 203.1 172.8 204.2 172.5 205.3 172.6 206.4 172.9 207.5 172.9 208.6 172.7 209.7 172.5 210.8 172.8 211.9 172.9 213 172.8 214.2 172.5 215.3 172.7 216.4 172.9 217.5 172.8 218.6 172.6 219.7 172.7 220.8 172.9 221.9 172.8 223 172.6 224.1 172.7 225.2 172.9 226.3 172.8 227.4 172.6 228.5 172.8 229.6 172.9 230.7 172.7 231.8 172.6 232.9 172.9 234 172.9 235.1 172.6 236.3 172.7 237.4 172.9 238.5 172.8 239.6 172.6 240.7 172.8 241.8 172.9 242.9 172.7 244 172.6 245.1 172.9 246.2 172.8 247.3 172.6 248.4 172.8 249.5 172.9 250.6 172.7 251.7 172.6 252.8 172.9 253.9 172.8 255 172.6 256.1 172.8 257.2 172.9 258.4 172.6 259.5 172.7 260.6 172.9 261.7 172.7 262.8 172.6 263.9 172.9 265 172.8 266.1 172.6 267.2 172.8 268.3 172.9 269.4 172.6 270.5 172.7 271.6 172.9 272.7 172.7 273.8 172.6 274.9 172.9 276 172.8 277.1 172.6 278.2 172.8 279.3 172.9 280.5 172.6 281.6 172.8 282.7 172.9 283.8 172.7 284.9 172.7 286 172.9 287.1 172.8 288.2 172.6 289.3 172.9 290.4 172.9 291.5 172.6 292.6 172.8 293.7 172.9 294.8 172.7 295.9 172.7 297 172.9 298.1 172.8 299.2 172.6 300.3 172.8 301.4 172.9 302.6 172.6 303.7 172.7 304.8 172.9 305.9 172.8 307 172.6 308.1 172.8 309.2 172.9 310.3 172.7 311.4 172.6 312.5 172.8 313.6 172.9 314.7 172.7 315.8 172.5 316.9 172.8 318 172.9 319.1 172.8 320.2 172.5 321.3 172.6 322.4 172.8 323.5 172.9 324.7 172.8 325.8 172.5 326.9 172.4 328 172.4 329.1 172.5 330.2 172.6 331.3 172.8 332.4 172.9 333.5 172.9" stroke="#8c564b"/>
<path d="M159.4 171.1 160.5 171.1 161.6 171 162.7 171 163.8 170.8 164.9 170.8 166.1 170.7 167.2 170.6 168.3 170.5 169.4 170.5 170.5 170.6 171.6 170.8 172.7 171 173.8 171.1 174.9 171.1 176 171 177.1 170.8 178.2 170.6 179.3 170.6 180.4 170.8 181.5 171.1 182.6 171.1 183.7 171 184.8 170.7 185.9 170.7 187 170.8 188.2 171.1 189.3 171.1 190.4 170.9 191.5 170.7 192.6 170.7 193.7 171 194.8 171.1 195.9 171 197 170.7 198.1 170.8 199.2 171 200.3 171.1 201.4 170.9 202.5 170.7 203.6 170.9 204.7 171.1 205.8 171 206.9 170.8 208 170.8 209.2 171 210.3 171.1 211.4 170.8 212.5 170.7 213.6 171 214.7 171.1 215.8 170.9 216.9 170.7 218 171 219.1 171.1 220.2 170.9 221.3 170.8 222.4 171 223.5 171.1 224.6 170.8 225.7 170.8 226.8 171.1 227.9 171.1 229 170.8 230.2 170.9 231.3 171.1 232.4 171 233.5 170.8 234.6 171 235.7 171.1 236.8 170.9 237.9 170.8 239 171.1 240.1 171 241.2 170.8 242.3 171 243.4 171.1 244.5 170.9 245.6 170.8 246.7 171.1 247.8 171 248.9 170.8 250 171 251.2 171.1 252.3 170.8 253.4 170.9 254.5 171.1 255.6 170.9 256.7 170.8 257.8 171.1 258.9 171 260 170.8 261.1 171 262.2 171.1 263.3 170.8 264.4 170.9 265.5 171.1 266.6 170.9 267.7 170.8 268.8 171.1 269.9 171 271 170.8 272.2 171.1 273.3 171.1 274.4 170.8 275.5 171 276.6 171.1 277.7 170.8 278.8 170.9 279.9 171.1 281 170.9 282.1 170.8 283.2 171.1 284.3 171 285.4 170.8 286.5 171.1 287.6 171.1 288.7 170.8 289.8 171 290.9 171.1 292 170.8 293.2 170.9 294.3 171.1 295.4 170.9 296.5 170.8 297.6 171.1 298.7 171.1 299.8 170.8 300.9 171 302 171.1 303.1 170.9 304.2 170.8 305.3 171.1 306.4 171 307.5 170.8 308.6 170.9 309.7 171.1 310.8 170.9 311.9 170.8 313 171 314.2 171.1 315.3 170.9 316.4 170.7 317.5 171 318.6 171.1 319.7 171 320.8 170.7 321.9 170.8 323 171 324.1 171.1 325.2 171 326.3 170.7 327.4 170.6 328.5 170.6 329.6 170.7 330.7 170.8 331.8 171 332.9 171.1 334 171.1" stroke="#e377c2"/>
<path d="M159 169.3 160.1 169.2 161.2 169.1 162.3 169 163.4 168.9 164.6 168.9 165.7 168.8 166.8 168.7 167.9 168.7 169 168.9 170.1 169 171.2 169.2 172.3 169.3 173.4 169.3 174.5 169.1 175.6 168.9 176.7 168.8 177.8 168.9 178.9 169.1 180 169.3 181.1 169.3 182.2 169.1 183.3 168.9 184.4 168.9 185.5 169.1 186.6 169.3 187.7 169.2 188.8 169 189.9 168.9 191 169 192.1 169.3 193.3 169.3 194.4 169 195.5 168.9 196.6 169.1 197.7 169.3 198.8 169.2 199.9 169 201 168.9 202.1 169.2 203.2 169.3 204.3 169.1 205.4 168.9 206.5 169.1 207.6 169.3 208.7 169.2 209.8 168.9 210.9 169 212 169.3 213.1 169.2 214.2 169 215.3 169 216.4 169.3 217.5 169.2 218.6 169 219.7 169.1 220.8 169.3 222 169.2 223.1 168.9 224.2 169.1 225.3 169.3 226.4 169.1 227.5 169 228.6 169.2 229.7 169.3 230.8 169 231.9 169 233 169.3 234.1 169.2 235.2 169 236.3 169.2 237.4 169.3 238.5 169 239.6 169 240.7 169.3 241.8 169.2 242.9 169 244 169.2 245.1 169.3 246.2 169 247.3 169.1 248.4 169.3 249.6 169.1 250.7 169 251.8 169.3 252.9 169.2 254 169 255.1 169.2 256.2 169.3 257.3 169 258.4 169.1 259.5 169.3 260.6 169.1 261.7 169 262.8 169.3 263.9 169.2 265 169 266.1 169.2 267.2 169.3 268.3 169 269.4 169.2 270.5 169.3 271.6 169 272.7 169.1 273.8 169.3 274.9 169.1 276 169 277.1 169.3 278.3 169.1 279.4 169 280.5 169.3 281.6 169.2 282.7 169 283.8 169.2 284.9 169.3 286 169 287.1 169.2 288.2 169.3 289.3 169 290.4 169.1 291.5 169.3 292.6 169.1 293.7 169 294.8 169.3 295.9 169.2 297 169 298.1 169.2 299.2 169.3 300.3 169 301.4 169.1 302.5 169.3 303.6 169.1 304.7 169 305.8 169.3 307 169.3 308.1 169 309.2 169.1 310.3 169.3 311.4 169.1 312.5 168.9 313.6 169.2 314.7 169.3 315.8 169.1 316.9 168.9 318 169.1 319.1 169.3 320.2 169.2 321.3 168.9 322.4 169 323.5 169.2 324.6 169.3 325.7 169.2 326.8 168.9 327.9 168.8 329 168.8 330.1 168.9 331.2 169 332.3 169.2 333.4 169.3 334.5 169.3" stroke="#7f7f7f"/>
<path d="M159.8 167.2 161 167.2 162.1 167.1 163.2 167 164.3 166.9 165.4 166.9 166.5 167 167.6 167.1 168.7 167.3 169.8 167.5 170.9 167.5 172 167.4 173.1 167.2 174.2 167 175.3 167 176.4 167.2 177.5 167.4 178.6 167.5 179.7 167.4 180.8 167.1 181.9 167 183 167.2 184.1 167.4 185.2 167.5 186.3 167.3 187.4 167.1 188.5 167.1 189.6 167.3 190.7 167.5 191.8 167.4 192.9 167.1 194 167.1 195.1 167.4 196.2 167.5 197.3 167.3 198.4 167.1 199.5 167.2 200.6 167.5 201.7 167.4 202.8 167.2 203.9 167.1 205 167.4 206.1 167.5 207.2 167.2 208.3 167.1 209.4 167.4 210.5 167.5 211.6 167.3 212.7 167.1 213.8 167.4 214.9 167.5 216 167.3 217.1 167.1 218.2 167.4 219.4 167.5 220.5 167.2 221.6 167.2 222.7 167.5 223.8 167.4 224.9 167.2 226 167.3 227.1 167.5 228.2 167.3 229.3 167.2 230.4 167.4 231.5 167.5 232.6 167.2 233.7 167.2 234.8 167.5 235.9 167.4 237 167.2 238.1 167.4 239.2 167.5 240.3 167.2 241.4 167.3 242.5 167.5 243.6 167.3 244.7 167.2 245.8 167.5 246.9 167.4 248 167.2 249.1 167.4 250.2 167.5 251.3 167.2 252.4 167.3 253.5 167.5 254.6 167.3 255.7 167.2 256.8 167.5 257.9 167.4 259 167.2 260.1 167.4 261.2 167.5 262.3 167.2 263.4 167.3 264.5 167.5 265.6 167.2 266.7 167.3 267.8 167.5 268.9 167.3 270 167.2 271.1 167.5 272.2 167.3 273.3 167.2 274.4 167.5 275.5 167.4 276.6 167.2 277.8 167.4 278.9 167.4 280 167.2 281.1 167.4 282.2 167.5 283.3 167.2 284.4 167.3 285.5 167.5 286.6 167.2 287.7 167.3 288.8 167.5 289.9 167.3 291 167.2 292.1 167.5 293.2 167.4 294.3 167.2 295.4 167.4 296.5 167.4 297.6 167.2 298.7 167.3 299.8 167.5 300.9 167.2 302 167.2 303.1 167.5 304.2 167.3 305.3 167.2 306.4 167.4 307.5 167.5 308.6 167.2 309.7 167.2 310.8 167.5 311.9 167.4 313 167.1 314.1 167.3 315.2 167.5 316.3 167.3 317.4 167.1 318.5 167.3 319.6 167.5 320.7 167.4 321.8 167.1 322.9 167.1 324 167.4 325.1 167.5 326.2 167.4 327.3 167.1 328.4 167 329.5 167 330.6 167.1 331.7 167.2 332.8 167.4 333.9 167.5 335 167.5" stroke="#bcbd22"/>
<path d="M166.7 165.5 167.9 165.7 169 165.7 170.1 165.6 171.2 165.4 172.3 165.2 173.4 165.2 174.5 165.4 175.6 165.6 176.7 165.7 177.8 165.5 178.9 165.3 180 165.2 181.1 165.4 182.2 165.6 183.3 165.7 184.4 165.5 185.5 165.3 186.6 165.3 187.7 165.6 188.8 165.7 189.9 165.5 191 165.3 192.1 165.3 193.2 165.6 194.3 165.7 195.4 165.5 196.5 165.3 197.6 165.4 198.7 165.7 199.8 165.6 201 165.3 202.1 165.4 203.2 165.6 204.3 165.6 205.4 165.4 206.5 165.3 207.6 165.6 208.7 165.7 209.8 165.4 210.9 165.3 212 165.6 213.1 165.7 214.2 165.4 215.3 165.4 216.4 165.6 217.5 165.6 218.6 165.3 219.7 165.4 220.8 165.7 221.9 165.5 223 165.3 224.1 165.5 225.2 165.7 226.3 165.4 227.4 165.4 228.5 165.7 229.6 165.6 230.7 165.3 231.8 165.5 232.9 165.7 234 165.4 235.2 165.4 236.3 165.7 237.4 165.6 238.5 165.3 239.6 165.6 240.7 165.7 241.8 165.4 242.9 165.5 244 165.7 245.1 165.5 246.2 165.4 247.3 165.7 248.4 165.6 249.5 165.4 250.6 165.6 251.7 165.6 252.8 165.4 253.9 165.5 255 165.7 256.1 165.4 257.2 165.4 258.3 165.7 259.4 165.5 260.5 165.4 261.6 165.7 262.7 165.5 263.8 165.4 264.9 165.6 266 165.6 267.1 165.4 268.3 165.6 269.4 165.6 270.5 165.4 271.6 165.6 272.7 165.7 273.8 165.4 274.9 165.5 276 165.7 277.1 165.4 278.2 165.5 279.3 165.7 280.4 165.4 281.5 165.4 282.6 165.7 283.7 165.5 284.8 165.4 285.9 165.7 287 165.5 288.1 165.4 289.2 165.6 290.3 165.6 291.4 165.4 292.5 165.6 293.6 165.6 294.7 165.4 295.8 165.5 296.9 165.7 298 165.4 299.1 165.5 300.2 165.7 301.3 165.5 302.5 165.4 303.6 165.7 304.7 165.6 305.8 165.3 306.9 165.6 308 165.7 309.1 165.4 310.2 165.4 311.3 165.7 312.4 165.6 313.5 165.3 314.6 165.5 315.7 165.7 316.8 165.5 317.9 165.3 319 165.5 320.1 165.7 321.2 165.5 322.3 165.3 323.4 165.3 324.5 165.6 325.6 165.7 326.7 165.5 327.8 165.3 328.9 165.2 330 165.2 331.1 165.3 332.2 165.4 333.3 165.6 334.4 165.7 335.5 165.7" stroke="#17becf"/>
</g>
<path d="M83.3 23.3 83.6 24.8 83.8 26.3 84 27.8 84.2 29.3 84.4 30.8 84.6 32.3 84.8 33.7 85 35.2 85.3 36.7 85.5 38.2 85.7 39.7 85.9 41.2 86.2 42.7 86.4 44.1 86.7 45.6 86.9 47.1 87.1 48.6 87.4 50.1 87.6 51.6 87.9 53 88.1 54.5 88.4 56 88.6 57.5 88.9 59 89.2 60.4 89.4 61.9 89.7 63.4 90 64.9 90.3 66.4 90.6 67.8 90.8 69.3 91.1 70.8 91.4 72.3 91.7 73.7 92 75.2 92.3 76.7 92.7 78.1 93 79.6 93.3 81.1 93.6 82.5 93.9 84 94.3 85.5 94.6 86.9 95 88.4 95.3 89.9 95.7 91.3 96.1 92.8 96.4 94.2 96.8 95.7 97.2 97.1 97.6 98.6 98 100 98.4 101.5 98.8 102.9 99.2 104.4 99.7 105.8 100.1 107.3 100.5 108.7 101 110.1 101.5 111.5 102 113 102.4 114.4 102.9 115.8 103.5 117.2 104 118.6 104.5 120 105.1 121.4 105.6 122.8 106.2 124.2 106.8 125.6 107.4 127 108 128.3 108.7 129.7 109.3 131 110 132.4 110.7 133.7 111.4 135 112.2 136.4 112.9 137.6 113.7 138.9 114.5 140.2 115.3 141.5 116.2 142.7 117.1 143.9 118 145.1 118.9 146.3 119.9 147.4 120.9 148.5 121.9 149.6 123 150.7 124.1 151.8 125.2 152.8 126.3 153.7 127.5 154.7 128.7 155.5 130 156.4 131.2 157.2 132.5 158 133.8 158.7 135.2 159.4 136.5 160 137.9 160.6 139.3 161.1 140.8 161.6 142.2 162.1 143.6 162.5 145.1 162.8 146.6 163.1 148 163.4 149.5 163.7 151 163.9 152.5 164.1 154 164.3 155.5 164.6 156.9 165.1 158.2 165.8 159.4 166.7 160.6 167.6 161.7 168.6 162.8 169.7 163.9 170.7 165 171.8 166 172.8 167.1 173.9 168.2 174.9 169.3 175.9 170.4 177 171.5 178 172.6 179 173.7 180.1 174.8 181.1 175.9 182.1 177 183.1 178.1 184.1 179.2 185.1 180.4 186.1 181.5 187.1 182.6 188.1 183.8 189 184.9 190 186.1 191 187.2 191.9 188.4 192.9 189.6 193.8 190.7 194.8 191.9 195.7 193.1 196.7 194.2 197.6 195.4 198.5 196.6 199.5 197.8 200.4 199 201.3 200.2 202.2 201.4 203.1 202.6 204 203.8 204.9 205.1 205.7 206.3 206.6 207.5 207.5 208.7 208.3 210 209.2 211.2 210 212.5 210.9 213.7 211.7 215 212.5 216.2 213.3 217.5 214.2 218.8 215 220.1 215.7 221.3 216.5 222.6 217.3 223.9 218.1 225.2 218.8 226.5 219.5 227.8 220.3 229.2 221 230.5 221.7 231.8 222.4 233.2 223.1 234.5 223.8 235.9 224.4 237.2 225.1 238.6 225.7 239.9 226.3 241.3 226.9 242.7 227.5 244.1 228.1 245.5 228.7 246.9 229.2 248.3 229.8 249.7 230.3 251.1 230.8 252.5 231.3 254 231.7 255.4 232.2 256.8 232.6 258.3 233 259.7 233.4 261.2 233.7 262.7 234.1 264.1 234.4 265.6 234.7 267.1 235 268.6 235.2 270.1 235.4 271.6 235.6 273 235.7 274.5 235.8 276 235.9 277.6 235.9 279.1 235.9 280.6 235.9 282.1 235.8 283.6 235.6 285 235.5 286.5 235.2 288 234.9 289.5 234.5 290.9 234.1 292.3 233.6 293.7 233.1 295.1 232.5 296.5 231.8 297.8 231.1 299.1 230.3 300.3 229.5 301.5 228.6 302.7 227.7 303.9 226.7 305 225.7 306.1 224.7 307.1 223.6 308.1 222.5 309.1 221.3 310 220.1 310.9 218.9 311.8 217.7 312.6 216.5 313.5 215.2 314.2 214 315 212.7 315.8 211.4 316.5 210 317.2 208.7 317.9 207.4 318.5 206 319.2 204.7 319.8 203.3 320.4 201.9 321 200.5 321.6 199.2 322.1 197.8 322.7 196.4 323.2 195 323.8 193.5 324.3 192.1 324.8 190.7 325.3 189.3 325.7 187.9 326.2 186.4 326.7 185 327.1 183.6 327.6 182.1 328 180.7 328.4 179.3 328.8 177.8 329.2 176.4 329.6 174.9 330 173.5 330.4 172 330.8 170.6 331.2 169.1 331.6 167.7 331.9 166.2 332.3 164.7 332.6 163.3 333 161.8 333.3 160.4 333.7 158.9 334 157.4 334.3 156 334.6 154.5 335 153 335.3 151.5 335.6 150.1 335.9 148.6 336.2 147.1 336.5 145.7 336.8 144.2 337.1 142.7 337.4 141.2 337.6 139.8 337.9 138.3 338.2 136.8 338.5 135.3 338.7 133.8 339 132.4 339.3 130.9 339.5 129.4 339.8 127.9 340 126.4 340.3 125 340.5 123.5 340.8 122 341 120.5 341.3 119 341.5 117.5 341.7 116.1 342 114.6 342.2 113.1 342.4 111.6 342.7 110.1 342.9 108.6 343.1 107.2 343.3 105.7 343.6 104.2 343.8 102.7 344 101.2 344.2 99.7 344.4 98.2 344.6 96.7 344.8 95.2 345 93.8 345.2 92.3 345.4 90.8 345.6 89.3 345.8 87.8 346 86.3 346.2 84.8 346.4 83.3 346.6 81.8 346.8 80.3 347 78.9 347.2 77.4 347.4 75.9 347.6 74.4 347.7 72.9 347.9 71.4 348.1 69.9 348.3 68.4 348.5 66.9 348.6 65.4 348.8 63.9 349 62.4 349.2 61 349.3 59.5 349.5 58 349.7 56.5 349.8 55 350 53.5 350.2 52 350.3 50.5 350.5 49 350.7 47.5 350.8 46 351 44.5 351.2 43 351.3 41.5 351.5 40 351.6 38.5 351.8 37 351.9 35.6 352.1 34.1 352.3 32.6 352.4 31.1 352.6 29.6 352.7 28.1 352.9 26.6 353 25.1 353.1 23.6" fill="none" stroke="#0000ff" stroke-width="2.1" stroke-linejoin="round" clip-path="url(#cpa)"/>
<path d="M96.2 23.4 96.5 24.8 96.9 26.3 97.2 27.8 97.6 29.2 97.9 30.7 98.3 32.2 98.6 33.6 99 35.1 99.3 36.5 99.7 38 100.1 39.4 100.4 40.9 100.8 42.4 101.2 43.8 101.6 45.3 101.9 46.7 102.3 48.2 102.7 49.6 103.1 51.1 103.5 52.5 103.9 54 104.3 55.4 104.7 56.8 105.1 58.3 105.5 59.7 105.9 61.2 106.4 62.6 106.8 64.1 107.2 65.5 107.7 66.9 108.1 68.4 108.5 69.8 109 71.2 109.4 72.7 109.9 74.1 110.4 75.5 110.8 77 111.3 78.4 111.8 79.8 112.3 81.2 112.7 82.6 113.2 84.1 113.7 85.5 114.2 86.9 114.7 88.3 115.3 89.7 115.8 91.1 116.3 92.5 116.8 93.9 117.4 95.3 117.9 96.7 118.5 98.1 119 99.5 119.6 100.9 120.2 102.3 120.8 103.7 121.3 105.1 121.9 106.4 122.5 107.8 123.1 109.2 123.8 110.6 124.4 111.9 125 113.3 125.7 114.6 126.3 116 127 117.3 127.6 118.7 128.3 120 129 121.4 129.7 122.7 130.4 124 131.1 125.4 131.8 126.7 132.5 128 133.3 129.3 134 130.6 134.8 131.9 135.5 133.2 136.3 134.5 137.1 135.8 137.9 137 138.7 138.3 139.5 139.6 140.3 140.8 141.2 142.1 142 143.3 142.9 144.5 143.7 145.8 144.6 147 145.5 148.2 146.4 149.4 147.3 150.6 148.2 151.8 149.1 153 150.1 154.1 151 155.3 152 156.4 153 157.5 154 158.6 155.1 159.7 156.2 160.7 157.5 161.6 158.8 162.2 160.3 162.5 161.8 162.6 163.3 162.6 164.8 162.4 166.3 162.2 167.7 162 169.2 161.7 170.7 161.4 172.1 161 173.6 160.6 175 160.1 176.4 159.6 177.8 159.1 179.2 158.6 180.6 158 182 157.4 183.4 156.8 184.7 156.2 186.1 155.5 187.4 154.8 188.7 154.1 190.1 153.4 191.4 152.7 192.7 151.9 194 151.2 195.2 150.4 196.5 149.6 197.8 148.8 199 147.9 200.3 147.1 201.5 146.3 202.8 145.4 204 144.5 205.2 143.7 206.4 142.8 207.6 141.9 208.8 141 210 140.1 211.2 139.2 212.4 138.2 213.6 137.3 214.8 136.4 215.9 135.5 217.1 134.5 218.3 133.6 219.5 132.6 220.6 131.7 221.8 130.8 223 129.8 224.2 128.9 225.3 128 226.5 127.1 227.7 126.2 229 125.3 230.2 124.5 231.5 123.7 232.8 122.9 234.1 122.3 235.5 121.8 237 121.3 238.5 121 239.9 120.9 241.4 120.7 242.9 120.7 244.4 120.6 245.9 120.6 247.4 120.6 248.9 120.6 250.4 120.6 251.9 120.5 253.4 120.4 254.9 120.3 256.4 120.2 257.9 120 259.4 119.8 260.9 119.6 262.4 119.3 263.8 119 265.3 118.7 266.8 118.3 268.2 117.8 269.6 117.3 271 116.8 272.4 116.2 273.8 115.6 275.1 114.9 276.4 114.2 277.7 113.5 279 112.7 280.3 111.9 281.5 111 282.7 110.1 283.9 109.2 285 108.2 286.2 107.2 287.3 106.2 288.3 105.2 289.4 104.1 290.4 103 291.4 101.9 292.4 100.8 293.4 99.6 294.3 98.4 295.2 97.2 296.1 96.1 297 94.8 297.9 93.6 298.7 92.4 299.6 91.1 300.4 89.9 301.2 88.6 302 87.3 302.7 86 303.5 84.7 304.2 83.4 305 82.1 305.7 80.8 306.4 79.4 307.1 78.1 307.7 76.8 308.4 75.4 309 74.1 309.7 72.7 310.3 71.4 310.9 70 311.6 68.6 312.2 67.2 312.8 65.9 313.3 64.5 313.9 63.1 314.5 61.7 315 60.3 315.6 58.9 316.1 57.5 316.7 56.1 317.2 54.7 317.7 53.3 318.3 51.9 318.8 50.5 319.3 49.1 319.8 47.7 320.3 46.2 320.8 44.8 321.2 43.4 321.7 42 322.2 40.5 322.6 39.1 323.1 37.7 323.6 36.3 324 34.8 324.5 33.4 324.9 32 325.3 30.5 325.8 29.1 326.2 27.6 326.6 26.2 327 24.8 327.4 23.3" fill="none" stroke="#ffa500" stroke-width="2.1" stroke-linejoin="round" clip-path="url(#cpa)"/>
<path d="M111.1 23.4 111.7 24.8 112.3 26.2 112.9 27.6 113.5 28.9 114.1 30.3 114.7 31.7 115.3 33 116 34.4 116.6 35.8 117.3 37.1 117.9 38.5 118.6 39.8 119.3 41.2 120 42.5 120.7 43.8 121.4 45.2 122.1 46.5 122.9 47.8 123.6 49.1 124.4 50.4 125.1 51.7 125.9 53 126.7 54.3 127.5 55.6 128.3 56.8 129.1 58.1 130 59.3 130.8 60.6 131.7 61.8 132.6 63 133.4 64.3 134.4 65.5 135.3 66.6 136.2 67.8 137.2 69 138.1 70.2 139.1 71.3 140.1 72.4 141.1 73.6 142.1 74.7 143.2 75.7 144.2 76.8 145.3 77.9 146.4 78.9 147.5 80 148.6 81 149.7 82 150.9 82.9 152 83.9 153.2 84.8 154.4 85.8 155.6 86.7 156.8 87.6 158 88.4 159.3 89.3 160.5 90.1 161.8 90.9 163.1 91.7 164.4 92.5 165.7 93.3 167 94 168.3 94.7 169.6 95.5 171 96.1 172.3 96.8 173.7 97.5 175 98.1 176.4 98.8 177.8 99.4 179.1 100 180.5 100.6 181.9 101.2 183.3 101.7 184.7 102.3 186.1 102.9 187.5 103.4 188.9 103.9 190.3 104.4 191.7 105 193.2 105.5 194.6 106 196 106.4 197.4 106.9 198.9 107.4 200.3 107.9 201.7 108.3 203.2 108.8 204.6 109.2 206.1 109.6 207.5 110.1 208.9 110.5 210.4 110.9 211.9 111.3 213.3 111.7 214.8 112.1 216.2 112.4 217.7 112.8 219.2 113.1 220.6 113.4 222.1 113.7 223.6 114 225.1 114.2 226.6 114.4 228.1 114.5 229.6 114.5 231.1 114.4 232.6 114.2 234 113.9 235.5 113.4 236.8 112.7 238.1 112 239.4 111.1 240.6 110.3 241.8 109.3 243 108.4 244.1 107.4 245.2 106.4 246.4 105.4 247.5 104.4 248.6 103.3 249.6 102.3 250.7 101.2 251.8 100.2 252.8 99.1 253.9 98 254.9 97 256 95.9 257 94.8 258 93.7 259.1 92.6 260.1 91.4 261.1 90.3 262.1 89.2 263.1 88.1 264 86.9 265 85.8 266 84.6 267 83.5 267.9 82.3 268.9 81.1 269.8 79.9 270.7 78.8 271.7 77.6 272.6 76.4 273.5 75.2 274.4 74 275.3 72.8 276.2 71.5 277 70.3 277.9 69.1 278.8 67.9 279.6 66.6 280.5 65.4 281.3 64.1 282.1 62.9 283 61.6 283.8 60.3 284.6 59.1 285.4 57.8 286.2 56.5 287 55.2 287.7 53.9 288.5 52.6 289.3 51.3 290 50 290.8 48.7 291.5 47.4 292.3 46.1 293 44.8 293.7 43.5 294.5 42.2 295.2 40.8 295.9 39.5 296.6 38.2 297.3 36.8 298 35.5 298.7 34.2 299.4 32.8 300.1 31.5 300.7 30.1 301.4 28.8 302.1 27.4 302.7 26.1 303.4 24.7 304 23.4" fill="none" stroke="#008000" stroke-width="2.1" stroke-linejoin="round" clip-path="url(#cpa)"/>
<path d="M73.3 29 V267.7 H353.6" fill="none" stroke="#7c7c7c" stroke-width="1.35"/>
<path d="M72.9 29.5 h-2.8" stroke="#333" stroke-width="1"/>
<text x="25.7" y="34.5" font-size="14" textLength="41.6" lengthAdjust="spacingAndGlyphs" >−0.15</text>
<path d="M72.9 73.7 h-2.8" stroke="#333" stroke-width="1"/>
<text x="25.7" y="78.7" font-size="14" textLength="41.6" lengthAdjust="spacingAndGlyphs" >−0.20</text>
<path d="M72.9 117.8 h-2.8" stroke="#333" stroke-width="1"/>
<text x="25.7" y="122.8" font-size="14" textLength="41.6" lengthAdjust="spacingAndGlyphs" >−0.25</text>
<path d="M72.9 162 h-2.8" stroke="#333" stroke-width="1"/>
<text x="25.7" y="167" font-size="14" textLength="41.6" lengthAdjust="spacingAndGlyphs" >−0.30</text>
<path d="M72.9 206.1 h-2.8" stroke="#333" stroke-width="1"/>
<text x="25.7" y="211.1" font-size="14" textLength="41.6" lengthAdjust="spacingAndGlyphs" >−0.35</text>
<path d="M72.9 250.2 h-2.8" stroke="#333" stroke-width="1"/>
<text x="25.7" y="255.2" font-size="14" textLength="41.6" lengthAdjust="spacingAndGlyphs" >−0.40</text>
<path d="M73.6 268.1 v2.8" stroke="#333" stroke-width="1"/>
<path d="M120.2 268.1 v2.8" stroke="#333" stroke-width="1"/>
<path d="M166.8 268.1 v2.8" stroke="#333" stroke-width="1"/>
<path d="M213.4 268.1 v2.8" stroke="#333" stroke-width="1"/>
<path d="M260 268.1 v2.8" stroke="#333" stroke-width="1"/>
<path d="M306.6 268.1 v2.8" stroke="#333" stroke-width="1"/>
<path d="M353.2 268.1 v2.8" stroke="#333" stroke-width="1"/>
<text transform="translate(18.4 148.8) rotate(-90)" x="-45.4" y="0" font-size="14" textLength="90.7" lengthAdjust="spacingAndGlyphs">Energy (a.u.)</text>
<text x="167.3" y="35.8" font-size="19.3" textLength="86.2" lengthAdjust="spacingAndGlyphs" style="stroke-width:0">Adiabatic</text>
<text x="2.1" y="28" font-size="21.0" textLength="17" lengthAdjust="spacingAndGlyphs" font-weight="bold" style="stroke-width:0">a.</text>
<rect x="142.6" y="153.6" width="28" height="19.5" fill="none" stroke="#999" stroke-width="0.8"/>
<rect x="221.6" y="106.9" width="28" height="20" fill="none" stroke="#999" stroke-width="0.8"/>
<circle cx="156.9" cy="163.5" r="2.8" fill="#000"/>
<circle cx="235" cy="118" r="2.8" fill="#000"/>
<circle cx="277.9" cy="236.9" r="2.8" fill="#000"/>
<g font-size="12.6">
<text x="81.8" y="185.3" font-size="12.6" textLength="8.6" lengthAdjust="spacingAndGlyphs" font-style="italic">R</text>
<text x="90.8" y="188.9" font-size="9.6" textLength="4.7" lengthAdjust="spacingAndGlyphs" font-style="italic">c</text>
<text x="92.1" y="180.7" font-size="8.9" textLength="21.4" lengthAdjust="spacingAndGlyphs" >(1, 2)</text>
<text x="119.2" y="185.3" font-size="12.6" textLength="7.8" lengthAdjust="spacingAndGlyphs" >=</text>
<text x="131.7" y="185.3" font-size="12.6" textLength="23.4" lengthAdjust="spacingAndGlyphs" >-3.0</text>
</g>
<g font-size="12.6">
<text x="234.3" y="140.5" font-size="12.6" textLength="8.6" lengthAdjust="spacingAndGlyphs" font-style="italic">R</text>
<text x="243.3" y="144.1" font-size="9.6" textLength="4.7" lengthAdjust="spacingAndGlyphs" font-style="italic">c</text>
<text x="244.6" y="135.9" font-size="8.9" textLength="21.4" lengthAdjust="spacingAndGlyphs" >(2, 3)</text>
<text x="271.7" y="140.5" font-size="12.6" textLength="7.8" lengthAdjust="spacingAndGlyphs" >=</text>
<text x="284.2" y="140.5" font-size="12.6" textLength="17.6" lengthAdjust="spacingAndGlyphs" >1.2</text>
</g>
<text x="229.8" y="251.8" font-size="12.6" textLength="8.6" lengthAdjust="spacingAndGlyphs" font-style="italic">R</text>
<text x="239.1" y="254.4" font-size="8.9" textLength="4.7" lengthAdjust="spacingAndGlyphs" font-style="italic">e</text>
<text x="248" y="251.8" font-size="12.6" textLength="7.6" lengthAdjust="spacingAndGlyphs" >=</text>
<text x="260.2" y="251.8" font-size="12.6" textLength="19.2" lengthAdjust="spacingAndGlyphs" >3.5</text>
<rect x="79.4" y="190.4" width="82.6" height="71.4" rx="2.6" fill="#fff" fill-opacity="0.8" stroke="#ccc" stroke-width="1"/>
<path d="M84 203.1 H111.5" stroke="#0000ff" stroke-width="2.1"/>
<text x="121.4" y="208" font-size="14" textLength="8.6" lengthAdjust="spacingAndGlyphs" font-style="italic">V</text>
<text x="130.4" y="211" font-size="9.8" textLength="5" lengthAdjust="spacingAndGlyphs" >1</text>
<text x="130" y="201.6" font-size="10.4" textLength="6.2" lengthAdjust="spacingAndGlyphs" font-style="italic">A</text>
<text x="137.8" y="208" font-size="14" textLength="3.6" lengthAdjust="spacingAndGlyphs" >(</text>
<text x="142" y="208" font-size="14" textLength="8.6" lengthAdjust="spacingAndGlyphs" font-style="italic">R</text>
<text x="151.6" y="208" font-size="14" textLength="3.6" lengthAdjust="spacingAndGlyphs" >)</text>
<path d="M84 225.3 H111.5" stroke="#ffa500" stroke-width="2.1"/>
<text x="121.4" y="230.2" font-size="14" textLength="8.6" lengthAdjust="spacingAndGlyphs" font-style="italic">V</text>
<text x="130.4" y="233.2" font-size="9.8" textLength="5" lengthAdjust="spacingAndGlyphs" >2</text>
<text x="130" y="223.8" font-size="10.4" textLength="6.2" lengthAdjust="spacingAndGlyphs" font-style="italic">A</text>
<text x="137.8" y="230.2" font-size="14" textLength="3.6" lengthAdjust="spacingAndGlyphs" >(</text>
<text x="142" y="230.2" font-size="14" textLength="8.6" lengthAdjust="spacingAndGlyphs" font-style="italic">R</text>
<text x="151.6" y="230.2" font-size="14" textLength="3.6" lengthAdjust="spacingAndGlyphs" >)</text>
<path d="M84 247.6 H111.5" stroke="#008000" stroke-width="2.1"/>
<text x="121.4" y="252.5" font-size="14" textLength="8.6" lengthAdjust="spacingAndGlyphs" font-style="italic">V</text>
<text x="130.4" y="255.5" font-size="9.8" textLength="5" lengthAdjust="spacingAndGlyphs" >3</text>
<text x="130" y="246.1" font-size="10.4" textLength="6.2" lengthAdjust="spacingAndGlyphs" font-style="italic">A</text>
<text x="137.8" y="252.5" font-size="14" textLength="3.6" lengthAdjust="spacingAndGlyphs" >(</text>
<text x="142" y="252.5" font-size="14" textLength="8.6" lengthAdjust="spacingAndGlyphs" font-style="italic">R</text>
<text x="151.6" y="252.5" font-size="14" textLength="3.6" lengthAdjust="spacingAndGlyphs" >)</text>
<clipPath id="cpb"><rect x="73.3" y="297.1" width="280.9" height="238.4"/></clipPath>
<g fill="none" stroke-width="0.7" stroke-opacity="1.0" clip-path="url(#cpb)">
<path d="M243.6 386.2 244.8 386.5 246 386.5 247.1 386.4 248.3 386.3 249.5 386.2 250.6 386.1 251.8 386.1 253 386.1 254.1 386.2 255.3 386.3 256.5 386.4 257.6 386.5 258.8 386.5 260 386.3 261.1 387.3" stroke="#1f77b4"/>
<path d="M232.9 385.1 234 384.7 235.1 384.7 236.2 384.6 237.4 384.5 238.5 384.4 239.6 384.3 240.7 384.3 241.8 384.4 243 384.5 244.1 384.7 245.2 385 246.3 385.3 247.5 385.7 248.6 386 249.7 386.2 250.8 386.3 251.9 386.3 253.1 386.1 254.2 385.9 255.3 385.5 256.4 385.2 257.6 384.9 258.7 384.6 259.8 384.5 260.9 384.4 262 384.4 263.2 384.5 264.3 384.6 265.4 384.7 266.5 384.8 267.7 384.7 268.8 385.6" stroke="#ff7f0e"/>
<path d="M225 383.8 226.2 383.3 227.3 383.2 228.4 383.1 229.5 383 230.7 382.9 231.8 382.8 232.9 382.8 234 382.8 235.2 382.9 236.3 383.1 237.4 383.4 238.5 383.7 239.7 384 240.8 384.2 241.9 384.4 243 384.4 244.1 384.3 245.3 384.1 246.4 383.8 247.5 383.6 248.6 383.3 249.8 383.2 250.9 383.2 252 383.4 253.1 383.6 254.3 383.9 255.4 384.2 256.5 384.4 257.6 384.4 258.7 384.3 259.9 384.1 261 383.8 262.1 383.5 263.2 383.2 264.4 383 265.5 382.9 266.6 382.9 267.7 383 268.9 383.1 270 383.2 271.1 383.3 272.2 383.3 273.3 384" stroke="#2ca02c"/>
<path d="M218.2 382.3 219.3 382 220.4 381.7 221.5 381.7 222.6 381.6 223.7 381.5 224.8 381.4 225.9 381.3 227 381.3 228.2 381.3 229.3 381.4 230.4 381.6 231.5 381.9 232.6 382.2 233.7 382.4 234.8 382.6 235.9 382.7 237 382.6 238.1 382.5 239.2 382.2 240.3 382 241.5 381.7 242.6 381.6 243.7 381.7 244.8 381.8 245.9 382.1 247 382.4 248.1 382.6 249.2 382.7 250.3 382.6 251.4 382.4 252.5 382.1 253.6 381.9 254.8 381.7 255.9 381.7 257 381.8 258.1 382 259.2 382.3 260.3 382.5 261.4 382.7 262.5 382.7 263.6 382.5 264.7 382.3 265.8 382 266.9 381.7 268.1 381.5 269.2 381.4 270.3 381.4 271.4 381.5 272.5 381.5 273.6 381.6 274.7 381.7 275.8 381.9 276.9 382.4" stroke="#d62728"/>
<path d="M211.8 380.8 213 380.6 214.1 380.2 215.2 380.1 216.3 380.1 217.4 380 218.5 379.9 219.7 379.8 220.8 379.7 221.9 379.7 223 379.8 224.1 380 225.2 380.2 226.4 380.4 227.5 380.7 228.6 380.9 229.7 381 230.8 381 231.9 380.8 233 380.6 234.2 380.4 235.3 380.1 236.4 380 237.5 380.1 238.6 380.3 239.7 380.5 240.9 380.8 242 381 243.1 381 244.2 380.9 245.3 380.6 246.4 380.3 247.5 380.2 248.7 380.1 249.8 380.2 250.9 380.5 252 380.8 253.1 381 254.2 381 255.4 380.9 256.5 380.6 257.6 380.3 258.7 380.1 259.8 380.1 260.9 380.2 262.1 380.5 263.2 380.7 264.3 380.9 265.4 381 266.5 380.9 267.6 380.7 268.7 380.5 269.9 380.2 271 380 272.1 379.9 273.2 379.8 274.3 379.9 275.4 380 276.6 380.1 277.7 380.1 278.8 380.4 279.9 380.7" stroke="#9467bd"/>
<path d="M205.9 379.2 207 379 208.1 378.8 209.2 378.6 210.4 378.5 211.5 378.4 212.6 378.3 213.7 378.3 214.8 378.2 215.9 378.2 217 378.2 218.1 378.3 219.2 378.5 220.3 378.7 221.4 379 222.6 379.2 223.7 379.3 224.8 379.3 225.9 379.2 227 379.1 228.1 378.8 229.2 378.6 230.3 378.5 231.4 378.5 232.5 378.6 233.7 378.8 234.8 379.1 235.9 379.3 237 379.3 238.1 379.2 239.2 379 240.3 378.8 241.4 378.6 242.5 378.5 243.6 378.7 244.7 378.9 245.9 379.2 247 379.3 248.1 379.3 249.2 379.1 250.3 378.9 251.4 378.6 252.5 378.6 253.6 378.7 254.7 378.9 255.8 379.1 257 379.3 258.1 379.3 259.2 379.2 260.3 378.9 261.4 378.7 262.5 378.5 263.6 378.6 264.7 378.7 265.8 379 266.9 379.2 268.1 379.3 269.2 379.3 270.3 379.1 271.4 378.9 272.5 378.6 273.6 378.4 274.7 378.3 275.8 378.3 276.9 378.3 278 378.4 279.1 378.5 280.3 378.6 281.4 378.8 282.5 379.1" stroke="#8c564b"/>
<path d="M200.6 377.6 201.7 377.4 202.8 377.3 204 377 205.1 377 206.2 376.9 207.3 376.8 208.4 376.7 209.5 376.6 210.6 376.6 211.7 376.6 212.8 376.7 213.9 376.9 215 377.1 216.1 377.3 217.2 377.5 218.3 377.6 219.5 377.7 220.6 377.6 221.7 377.4 222.8 377.2 223.9 377 225 376.9 226.1 376.9 227.2 377 228.3 377.2 229.4 377.5 230.5 377.6 231.6 377.7 232.7 377.6 233.8 377.4 234.9 377.1 236.1 377 237.2 377 238.3 377.1 239.4 377.4 240.5 377.6 241.6 377.7 242.7 377.6 243.8 377.4 244.9 377.1 246 377 247.1 377 248.2 377.2 249.3 377.5 250.4 377.6 251.5 377.7 252.7 377.5 253.8 377.3 254.9 377.1 256 377 257.1 377.1 258.2 377.3 259.3 377.6 260.4 377.7 261.5 377.6 262.6 377.4 263.7 377.2 264.8 377 265.9 376.9 267 377.1 268.1 377.3 269.3 377.5 270.4 377.7 271.5 377.7 272.6 377.5 273.7 377.3 274.8 377.1 275.9 376.9 277 376.8 278.1 376.7 279.2 376.8 280.3 376.9 281.4 376.9 282.5 377 283.6 377.3 284.7 377.5" stroke="#e377c2"/>
<path d="M195.6 375.9 196.7 375.9 197.8 375.7 198.9 375.4 200.1 375.4 201.2 375.3 202.3 375.2 203.4 375.1 204.5 375.1 205.6 375 206.7 375.1 207.9 375.1 209 375.3 210.1 375.5 211.2 375.7 212.3 375.9 213.4 376 214.5 376.1 215.6 376 216.8 375.8 217.9 375.6 219 375.4 220.1 375.3 221.2 375.3 222.3 375.4 223.4 375.7 224.5 375.9 225.7 376 226.8 376 227.9 375.9 229 375.7 230.1 375.5 231.2 375.3 232.3 375.4 233.4 375.6 234.6 375.9 235.7 376 236.8 376 237.9 375.9 239 375.6 240.1 375.4 241.2 375.4 242.4 375.5 243.5 375.8 244.6 376 245.7 376.1 246.8 375.9 247.9 375.7 249 375.5 250.1 375.4 251.3 375.5 252.4 375.8 253.5 376 254.6 376.1 255.7 375.9 256.8 375.7 257.9 375.5 259 375.4 260.2 375.5 261.3 375.8 262.4 376 263.5 376.1 264.6 375.9 265.7 375.7 266.8 375.5 268 375.4 269.1 375.4 270.2 375.6 271.3 375.8 272.4 376 273.5 376.1 274.6 376 275.7 375.7 276.9 375.5 278 375.3 279.1 375.2 280.2 375.1 281.3 375.2 282.4 375.3 283.5 375.4 284.6 375.4 285.8 375.7 286.9 375.9" stroke="#7f7f7f"/>
<path d="M190.8 374.3 191.9 374.3 193 374.1 194.1 373.9 195.2 373.8 196.3 373.8 197.4 373.7 198.5 373.6 199.6 373.5 200.7 373.5 201.8 373.5 202.9 373.5 204 373.7 205.1 373.8 206.2 374 207.3 374.2 208.4 374.4 209.5 374.4 210.6 374.4 211.7 374.2 212.8 374 213.9 373.8 215 373.7 216.1 373.7 217.2 373.8 218.3 374 219.4 374.2 220.5 374.4 221.6 374.4 222.7 374.3 223.8 374.1 224.9 373.9 226 373.8 227.1 373.8 228.2 374 229.3 374.2 230.4 374.4 231.5 374.4 232.6 374.3 233.7 374.1 234.8 373.9 235.9 373.8 237 373.9 238.1 374.1 239.2 374.4 240.3 374.4 241.4 374.3 242.5 374.1 243.6 373.9 244.7 373.8 245.8 374 246.9 374.2 248 374.4 249.2 374.4 250.3 374.3 251.4 374 252.5 373.8 253.6 373.9 254.7 374 255.8 374.3 256.9 374.4 258 374.4 259.1 374.2 260.2 373.9 261.3 373.8 262.4 373.9 263.5 374.1 264.6 374.3 265.7 374.4 266.8 374.4 267.9 374.1 269 373.9 270.1 373.8 271.2 373.8 272.3 374 273.4 374.2 274.5 374.4 275.6 374.4 276.7 374.3 277.8 374.1 278.9 373.9 280 373.7 281.1 373.6 282.2 373.6 283.3 373.6 284.4 373.7 285.5 373.8 286.6 373.8 287.7 374.2 288.8 374.3" stroke="#bcbd22"/>
<path d="M186.2 372.7 187.3 372.7 188.4 372.6 189.5 372.4 190.6 372.2 191.8 372.2 192.9 372.1 194 372 195.1 371.9 196.2 371.9 197.3 371.9 198.4 372 199.5 372.1 200.6 372.3 201.7 372.5 202.9 372.6 204 372.8 205.1 372.8 206.2 372.8 207.3 372.6 208.4 372.4 209.5 372.2 210.6 372.1 211.7 372.1 212.8 372.2 214 372.4 215.1 372.7 216.2 372.8 217.3 372.8 218.4 372.6 219.5 372.4 220.6 372.2 221.7 372.2 222.8 372.2 224 372.5 225.1 372.7 226.2 372.8 227.3 372.8 228.4 372.6 229.5 372.3 230.6 372.2 231.7 372.3 232.8 372.4 233.9 372.7 235.1 372.8 236.2 372.7 237.3 372.5 238.4 372.3 239.5 372.2 240.6 372.3 241.7 372.6 242.8 372.8 243.9 372.8 245 372.6 246.2 372.4 247.3 372.3 248.4 372.3 249.5 372.5 250.6 372.7 251.7 372.8 252.8 372.7 253.9 372.5 255 372.3 256.2 372.3 257.3 372.5 258.4 372.7 259.5 372.8 260.6 372.7 261.7 372.5 262.8 372.3 263.9 372.2 265 372.4 266.1 372.6 267.3 372.8 268.4 372.8 269.5 372.6 270.6 372.4 271.7 372.2 272.8 372.2 273.9 372.3 275 372.5 276.1 372.7 277.3 372.8 278.4 372.7 279.5 372.6 280.6 372.3 281.7 372.1 282.8 372 283.9 372 285 372 286.1 372.1 287.2 372.2 288.4 372.3 289.5 372.6 290.6 372.7" stroke="#17becf"/>
<path d="M181.9 371.1 183 371.1 184.1 371 185.2 370.8 186.3 370.7 187.4 370.6 188.5 370.5 189.6 370.5 190.7 370.4 191.8 370.3 192.9 370.3 194 370.4 195.1 370.5 196.2 370.7 197.3 370.8 198.4 371 199.5 371.1 200.6 371.2 201.7 371.1 202.8 371 203.9 370.8 205.1 370.6 206.2 370.5 207.3 370.5 208.4 370.6 209.5 370.8 210.6 371 211.7 371.2 212.8 371.2 213.9 371 215 370.8 216.1 370.6 217.2 370.6 218.3 370.6 219.4 370.8 220.5 371.1 221.6 371.2 222.7 371.2 223.8 371 224.9 370.7 226 370.6 227.1 370.7 228.2 370.9 229.3 371.1 230.4 371.2 231.5 371.1 232.6 370.9 233.7 370.7 234.9 370.6 236 370.8 237.1 371 238.2 371.2 239.3 371.2 240.4 371 241.5 370.8 242.6 370.7 243.7 370.7 244.8 371 245.9 371.2 247 371.2 248.1 371 249.2 370.8 250.3 370.7 251.4 370.8 252.5 371 253.6 371.2 254.7 371.2 255.8 371 256.9 370.8 258 370.7 259.1 370.8 260.2 371 261.3 371.2 262.4 371.2 263.6 371 264.7 370.8 265.8 370.6 266.9 370.7 268 370.9 269.1 371.1 270.2 371.2 271.3 371.1 272.4 370.8 273.5 370.6 274.6 370.6 275.7 370.7 276.8 370.9 277.9 371.1 279 371.2 280.1 371.1 281.2 371 282.3 370.7 283.4 370.5 284.5 370.4 285.6 370.4 286.7 370.5 287.8 370.6 288.9 370.6 290 370.7 291.1 371 292.2 371.1" stroke="#1f77b4"/>
<path d="M177.8 369.5 178.9 369.5 180 369.4 181.1 369.3 182.2 369.1 183.3 369 184.4 369 185.5 368.9 186.6 368.8 187.7 368.8 188.8 368.8 189.9 368.8 191.1 368.9 192.2 369.1 193.3 369.2 194.4 369.4 195.5 369.5 196.6 369.6 197.7 369.5 198.8 369.4 199.9 369.2 201 369 202.1 368.9 203.2 368.9 204.3 369.1 205.4 369.3 206.5 369.5 207.6 369.6 208.7 369.6 209.8 369.4 210.9 369.2 212 369 213.2 369 214.3 369.1 215.4 369.3 216.5 369.5 217.6 369.6 218.7 369.5 219.8 369.3 220.9 369.1 222 369 223.1 369.1 224.2 369.3 225.3 369.5 226.4 369.6 227.5 369.4 228.6 369.2 229.7 369.1 230.8 369.1 231.9 369.3 233 369.5 234.2 369.6 235.3 369.5 236.4 369.3 237.5 369.1 238.6 369.1 239.7 369.3 240.8 369.5 241.9 369.6 243 369.5 244.1 369.2 245.2 369.1 246.3 369.1 247.4 369.4 248.5 369.6 249.6 369.6 250.7 369.4 251.8 369.2 252.9 369.1 254 369.2 255.1 369.4 256.3 369.6 257.4 369.5 258.5 369.3 259.6 369.1 260.7 369.1 261.8 369.3 262.9 369.5 264 369.6 265.1 369.5 266.2 369.3 267.3 369.1 268.4 369.1 269.5 369.3 270.6 369.5 271.7 369.6 272.8 369.5 273.9 369.3 275 369.1 276.1 369 277.2 369.1 278.4 369.3 279.5 369.5 280.6 369.6 281.7 369.5 282.8 369.4 283.9 369.2 285 369 286.1 368.9 287.2 368.8 288.3 368.9 289.4 369 290.5 369.1 291.6 369.2 292.7 369.4 293.8 369.5" stroke="#ff7f0e"/>
<path d="M174 367.9 175.1 367.9 176.2 367.8 177.3 367.7 178.4 367.5 179.5 367.5 180.6 367.4 181.7 367.3 182.8 367.2 183.9 367.2 185 367.2 186.1 367.2 187.2 367.3 188.3 367.5 189.4 367.7 190.5 367.8 191.6 367.9 192.7 368 193.8 367.9 194.9 367.8 196 367.6 197.1 367.4 198.2 367.3 199.3 367.4 200.4 367.5 201.6 367.7 202.7 367.9 203.8 368 204.9 367.9 206 367.8 207.1 367.6 208.2 367.4 209.3 367.4 210.4 367.6 211.5 367.8 212.6 367.9 213.7 368 214.8 367.9 215.9 367.6 217 367.5 218.1 367.4 219.2 367.6 220.3 367.8 221.4 368 222.5 368 223.6 367.8 224.7 367.6 225.8 367.5 226.9 367.6 228 367.8 229.1 368 230.2 368 231.3 367.8 232.5 367.6 233.6 367.5 234.7 367.6 235.8 367.8 236.9 368 238 367.9 239.1 367.7 240.2 367.5 241.3 367.5 242.4 367.7 243.5 367.9 244.6 368 245.7 367.9 246.8 367.6 247.9 367.5 249 367.6 250.1 367.8 251.2 368 252.3 367.9 253.4 367.7 254.5 367.5 255.6 367.5 256.7 367.7 257.8 367.9 258.9 368 260 367.8 261.1 367.6 262.2 367.5 263.3 367.6 264.5 367.8 265.6 368 266.7 367.9 267.8 367.7 268.9 367.5 270 367.5 271.1 367.6 272.2 367.8 273.3 368 274.4 367.9 275.5 367.7 276.6 367.5 277.7 367.4 278.8 367.5 279.9 367.7 281 367.9 282.1 368 283.2 367.9 284.3 367.8 285.4 367.6 286.5 367.4 287.6 367.3 288.7 367.3 289.8 367.3 290.9 367.4 292 367.5 293.1 367.6 294.2 367.8 295.3 367.9" stroke="#2ca02c"/>
<path d="M170.3 366.3 171.4 366.3 172.6 366.2 173.7 366.1 174.8 365.9 175.9 365.9 177 365.8 178.1 365.7 179.2 365.7 180.3 365.6 181.4 365.6 182.5 365.7 183.6 365.8 184.8 365.9 185.9 366.1 187 366.2 188.1 366.4 189.2 366.4 190.3 366.3 191.4 366.2 192.5 366 193.6 365.8 194.7 365.7 195.8 365.8 197 366 198.1 366.2 199.2 366.3 200.3 366.4 201.4 366.3 202.5 366.1 203.6 365.9 204.7 365.8 205.8 365.9 206.9 366.1 208 366.3 209.2 366.4 210.3 366.3 211.4 366.2 212.5 365.9 213.6 365.8 214.7 365.9 215.8 366.1 216.9 366.3 218 366.4 219.1 366.3 220.2 366 221.4 365.9 222.5 365.9 223.6 366.1 224.7 366.3 225.8 366.4 226.9 366.2 228 366 229.1 365.9 230.2 366 231.3 366.2 232.4 366.4 233.6 366.4 234.7 366.2 235.8 366 236.9 365.9 238 366.1 239.1 366.3 240.2 366.4 241.3 366.2 242.4 366 243.5 365.9 244.6 366 245.8 366.3 246.9 366.4 248 366.3 249.1 366.1 250.2 365.9 251.3 366 252.4 366.2 253.5 366.4 254.6 366.3 255.7 366.1 256.8 365.9 258 366 259.1 366.2 260.2 366.4 261.3 366.4 262.4 366.2 263.5 365.9 264.6 365.9 265.7 366.1 266.8 366.3 267.9 366.4 269 366.2 270.2 366 271.3 365.9 272.4 366 273.5 366.2 274.6 366.4 275.7 366.4 276.8 366.2 277.9 366 279 365.8 280.1 365.9 281.2 366.1 282.4 366.3 283.5 366.4 284.6 366.3 285.7 366.2 286.8 366 287.9 365.8 289 365.7 290.1 365.7 291.2 365.8 292.3 365.8 293.4 365.9 294.6 366.1 295.7 366.3 296.8 366.3" stroke="#d62728"/>
<path d="M166.9 364.7 168 364.7 169.1 364.7 170.2 364.6 171.3 364.4 172.4 364.3 173.5 364.3 174.6 364.2 175.7 364.1 176.8 364.1 177.9 364 179 364.1 180.1 364.2 181.2 364.3 182.3 364.5 183.5 364.6 184.6 364.8 185.7 364.8 186.8 364.7 187.9 364.6 189 364.4 190.1 364.2 191.2 364.2 192.3 364.2 193.4 364.4 194.5 364.6 195.6 364.7 196.7 364.8 197.8 364.7 198.9 364.5 200 364.3 201.1 364.2 202.2 364.3 203.3 364.5 204.4 364.7 205.5 364.8 206.6 364.7 207.7 364.5 208.8 364.3 209.9 364.3 211 364.4 212.1 364.6 213.2 364.8 214.3 364.8 215.4 364.6 216.5 364.4 217.6 364.3 218.7 364.4 219.8 364.6 220.9 364.8 222.1 364.8 223.2 364.6 224.3 364.4 225.4 364.3 226.5 364.4 227.6 364.6 228.7 364.8 229.8 364.7 230.9 364.5 232 364.3 233.1 364.4 234.2 364.6 235.3 364.8 236.4 364.8 237.5 364.6 238.6 364.4 239.7 364.3 240.8 364.5 241.9 364.7 243 364.8 244.1 364.6 245.2 364.4 246.3 364.3 247.4 364.5 248.5 364.7 249.6 364.8 250.7 364.6 251.8 364.4 252.9 364.4 254 364.5 255.1 364.7 256.2 364.8 257.3 364.6 258.4 364.4 259.5 364.3 260.7 364.5 261.8 364.7 262.9 364.8 264 364.6 265.1 364.4 266.2 364.3 267.3 364.5 268.4 364.7 269.5 364.8 270.6 364.7 271.7 364.5 272.8 364.3 273.9 364.4 275 364.6 276.1 364.8 277.2 364.8 278.3 364.6 279.4 364.4 280.5 364.3 281.6 364.3 282.7 364.5 283.8 364.7 284.9 364.8 286 364.7 287.1 364.6 288.2 364.4 289.3 364.2 290.4 364.1 291.5 364.1 292.6 364.2 293.7 364.3 294.8 364.3 295.9 364.5 297 364.7 298.1 364.7" stroke="#9467bd"/>
<path d="M163.7 363.2 164.8 363.1 165.9 363.1 167 363 168.1 362.8 169.2 362.8 170.3 362.7 171.5 362.6 172.6 362.5 173.7 362.5 174.8 362.5 175.9 362.5 177 362.6 178.1 362.7 179.2 362.9 180.3 363.1 181.4 363.2 182.5 363.2 183.6 363.1 184.7 363 185.8 362.8 186.9 362.6 188 362.6 189.1 362.7 190.2 362.8 191.3 363 192.4 363.2 193.5 363.2 194.6 363.1 195.7 362.9 196.8 362.7 197.9 362.7 199 362.8 200.1 363 201.2 363.2 202.3 363.2 203.4 363.1 204.5 362.9 205.7 362.7 206.8 362.7 207.9 362.9 209 363.1 210.1 363.2 211.2 363.1 212.3 362.9 213.4 362.7 214.5 362.7 215.6 362.9 216.7 363.1 217.8 363.2 218.9 363.1 220 362.9 221.1 362.7 222.2 362.8 223.3 363 224.4 363.2 225.5 363.2 226.6 363 227.7 362.8 228.8 362.8 229.9 362.9 231 363.1 232.1 363.2 233.2 363 234.3 362.8 235.4 362.8 236.5 362.9 237.6 363.1 238.7 363.2 239.9 363 241 362.8 242.1 362.8 243.2 362.9 244.3 363.1 245.4 363.2 246.5 363 247.6 362.8 248.7 362.8 249.8 363 250.9 363.2 252 363.2 253.1 363 254.2 362.8 255.3 362.8 256.4 363 257.5 363.2 258.6 363.1 259.7 362.9 260.8 362.8 261.9 362.8 263 363 264.1 363.2 265.2 363.1 266.3 362.9 267.4 362.8 268.5 362.8 269.6 363 270.7 363.2 271.8 363.1 272.9 362.9 274.1 362.7 275.2 362.8 276.3 362.9 277.4 363.1 278.5 363.2 279.6 363.1 280.7 362.8 281.8 362.7 282.9 362.7 284 362.9 285.1 363.1 286.2 363.2 287.3 363.2 288.4 363 289.5 362.8 290.6 362.6 291.7 362.5 292.8 362.5 293.9 362.6 295 362.7 296.1 362.8 297.2 363 298.3 363.1 299.4 363.2" stroke="#8c564b"/>
<path d="M160.7 361.6 161.9 361.5 163 361.5 164.1 361.4 165.2 361.3 166.3 361.2 167.4 361.1 168.5 361.1 169.6 361 170.7 360.9 171.8 360.9 172.9 360.9 174 361 175.1 361.2 176.2 361.3 177.3 361.5 178.4 361.6 179.5 361.6 180.6 361.5 181.7 361.4 182.8 361.2 183.9 361 185 361 186.1 361.1 187.2 361.3 188.3 361.5 189.4 361.6 190.5 361.6 191.6 361.4 192.7 361.2 193.8 361.1 194.9 361.1 196 361.2 197.1 361.5 198.2 361.6 199.3 361.6 200.4 361.4 201.5 361.2 202.6 361.1 203.7 361.2 204.8 361.4 205.9 361.6 207 361.6 208.1 361.5 209.2 361.2 210.3 361.1 211.4 361.2 212.5 361.4 213.6 361.6 214.7 361.6 215.8 361.4 217 361.2 218.1 361.1 219.2 361.3 220.3 361.5 221.4 361.6 222.5 361.5 223.6 361.3 224.7 361.2 225.8 361.3 226.9 361.5 228 361.6 229.1 361.5 230.2 361.3 231.3 361.2 232.4 361.3 233.5 361.5 234.6 361.6 235.7 361.5 236.8 361.3 237.9 361.2 239 361.3 240.1 361.5 241.2 361.6 242.3 361.4 243.4 361.2 244.5 361.2 245.6 361.4 246.7 361.6 247.8 361.6 248.9 361.4 250 361.2 251.1 361.2 252.2 361.5 253.3 361.6 254.4 361.5 255.5 361.3 256.6 361.2 257.7 361.3 258.8 361.5 259.9 361.6 261 361.4 262.1 361.2 263.2 361.2 264.3 361.4 265.4 361.6 266.5 361.6 267.6 361.4 268.7 361.2 269.8 361.2 270.9 361.4 272 361.6 273.2 361.6 274.3 361.4 275.4 361.2 276.5 361.2 277.6 361.3 278.7 361.5 279.8 361.6 280.9 361.5 282 361.3 283.1 361.1 284.2 361.1 285.3 361.3 286.4 361.5 287.5 361.6 288.6 361.6 289.7 361.4 290.8 361.2 291.9 361 293 361 294.1 361 295.2 361 296.3 361.1 297.4 361.2 298.5 361.4 299.6 361.5 300.7 361.6" stroke="#e377c2"/>
<path d="M158 360 159.1 360 160.2 359.9 161.3 359.9 162.4 359.7 163.5 359.6 164.6 359.6 165.8 359.5 166.9 359.4 168 359.3 169.1 359.3 170.2 359.4 171.3 359.5 172.4 359.6 173.5 359.8 174.6 359.9 175.7 360 176.8 360 177.9 359.9 179 359.7 180.1 359.6 181.2 359.5 182.4 359.5 183.5 359.6 184.6 359.8 185.7 360 186.8 360 187.9 359.9 189 359.7 190.1 359.6 191.2 359.5 192.3 359.6 193.4 359.8 194.5 360 195.6 360 196.7 359.9 197.8 359.7 198.9 359.5 200.1 359.6 201.2 359.7 202.3 359.9 203.4 360 204.5 359.9 205.6 359.7 206.7 359.6 207.8 359.6 208.9 359.8 210 360 211.1 360 212.2 359.8 213.3 359.6 214.4 359.6 215.5 359.7 216.7 359.9 217.8 360 218.9 359.9 220 359.7 221.1 359.6 222.2 359.7 223.3 359.9 224.4 360 225.5 359.9 226.6 359.7 227.7 359.6 228.8 359.7 229.9 359.9 231 360 232.1 359.9 233.3 359.7 234.4 359.6 235.5 359.8 236.6 360 237.7 360 238.8 359.8 239.9 359.6 241 359.7 242.1 359.9 243.2 360 244.3 359.9 245.4 359.7 246.5 359.6 247.6 359.8 248.7 360 249.9 360 251 359.8 252.1 359.6 253.2 359.7 254.3 359.9 255.4 360 256.5 359.9 257.6 359.7 258.7 359.6 259.8 359.8 260.9 360 262 360 263.1 359.8 264.2 359.6 265.3 359.7 266.5 359.9 267.6 360 268.7 359.9 269.8 359.7 270.9 359.6 272 359.7 273.1 359.9 274.2 360 275.3 359.9 276.4 359.7 277.5 359.6 278.6 359.7 279.7 359.9 280.8 360 281.9 359.9 283.1 359.7 284.2 359.6 285.3 359.5 286.4 359.7 287.5 359.9 288.6 360 289.7 360 290.8 359.8 291.9 359.6 293 359.5 294.1 359.4 295.2 359.4 296.3 359.5 297.4 359.6 298.5 359.6 299.6 359.8 300.8 359.9 301.9 360" stroke="#7f7f7f"/>
<path d="M155.4 358.4 156.5 358.4 157.6 358.3 158.7 358.3 159.8 358.2 160.9 358 162 358 163.1 357.9 164.2 357.8 165.3 357.8 166.4 357.8 167.5 357.8 168.6 357.9 169.7 358 170.8 358.2 171.9 358.3 173 358.4 174.1 358.4 175.2 358.3 176.3 358.1 177.4 358 178.5 357.9 179.6 357.9 180.7 358.1 181.8 358.2 182.9 358.4 184 358.4 185.1 358.3 186.2 358.1 187.3 358 188.4 357.9 189.6 358 190.7 358.3 191.8 358.4 192.9 358.4 194 358.3 195.1 358.1 196.2 357.9 197.3 358 198.4 358.2 199.5 358.4 200.6 358.4 201.7 358.3 202.8 358.1 203.9 358 205 358.1 206.1 358.3 207.2 358.4 208.3 358.4 209.4 358.2 210.5 358 211.6 358 212.7 358.2 213.8 358.4 214.9 358.4 216 358.2 217.1 358 218.2 358 219.3 358.2 220.4 358.4 221.5 358.4 222.6 358.2 223.7 358 224.8 358.1 225.9 358.3 227 358.4 228.1 358.4 229.2 358.1 230.3 358 231.4 358.1 232.5 358.3 233.6 358.4 234.7 358.3 235.8 358.1 236.9 358 238 358.2 239.1 358.4 240.2 358.4 241.3 358.2 242.4 358 243.5 358.1 244.6 358.4 245.7 358.4 246.8 358.3 247.9 358.1 249 358.1 250.1 358.3 251.2 358.4 252.3 358.3 253.4 358.1 254.5 358 255.6 358.2 256.7 358.4 257.8 358.4 258.9 358.2 260 358 261.1 358.1 262.2 358.4 263.3 358.4 264.4 358.3 265.5 358.1 266.6 358.1 267.7 358.2 268.8 358.4 269.9 358.4 271 358.2 272.1 358 273.2 358.1 274.3 358.3 275.4 358.4 276.5 358.3 277.6 358.1 278.7 358 279.8 358.1 281 358.3 282.1 358.4 283.2 358.4 284.3 358.2 285.4 358 286.5 358 287.6 358.1 288.7 358.3 289.8 358.4 290.9 358.4 292 358.3 293.1 358.1 294.2 357.9 295.3 357.8 296.4 357.8 297.5 357.9 298.6 358 299.7 358 300.8 358.3 301.9 358.4 303 358.4" stroke="#bcbd22"/>
<path d="M153 356.8 154.1 356.8 155.2 356.8 156.3 356.7 157.4 356.6 158.5 356.5 159.6 356.4 160.7 356.3 161.8 356.3 162.9 356.2 164 356.2 165.1 356.2 166.2 356.3 167.3 356.5 168.5 356.6 169.6 356.8 170.7 356.9 171.8 356.8 172.9 356.7 174 356.5 175.1 356.4 176.2 356.3 177.3 356.4 178.4 356.5 179.5 356.7 180.6 356.8 181.7 356.8 182.8 356.7 183.9 356.5 185 356.3 186.1 356.4 187.2 356.6 188.3 356.8 189.4 356.9 190.5 356.8 191.6 356.6 192.7 356.4 193.8 356.4 194.9 356.5 196 356.8 197.1 356.9 198.2 356.8 199.3 356.5 200.4 356.4 201.5 356.4 202.6 356.6 203.7 356.8 204.8 356.8 205.9 356.6 207 356.5 208.1 356.4 209.2 356.6 210.3 356.8 211.4 356.8 212.5 356.7 213.6 356.5 214.7 356.4 215.9 356.6 217 356.8 218.1 356.8 219.2 356.6 220.3 356.5 221.4 356.5 222.5 356.7 223.6 356.8 224.7 356.8 225.8 356.6 226.9 356.4 228 356.6 229.1 356.8 230.2 356.8 231.3 356.7 232.4 356.5 233.5 356.5 234.6 356.7 235.7 356.8 236.8 356.8 237.9 356.5 239 356.5 240.1 356.6 241.2 356.8 242.3 356.8 243.4 356.6 244.5 356.5 245.6 356.6 246.7 356.8 247.8 356.8 248.9 356.7 250 356.5 251.1 356.5 252.2 356.8 253.3 356.9 254.4 356.7 255.5 356.5 256.6 356.5 257.7 356.7 258.8 356.9 259.9 356.7 261 356.5 262.1 356.5 263.3 356.7 264.4 356.8 265.5 356.8 266.6 356.6 267.7 356.4 268.8 356.6 269.9 356.8 271 356.8 272.1 356.7 273.2 356.5 274.3 356.5 275.4 356.7 276.5 356.8 277.6 356.8 278.7 356.6 279.8 356.4 280.9 356.5 282 356.7 283.1 356.8 284.2 356.8 285.3 356.6 286.4 356.4 287.5 356.4 288.6 356.5 289.7 356.7 290.8 356.8 291.9 356.8 293 356.7 294.1 356.5 295.2 356.3 296.3 356.2 297.4 356.3 298.5 356.3 299.6 356.4 300.7 356.5 301.8 356.7 302.9 356.8 304 356.8" stroke="#17becf"/>
<path d="M150.7 355.2 151.8 355.2 152.9 355.2 154 355.1 155.1 355 156.2 354.9 157.3 354.9 158.4 354.8 159.5 354.7 160.6 354.6 161.7 354.6 162.9 354.7 164 354.8 165.1 354.9 166.2 355.1 167.3 355.2 168.4 355.3 169.5 355.2 170.6 355.1 171.7 354.9 172.8 354.8 173.9 354.7 175 354.8 176.1 355 177.2 355.2 178.3 355.3 179.4 355.2 180.5 355 181.6 354.8 182.7 354.8 183.8 354.9 184.9 355.1 186 355.2 187.1 355.3 188.2 355.1 189.3 354.9 190.4 354.8 191.5 354.9 192.6 355.1 193.7 355.3 194.8 355.2 195.9 355.1 197 354.9 198.1 354.8 199.2 355 200.3 355.2 201.4 355.3 202.5 355.1 203.6 354.9 204.7 354.8 205.8 355 206.9 355.2 208 355.3 209.1 355.2 210.3 354.9 211.4 354.9 212.5 355 213.6 355.2 214.7 355.3 215.8 355.1 216.9 354.9 218 354.9 219.1 355.1 220.2 355.3 221.3 355.2 222.4 355 223.5 354.9 224.6 355 225.7 355.2 226.8 355.3 227.9 355.1 229 354.9 230.1 354.9 231.2 355.1 232.3 355.3 233.4 355.2 234.5 354.9 235.6 354.9 236.7 355.1 237.8 355.3 238.9 355.2 240 355 241.1 354.9 242.2 355 243.3 355.2 244.4 355.2 245.5 355 246.6 354.9 247.7 355 248.8 355.2 249.9 355.2 251 355 252.1 354.9 253.2 355 254.3 355.2 255.4 355.2 256.5 355 257.7 354.9 258.8 355 259.9 355.2 261 355.3 262.1 355.1 263.2 354.9 264.3 355 265.4 355.2 266.5 355.3 267.6 355.1 268.7 354.9 269.8 354.9 270.9 355.1 272 355.3 273.1 355.2 274.2 354.9 275.3 354.9 276.4 355 277.5 355.2 278.6 355.3 279.7 355.1 280.8 354.9 281.9 354.9 283 355.1 284.1 355.2 285.2 355.3 286.3 355.1 287.4 354.9 288.5 354.8 289.6 354.9 290.7 355.1 291.8 355.3 292.9 355.3 294 355.1 295.1 354.9 296.2 354.8 297.3 354.7 298.4 354.7 299.5 354.8 300.6 354.8 301.7 354.9 302.8 355.1 303.9 355.2 305 355.2" stroke="#1f77b4"/>
<path d="M148.5 353.7 149.6 353.7 150.7 353.6 151.8 353.6 152.9 353.5 154 353.3 155.1 353.3 156.2 353.2 157.3 353.1 158.4 353.1 159.5 353.1 160.6 353.1 161.8 353.2 162.9 353.3 164 353.5 165.1 353.6 166.2 353.7 167.3 353.6 168.4 353.5 169.5 353.3 170.6 353.2 171.7 353.2 172.8 353.3 173.9 353.5 175 353.6 176.1 353.7 177.2 353.6 178.3 353.4 179.4 353.2 180.5 353.2 181.6 353.4 182.7 353.6 183.8 353.7 184.9 353.6 186 353.5 187.1 353.3 188.2 353.2 189.3 353.4 190.4 353.6 191.5 353.7 192.6 353.6 193.7 353.4 194.8 353.2 195.9 353.3 197 353.5 198.1 353.7 199.2 353.6 200.3 353.4 201.4 353.3 202.5 353.3 203.6 353.5 204.7 353.7 205.8 353.6 206.9 353.4 208 353.3 209.1 353.4 210.2 353.6 211.3 353.7 212.4 353.6 213.5 353.4 214.6 353.3 215.7 353.5 216.8 353.7 217.9 353.7 219 353.5 220.1 353.3 221.2 353.4 222.3 353.6 223.4 353.7 224.5 353.6 225.6 353.3 226.7 353.3 227.8 353.5 228.9 353.7 230.1 353.6 231.2 353.4 232.3 353.3 233.4 353.5 234.5 353.7 235.6 353.6 236.7 353.4 237.8 353.3 238.9 353.5 240 353.7 241.1 353.6 242.2 353.4 243.3 353.3 244.4 353.5 245.5 353.7 246.6 353.6 247.7 353.4 248.8 353.3 249.9 353.5 251 353.7 252.1 353.6 253.2 353.4 254.3 353.3 255.4 353.5 256.5 353.7 257.6 353.6 258.7 353.4 259.8 353.3 260.9 353.5 262 353.7 263.1 353.6 264.2 353.4 265.3 353.3 266.4 353.5 267.5 353.7 268.6 353.6 269.7 353.4 270.8 353.3 271.9 353.5 273 353.7 274.1 353.6 275.2 353.4 276.3 353.3 277.4 353.4 278.5 353.6 279.6 353.7 280.7 353.5 281.8 353.3 282.9 353.3 284 353.4 285.1 353.6 286.2 353.7 287.3 353.5 288.4 353.3 289.5 353.2 290.6 353.3 291.7 353.5 292.8 353.7 293.9 353.7 295 353.5 296.1 353.3 297.2 353.2 298.4 353.1 299.5 353.1 300.6 353.2 301.7 353.3 302.8 353.3 303.9 353.5 305 353.6 306.1 353.7" stroke="#ff7f0e"/>
<path d="M146.5 352.1 147.6 352.1 148.7 352.1 149.8 352 150.9 351.9 152 351.8 153.1 351.7 154.2 351.6 155.3 351.6 156.5 351.5 157.6 351.5 158.7 351.5 159.8 351.6 160.9 351.8 162 352 163.1 352.1 164.2 352.1 165.3 352 166.4 351.9 167.5 351.7 168.6 351.6 169.7 351.6 170.8 351.8 172 352 173.1 352.1 174.2 352.1 175.3 351.9 176.4 351.7 177.5 351.6 178.6 351.7 179.7 351.9 180.8 352.1 181.9 352.1 183 352 184.1 351.8 185.2 351.7 186.3 351.8 187.5 352 188.6 352.1 189.7 352.1 190.8 351.9 191.9 351.7 193 351.7 194.1 351.9 195.2 352.1 196.3 352.1 197.4 351.9 198.5 351.7 199.6 351.7 200.7 351.9 201.8 352.1 203 352.1 204.1 351.8 205.2 351.7 206.3 351.8 207.4 352 208.5 352.1 209.6 352 210.7 351.8 211.8 351.7 212.9 351.9 214 352.1 215.1 352.1 216.2 351.8 217.3 351.7 218.5 351.8 219.6 352.1 220.7 352.1 221.8 351.9 222.9 351.7 224 351.8 225.1 352 226.2 352.1 227.3 351.9 228.4 351.7 229.5 351.8 230.6 352 231.7 352.1 232.8 351.9 234 351.7 235.1 351.8 236.2 352 237.3 352.1 238.4 351.9 239.5 351.7 240.6 351.8 241.7 352.1 242.8 352.1 243.9 351.9 245 351.7 246.1 351.9 247.2 352.1 248.3 352.1 249.5 351.8 250.6 351.8 251.7 351.9 252.8 352.1 253.9 352 255 351.8 256.1 351.8 257.2 352 258.3 352.1 259.4 352 260.5 351.8 261.6 351.8 262.7 352 263.8 352.1 265 351.9 266.1 351.8 267.2 351.8 268.3 352 269.4 352.1 270.5 351.9 271.6 351.7 272.7 351.8 273.8 352 274.9 352.1 276 352 277.1 351.7 278.2 351.8 279.3 352 280.5 352.1 281.6 352 282.7 351.8 283.8 351.7 284.9 351.8 286 352 287.1 352.1 288.2 352 289.3 351.8 290.4 351.7 291.5 351.7 292.6 351.9 293.7 352.1 294.8 352.1 296 352 297.1 351.8 298.2 351.6 299.3 351.5 300.4 351.6 301.5 351.6 302.6 351.7 303.7 351.8 304.8 352 305.9 352.1 307 352.1" stroke="#2ca02c"/>
<path d="M144.5 350.5 145.6 350.5 146.7 350.5 147.8 350.4 148.9 350.4 150 350.2 151.1 350.2 152.2 350.1 153.3 350 154.4 349.9 155.5 349.9 156.6 350 157.7 350.1 158.9 350.2 160 350.4 161.1 350.5 162.2 350.5 163.3 350.5 164.4 350.3 165.5 350.1 166.6 350 167.7 350.1 168.8 350.2 169.9 350.4 171 350.5 172.1 350.5 173.2 350.3 174.3 350.1 175.4 350.1 176.5 350.2 177.6 350.4 178.7 350.5 179.8 350.5 180.9 350.3 182.1 350.1 183.2 350.1 184.3 350.3 185.4 350.5 186.5 350.5 187.6 350.4 188.7 350.2 189.8 350.1 190.9 350.2 192 350.4 193.1 350.5 194.2 350.4 195.3 350.2 196.4 350.1 197.5 350.3 198.6 350.5 199.7 350.5 200.8 350.4 201.9 350.2 203 350.2 204.1 350.4 205.3 350.5 206.4 350.5 207.5 350.3 208.6 350.1 209.7 350.3 210.8 350.5 211.9 350.5 213 350.3 214.1 350.2 215.2 350.2 216.3 350.4 217.4 350.5 218.5 350.4 219.6 350.2 220.7 350.2 221.8 350.4 222.9 350.5 224 350.4 225.1 350.2 226.2 350.2 227.3 350.4 228.4 350.5 229.6 350.4 230.7 350.2 231.8 350.2 232.9 350.5 234 350.5 235.1 350.4 236.2 350.2 237.3 350.3 238.4 350.5 239.5 350.5 240.6 350.3 241.7 350.2 242.8 350.3 243.9 350.5 245 350.5 246.1 350.3 247.2 350.2 248.3 350.4 249.4 350.5 250.5 350.4 251.6 350.2 252.8 350.2 253.9 350.5 255 350.5 256.1 350.3 257.2 350.2 258.3 350.3 259.4 350.5 260.5 350.5 261.6 350.3 262.7 350.2 263.8 350.4 264.9 350.5 266 350.5 267.1 350.2 268.2 350.2 269.3 350.4 270.4 350.5 271.5 350.4 272.6 350.2 273.7 350.2 274.8 350.4 276 350.5 277.1 350.4 278.2 350.2 279.3 350.2 280.4 350.4 281.5 350.5 282.6 350.5 283.7 350.3 284.8 350.1 285.9 350.2 287 350.4 288.1 350.5 289.2 350.4 290.3 350.2 291.4 350.1 292.5 350.2 293.6 350.4 294.7 350.5 295.8 350.5 296.9 350.4 298 350.2 299.1 350 300.3 350 301.4 350 302.5 350.1 303.6 350.2 304.7 350.2 305.8 350.4 306.9 350.5 308 350.5" stroke="#d62728"/>
<path d="M142.6 349 143.8 348.9 144.9 348.9 146 348.9 147.1 348.8 148.2 348.7 149.3 348.6 150.4 348.5 151.5 348.4 152.6 348.4 153.7 348.4 154.8 348.4 155.9 348.5 157 348.7 158.1 348.8 159.2 349 160.3 349 161.4 348.9 162.5 348.7 163.6 348.5 164.7 348.5 165.8 348.5 166.9 348.7 168 348.9 169.1 349 170.2 348.9 171.3 348.7 172.4 348.5 173.5 348.5 174.6 348.7 175.7 348.9 176.8 349 177.9 348.9 179 348.7 180.1 348.5 181.2 348.6 182.3 348.8 183.4 349 184.5 349 185.6 348.8 186.7 348.6 187.8 348.6 188.9 348.8 190 348.9 191.1 348.9 192.2 348.8 193.3 348.6 194.4 348.6 195.5 348.8 196.6 349 197.7 348.9 198.8 348.7 199.9 348.6 201 348.7 202.1 348.9 203.2 349 204.3 348.8 205.4 348.6 206.5 348.6 207.6 348.8 208.7 349 209.8 348.9 210.9 348.6 212 348.6 213.1 348.8 214.2 349 215.3 348.9 216.4 348.7 217.5 348.6 218.6 348.8 219.7 349 220.8 348.9 221.9 348.7 223 348.6 224.1 348.8 225.2 349 226.3 348.9 227.4 348.6 228.5 348.6 229.6 348.9 230.7 349 231.8 348.8 232.9 348.6 234 348.7 235.1 348.9 236.2 349 237.3 348.8 238.4 348.6 239.5 348.7 240.6 349 241.7 348.9 242.8 348.7 243.9 348.6 245 348.8 246.1 349 247.2 348.8 248.3 348.6 249.4 348.7 250.5 348.9 251.6 349 252.7 348.7 253.9 348.6 255 348.8 256.1 349 257.2 348.9 258.3 348.7 259.4 348.7 260.5 348.9 261.6 349 262.7 348.8 263.8 348.6 264.9 348.7 266 348.9 267.1 348.9 268.2 348.7 269.3 348.6 270.4 348.8 271.5 349 272.6 348.9 273.7 348.7 274.8 348.6 275.9 348.8 277 349 278.1 348.9 279.2 348.7 280.3 348.6 281.4 348.8 282.5 349 283.6 348.9 284.7 348.7 285.8 348.6 286.9 348.6 288 348.9 289.1 349 290.2 348.9 291.3 348.7 292.4 348.5 293.5 348.6 294.6 348.8 295.7 348.9 296.8 349 297.9 348.8 299 348.6 300.1 348.5 301.2 348.4 302.3 348.4 303.4 348.5 304.5 348.6 305.6 348.7 306.7 348.9 307.8 348.9 308.9 349" stroke="#9467bd"/>
<path d="M140.9 347.4 142 347.4 143.1 347.4 144.2 347.3 145.3 347.2 146.4 347.1 147.5 347 148.6 347 149.7 346.9 150.8 346.8 151.9 346.8 153 346.8 154.1 347 155.2 347.1 156.3 347.3 157.4 347.4 158.5 347.4 159.6 347.3 160.7 347.1 161.8 346.9 162.9 346.9 164 347 165.1 347.2 166.2 347.4 167.4 347.4 168.5 347.3 169.6 347.1 170.7 346.9 171.8 347 172.9 347.2 174 347.4 175.1 347.4 176.2 347.2 177.3 347 178.4 347 179.5 347.1 180.6 347.3 181.7 347.4 182.8 347.3 183.9 347.1 185 347 186.1 347.1 187.2 347.3 188.3 347.4 189.4 347.3 190.5 347 191.6 347 192.7 347.2 193.8 347.4 195 347.4 196.1 347.2 197.2 347 198.3 347.1 199.4 347.3 200.5 347.4 201.6 347.3 202.7 347 203.8 347.1 204.9 347.3 206 347.4 207.1 347.3 208.2 347.1 209.3 347 210.4 347.2 211.5 347.4 212.6 347.3 213.7 347.1 214.8 347 215.9 347.3 217 347.4 218.1 347.3 219.2 347.1 220.3 347.1 221.4 347.3 222.5 347.4 223.7 347.3 224.8 347.1 225.9 347.1 227 347.3 228.1 347.4 229.2 347.2 230.3 347 231.4 347.2 232.5 347.4 233.6 347.3 234.7 347.1 235.8 347.1 236.9 347.3 238 347.4 239.1 347.2 240.2 347.1 241.3 347.2 242.4 347.4 243.5 347.4 244.6 347.1 245.7 347.1 246.8 347.3 247.9 347.4 249 347.3 250.1 347.1 251.3 347.1 252.4 347.4 253.5 347.4 254.6 347.1 255.7 347.1 256.8 347.3 257.9 347.4 259 347.3 260.1 347.1 261.2 347.1 262.3 347.4 263.4 347.4 264.5 347.1 265.6 347.1 266.7 347.2 267.8 347.4 268.9 347.3 270 347.1 271.1 347.1 272.2 347.3 273.3 347.4 274.4 347.2 275.5 347 276.6 347.1 277.7 347.4 278.9 347.4 280 347.2 281.1 347 282.2 347.1 283.3 347.3 284.4 347.4 285.5 347.2 286.6 347 287.7 347 288.8 347.3 289.9 347.4 291 347.3 292.1 347.1 293.2 347 294.3 347 295.4 347.2 296.5 347.4 297.6 347.4 298.7 347.3 299.8 347.1 300.9 346.9 302 346.8 303.1 346.9 304.2 346.9 305.3 347 306.5 347.1 307.6 347.3 308.7 347.4 309.8 347.4" stroke="#8c564b"/>
<path d="M139.1 345.8 140.2 345.8 141.3 345.8 142.4 345.8 143.5 345.7 144.6 345.6 145.8 345.5 146.9 345.4 148 345.3 149.1 345.3 150.2 345.2 151.3 345.3 152.4 345.4 153.5 345.6 154.6 345.7 155.7 345.8 156.8 345.8 157.9 345.7 159 345.5 160.1 345.4 161.2 345.3 162.3 345.5 163.5 345.7 164.6 345.8 165.7 345.8 166.8 345.7 167.9 345.5 169 345.4 170.1 345.5 171.2 345.7 172.3 345.8 173.4 345.8 174.5 345.6 175.6 345.4 176.7 345.4 177.8 345.6 178.9 345.8 180.1 345.8 181.2 345.6 182.3 345.4 183.4 345.5 184.5 345.7 185.6 345.8 186.7 345.8 187.8 345.6 188.9 345.4 190 345.5 191.1 345.8 192.2 345.8 193.3 345.7 194.4 345.5 195.5 345.5 196.7 345.7 197.8 345.8 198.9 345.7 200 345.5 201.1 345.5 202.2 345.7 203.3 345.8 204.4 345.8 205.5 345.5 206.6 345.5 207.7 345.7 208.8 345.8 209.9 345.7 211 345.5 212.1 345.5 213.3 345.7 214.4 345.8 215.5 345.7 216.6 345.5 217.7 345.5 218.8 345.7 219.9 345.8 221 345.7 222.1 345.5 223.2 345.6 224.3 345.8 225.4 345.8 226.5 345.6 227.6 345.5 228.7 345.7 229.8 345.8 231 345.7 232.1 345.5 233.2 345.6 234.3 345.8 235.4 345.8 236.5 345.6 237.6 345.5 238.7 345.7 239.8 345.8 240.9 345.7 242 345.5 243.1 345.6 244.2 345.8 245.3 345.8 246.4 345.6 247.6 345.5 248.7 345.7 249.8 345.8 250.9 345.7 252 345.5 253.1 345.6 254.2 345.8 255.3 345.8 256.4 345.5 257.5 345.5 258.6 345.8 259.7 345.8 260.8 345.6 261.9 345.5 263 345.7 264.2 345.8 265.3 345.7 266.4 345.5 267.5 345.6 268.6 345.8 269.7 345.8 270.8 345.6 271.9 345.5 273 345.7 274.1 345.8 275.2 345.7 276.3 345.5 277.4 345.5 278.5 345.7 279.6 345.8 280.7 345.7 281.9 345.5 283 345.5 284.1 345.7 285.2 345.8 286.3 345.7 287.4 345.5 288.5 345.5 289.6 345.6 290.7 345.8 291.8 345.8 292.9 345.6 294 345.4 295.1 345.4 296.2 345.6 297.3 345.8 298.5 345.8 299.6 345.7 300.7 345.5 301.8 345.4 302.9 345.3 304 345.3 305.1 345.4 306.2 345.5 307.3 345.6 308.4 345.7 309.5 345.8 310.6 345.8" stroke="#e377c2"/>
<path d="M137.5 344.3 138.6 344.3 139.7 344.2 140.8 344.2 141.9 344.1 143 344 144.1 343.9 145.2 343.9 146.3 343.8 147.4 343.7 148.5 343.7 149.6 343.7 150.7 343.8 151.8 344 152.9 344.2 154 344.3 155.1 344.3 156.2 344.1 157.3 343.9 158.4 343.8 159.5 343.8 160.6 343.9 161.7 344.1 162.8 344.3 163.9 344.2 165 344.1 166.1 343.9 167.2 343.8 168.3 344 169.4 344.2 170.5 344.3 171.6 344.2 172.7 344 173.8 343.8 174.9 343.9 176 344.1 177.1 344.3 178.2 344.2 179.3 344 180.4 343.9 181.5 344 182.6 344.2 183.7 344.3 184.8 344.1 185.9 343.9 187 343.9 188.1 344.1 189.2 344.3 190.3 344.2 191.4 344 192.5 343.9 193.6 344 194.7 344.2 195.8 344.3 196.9 344.1 198 343.9 199.1 344 200.2 344.2 201.3 344.3 202.5 344.1 203.6 343.9 204.7 344 205.8 344.2 206.9 344.3 208 344.1 209.1 343.9 210.2 344 211.3 344.2 212.4 344.2 213.5 344 214.6 343.9 215.7 344.1 216.8 344.3 217.9 344.2 219 344 220.1 344 221.2 344.2 222.3 344.3 223.4 344.1 224.5 343.9 225.6 344 226.7 344.3 227.8 344.2 228.9 344 230 344 231.1 344.2 232.2 344.3 233.3 344.1 234.4 343.9 235.5 344.1 236.6 344.3 237.7 344.2 238.8 344 239.9 344 241 344.2 242.1 344.3 243.2 344 244.3 343.9 245.4 344.1 246.5 344.3 247.6 344.1 248.7 343.9 249.8 344.1 250.9 344.3 252 344.2 253.1 344 254.2 344 255.3 344.2 256.4 344.3 257.5 344 258.6 343.9 259.7 344.1 260.8 344.3 261.9 344.1 263 343.9 264.1 344 265.2 344.3 266.3 344.2 267.4 344 268.5 344 269.6 344.2 270.7 344.3 271.8 344.1 272.9 343.9 274 344.1 275.1 344.3 276.2 344.2 277.3 344 278.4 343.9 279.5 344.1 280.6 344.3 281.8 344.1 282.9 343.9 284 343.9 285.1 344.2 286.2 344.3 287.3 344.1 288.4 343.9 289.5 343.9 290.6 344.1 291.7 344.3 292.8 344.2 293.9 344 295 343.9 296.1 343.9 297.2 344.1 298.3 344.2 299.4 344.3 300.5 344.2 301.6 344 302.7 343.8 303.8 343.7 304.9 343.8 306 343.8 307.1 343.9 308.2 344 309.3 344.2 310.4 344.2 311.5 344.3" stroke="#7f7f7f"/>
<path d="M135.9 342.7 137 342.7 138.1 342.7 139.2 342.6 140.3 342.6 141.4 342.5 142.5 342.4 143.6 342.3 144.7 342.2 145.8 342.2 146.9 342.1 148 342.2 149.1 342.3 150.2 342.4 151.3 342.6 152.4 342.7 153.5 342.7 154.6 342.6 155.7 342.4 156.8 342.2 157.9 342.3 159 342.4 160.1 342.6 161.2 342.7 162.3 342.7 163.4 342.5 164.5 342.3 165.6 342.3 166.7 342.5 167.9 342.7 169 342.7 170.1 342.6 171.2 342.4 172.3 342.3 173.4 342.4 174.5 342.7 175.6 342.7 176.7 342.6 177.8 342.4 178.9 342.3 180 342.5 181.1 342.7 182.2 342.7 183.3 342.5 184.4 342.3 185.5 342.4 186.6 342.6 187.7 342.7 188.8 342.5 189.9 342.3 191 342.4 192.1 342.6 193.2 342.7 194.3 342.6 195.4 342.4 196.5 342.4 197.6 342.6 198.7 342.7 199.8 342.6 200.9 342.4 202 342.4 203.1 342.6 204.2 342.7 205.3 342.5 206.4 342.4 207.5 342.4 208.7 342.7 209.8 342.7 210.9 342.5 212 342.4 213.1 342.5 214.2 342.7 215.3 342.6 216.4 342.4 217.5 342.4 218.6 342.6 219.7 342.7 220.8 342.5 221.9 342.4 223 342.5 224.1 342.7 225.2 342.6 226.3 342.4 227.4 342.4 228.5 342.6 229.6 342.7 230.7 342.5 231.8 342.4 232.9 342.6 234 342.7 235.1 342.6 236.2 342.4 237.3 342.5 238.4 342.7 239.5 342.6 240.6 342.4 241.7 342.4 242.8 342.7 243.9 342.7 245 342.5 246.1 342.4 247.2 342.6 248.3 342.7 249.4 342.5 250.6 342.4 251.7 342.6 252.8 342.7 253.9 342.6 255 342.4 256.1 342.5 257.2 342.7 258.3 342.6 259.4 342.4 260.5 342.4 261.6 342.7 262.7 342.7 263.8 342.5 264.9 342.4 266 342.6 267.1 342.7 268.2 342.5 269.3 342.4 270.4 342.5 271.5 342.7 272.6 342.6 273.7 342.4 274.8 342.4 275.9 342.7 277 342.7 278.1 342.5 279.2 342.4 280.3 342.5 281.4 342.7 282.5 342.6 283.6 342.4 284.7 342.4 285.8 342.5 286.9 342.7 288 342.6 289.1 342.4 290.2 342.3 291.3 342.5 292.5 342.7 293.6 342.7 294.7 342.5 295.8 342.3 296.9 342.3 298 342.5 299.1 342.7 300.2 342.7 301.3 342.6 302.4 342.4 303.5 342.2 304.6 342.2 305.7 342.2 306.8 342.3 307.9 342.4 309 342.5 310.1 342.6 311.2 342.7 312.3 342.7" stroke="#bcbd22"/>
<path d="M134.4 341.1 135.5 341.1 136.6 341.1 137.7 341.1 138.8 341 139.9 340.9 141 340.8 142.1 340.8 143.2 340.7 144.3 340.6 145.4 340.6 146.5 340.6 147.6 340.7 148.7 340.9 149.8 341.1 150.9 341.2 152 341.1 153.1 341 154.2 340.8 155.3 340.7 156.4 340.7 157.6 340.9 158.7 341.1 159.8 341.2 160.9 341.1 162 340.9 163.1 340.7 164.2 340.8 165.3 341 166.4 341.1 167.5 341.1 168.6 340.9 169.7 340.8 170.8 340.8 171.9 341 173 341.1 174.1 341.1 175.2 340.9 176.3 340.8 177.4 340.8 178.5 341.1 179.6 341.2 180.7 341 181.8 340.8 182.9 340.8 184 341 185.1 341.2 186.2 341.1 187.3 340.8 188.4 340.8 189.5 341 190.6 341.1 191.8 341.1 192.9 340.9 194 340.8 195.1 341 196.2 341.2 197.3 341.1 198.4 340.8 199.5 340.8 200.6 341 201.7 341.2 202.8 341 203.9 340.8 205 340.9 206.1 341.1 207.2 341.1 208.3 340.9 209.4 340.8 210.5 340.9 211.6 341.1 212.7 341.1 213.8 340.8 214.9 340.8 216 341.1 217.1 341.1 218.2 340.9 219.3 340.8 220.4 341 221.5 341.2 222.6 341 223.7 340.8 224.9 340.9 226 341.1 227.1 341.1 228.2 340.9 229.3 340.8 230.4 341.1 231.5 341.2 232.6 341 233.7 340.8 234.8 341 235.9 341.2 237 341 238.1 340.8 239.2 340.9 240.3 341.1 241.4 341.1 242.5 340.8 243.6 340.9 244.7 341.1 245.8 341.1 246.9 340.9 248 340.9 249.1 341.1 250.2 341.1 251.3 340.9 252.4 340.8 253.5 341.1 254.6 341.1 255.7 340.9 256.8 340.8 257.9 341 259.1 341.2 260.2 341 261.3 340.8 262.4 341 263.5 341.2 264.6 341 265.7 340.8 266.8 340.9 267.9 341.1 269 341.1 270.1 340.8 271.2 340.9 272.3 341.1 273.4 341.1 274.5 340.9 275.6 340.8 276.7 341 277.8 341.2 278.9 341 280 340.8 281.1 340.9 282.2 341.1 283.3 341.1 284.4 340.9 285.5 340.8 286.6 340.9 287.7 341.1 288.8 341.1 289.9 340.9 291 340.8 292.2 340.9 293.3 341.1 294.4 341.1 295.5 341 296.6 340.8 297.7 340.7 298.8 340.9 299.9 341.1 301 341.2 302.1 341 303.2 340.8 304.3 340.7 305.4 340.6 306.5 340.6 307.6 340.7 308.7 340.8 309.8 340.9 310.9 341.1 312 341.1 313.1 341.1" stroke="#17becf"/>
<path d="M132.9 339.6 134 339.6 135.1 339.6 136.2 339.5 137.3 339.5 138.4 339.4 139.5 339.3 140.6 339.2 141.7 339.1 142.8 339.1 143.9 339 145 339.1 146.1 339.2 147.2 339.3 148.3 339.5 149.4 339.6 150.5 339.6 151.7 339.4 152.8 339.2 153.9 339.1 155 339.2 156.1 339.4 157.2 339.5 158.3 339.6 159.4 339.5 160.5 339.3 161.6 339.2 162.7 339.2 163.8 339.5 164.9 339.6 166 339.5 167.1 339.3 168.2 339.2 169.3 339.3 170.4 339.5 171.5 339.6 172.6 339.5 173.7 339.3 174.8 339.2 175.9 339.4 177 339.6 178.1 339.6 179.3 339.4 180.4 339.2 181.5 339.3 182.6 339.5 183.7 339.6 184.8 339.4 185.9 339.2 187 339.3 188.1 339.5 189.2 339.6 190.3 339.4 191.4 339.2 192.5 339.3 193.6 339.6 194.7 339.6 195.8 339.3 196.9 339.2 198 339.4 199.1 339.6 200.2 339.5 201.3 339.3 202.4 339.3 203.5 339.5 204.6 339.6 205.7 339.4 206.8 339.2 208 339.4 209.1 339.6 210.2 339.5 211.3 339.3 212.4 339.3 213.5 339.5 214.6 339.6 215.7 339.4 216.8 339.3 217.9 339.4 219 339.6 220.1 339.5 221.2 339.3 222.3 339.3 223.4 339.6 224.5 339.6 225.6 339.3 226.7 339.3 227.8 339.5 228.9 339.6 230 339.4 231.1 339.3 232.2 339.5 233.3 339.6 234.4 339.4 235.5 339.3 236.7 339.4 237.8 339.6 238.9 339.4 240 339.3 241.1 339.4 242.2 339.6 243.3 339.5 244.4 339.3 245.5 339.4 246.6 339.6 247.7 339.5 248.8 339.3 249.9 339.4 251 339.6 252.1 339.5 253.2 339.3 254.3 339.4 255.4 339.6 256.5 339.5 257.6 339.3 258.7 339.3 259.8 339.6 260.9 339.5 262 339.3 263.1 339.3 264.3 339.6 265.4 339.6 266.5 339.3 267.6 339.3 268.7 339.5 269.8 339.6 270.9 339.4 272 339.3 273.1 339.5 274.2 339.6 275.3 339.4 276.4 339.3 277.5 339.4 278.6 339.6 279.7 339.5 280.8 339.3 281.9 339.3 283 339.5 284.1 339.6 285.2 339.4 286.3 339.2 287.4 339.4 288.5 339.6 289.6 339.6 290.7 339.3 291.8 339.2 293 339.3 294.1 339.5 295.2 339.6 296.3 339.4 297.4 339.2 298.5 339.2 299.6 339.3 300.7 339.5 301.8 339.6 302.9 339.5 304 339.3 305.1 339.1 306.2 339.1 307.3 339.1 308.4 339.2 309.5 339.3 310.6 339.4 311.7 339.5 312.8 339.6 313.9 339.6" stroke="#1f77b4"/>
<path d="M131.5 338 132.6 338 133.7 338 134.8 338 135.9 337.9 137 337.8 138.1 337.7 139.2 337.7 140.3 337.6 141.4 337.5 142.5 337.5 143.6 337.5 144.7 337.6 145.8 337.8 146.9 338 148 338 149.2 338 150.3 337.8 151.4 337.7 152.5 337.6 153.6 337.6 154.7 337.8 155.8 338 156.9 338 158 337.9 159.1 337.7 160.2 337.6 161.3 337.7 162.4 338 163.5 338 164.6 337.9 165.7 337.7 166.8 337.6 167.9 337.8 169 338 170.1 338 171.2 337.8 172.3 337.7 173.4 337.7 174.5 337.9 175.6 338 176.7 337.9 177.8 337.7 178.9 337.7 180.1 337.9 181.2 338 182.3 337.9 183.4 337.7 184.5 337.7 185.6 337.9 186.7 338 187.8 337.9 188.9 337.7 190 337.7 191.1 337.9 192.2 338 193.3 337.9 194.4 337.7 195.5 337.8 196.6 338 197.7 338 198.8 337.8 199.9 337.7 201 337.9 202.1 338 203.2 337.9 204.3 337.7 205.4 337.8 206.5 338 207.6 338 208.7 337.8 209.8 337.7 211 337.9 212.1 338 213.2 337.9 214.3 337.7 215.4 337.8 216.5 338 217.6 337.9 218.7 337.7 219.8 337.8 220.9 338 222 338 223.1 337.8 224.2 337.7 225.3 338 226.4 338 227.5 337.8 228.6 337.7 229.7 337.9 230.8 338 231.9 337.8 233 337.7 234.1 337.9 235.2 338 236.3 337.8 237.4 337.7 238.5 337.9 239.6 338 240.7 337.9 241.9 337.7 243 337.9 244.1 338 245.2 337.9 246.3 337.7 247.4 337.9 248.5 338 249.6 337.9 250.7 337.7 251.8 337.9 252.9 338 254 337.9 255.1 337.7 256.2 337.9 257.3 338 258.4 337.9 259.5 337.7 260.6 337.9 261.7 338 262.8 337.9 263.9 337.7 265 337.9 266.1 338 267.2 337.9 268.3 337.7 269.4 337.9 270.5 338 271.6 337.9 272.8 337.7 273.9 337.8 275 338 276.1 337.9 277.2 337.7 278.3 337.8 279.4 338 280.5 338 281.6 337.8 282.7 337.7 283.8 337.9 284.9 338 286 337.9 287.1 337.7 288.2 337.8 289.3 338 290.4 338 291.5 337.8 292.6 337.7 293.7 337.8 294.8 338 295.9 338 297 337.9 298.1 337.7 299.2 337.6 300.3 337.8 301.4 338 302.5 338 303.7 337.9 304.8 337.7 305.9 337.6 307 337.5 308.1 337.5 309.2 337.6 310.3 337.7 311.4 337.9 312.5 338 313.6 338 314.7 338" stroke="#ff7f0e"/>
<path d="M130.1 336.5 131.2 336.5 132.3 336.5 133.4 336.4 134.5 336.4 135.6 336.3 136.7 336.2 137.8 336.1 138.9 336 140 336 141.1 335.9 142.2 336 143.3 336.1 144.4 336.2 145.5 336.4 146.6 336.5 147.8 336.4 148.9 336.3 150 336.1 151.1 336 152.2 336.1 153.3 336.3 154.4 336.5 155.5 336.5 156.6 336.3 157.7 336.1 158.8 336.1 159.9 336.2 161 336.4 162.1 336.5 163.2 336.3 164.3 336.1 165.4 336.1 166.5 336.3 167.6 336.5 168.7 336.4 169.8 336.2 170.9 336.1 172 336.2 173.1 336.4 174.2 336.5 175.3 336.3 176.4 336.1 177.5 336.2 178.6 336.4 179.7 336.5 180.9 336.3 182 336.1 183.1 336.2 184.2 336.4 185.3 336.5 186.4 336.3 187.5 336.1 188.6 336.3 189.7 336.5 190.8 336.4 191.9 336.2 193 336.2 194.1 336.4 195.2 336.5 196.3 336.3 197.4 336.1 198.5 336.2 199.6 336.5 200.7 336.4 201.8 336.2 202.9 336.2 204 336.4 205.1 336.5 206.2 336.3 207.3 336.1 208.4 336.3 209.5 336.5 210.6 336.4 211.7 336.2 212.8 336.2 213.9 336.5 215.1 336.4 216.2 336.2 217.3 336.2 218.4 336.4 219.5 336.5 220.6 336.2 221.7 336.2 222.8 336.4 223.9 336.5 225 336.2 226.1 336.2 227.2 336.4 228.3 336.5 229.4 336.3 230.5 336.2 231.6 336.4 232.7 336.5 233.8 336.3 234.9 336.2 236 336.4 237.1 336.5 238.2 336.3 239.3 336.2 240.4 336.4 241.5 336.5 242.6 336.3 243.7 336.2 244.8 336.4 245.9 336.5 247 336.2 248.2 336.2 249.3 336.4 250.4 336.5 251.5 336.2 252.6 336.2 253.7 336.4 254.8 336.4 255.9 336.2 257 336.2 258.1 336.5 259.2 336.4 260.3 336.2 261.4 336.2 262.5 336.5 263.6 336.4 264.7 336.2 265.8 336.2 266.9 336.5 268 336.4 269.1 336.2 270.2 336.2 271.3 336.5 272.4 336.4 273.5 336.2 274.6 336.2 275.7 336.5 276.8 336.4 277.9 336.2 279 336.2 280.1 336.4 281.2 336.5 282.4 336.3 283.5 336.1 284.6 336.3 285.7 336.5 286.8 336.4 287.9 336.2 289 336.2 290.1 336.4 291.2 336.5 292.3 336.3 293.4 336.1 294.5 336.2 295.6 336.4 296.7 336.5 297.8 336.3 298.9 336.1 300 336.1 301.1 336.2 302.2 336.4 303.3 336.5 304.4 336.4 305.5 336.2 306.6 336 307.7 336 308.8 336 309.9 336.1 311 336.2 312.1 336.3 313.2 336.4 314.3 336.5 315.4 336.5" stroke="#2ca02c"/>
<path d="M151.9 430.5 153 430.8 154.1 430.5 155.3 430.4 156.4 430.5 157.5 430.7 158.6 430.7 159.7 431.5 160.8 432" stroke="#1f77b4"/>
<path d="M140.1 429.2 141.2 428.5 142.3 428.6 143.4 428.5 144.6 428.3 145.7 428.2 146.8 428.1 148 428.2 149.1 428.4 150.2 428.7 151.3 429.1 152.5 429.6 153.6 430 154.7 430.2 155.8 430.3 157 430.2 158.1 429.9 159.2 429.5 160.3 429 161.5 428.6 162.6 428.3 163.7 428.1 164.8 428.1 166 428.2 167.1 428.3 168.2 428.4 169.3 428.5 170.5 428.5 171.6 429.5 172.7 430" stroke="#ff7f0e"/>
<path d="M133.8 427.5 134.9 427.1 136 426.6 137.1 426.6 138.2 426.5 139.3 426.4 140.4 426.3 141.5 426.3 142.6 426.3 143.7 426.5 144.8 426.8 145.9 427.2 147 427.6 148.1 427.8 149.2 428 150.3 427.9 151.4 427.7 152.6 427.3 153.7 427 154.8 426.7 155.9 426.6 157 426.7 158.1 426.9 159.2 427.2 160.3 427.6 161.4 427.9 162.5 428 163.6 427.9 164.7 427.7 165.8 427.3 166.9 427 168 426.6 169.1 426.4 170.2 426.2 171.3 426.2 172.4 426.3 173.5 426.4 174.6 426.5 175.7 426.6 176.8 426.7 177.9 427.4 179 427.8" stroke="#2ca02c"/>
<path d="M128.9 425.6 130 425.4 131.1 425.1 132.2 424.7 133.3 424.7 134.4 424.6 135.5 424.5 136.6 424.4 137.7 424.4 138.8 424.5 139.9 424.7 141 425 142.1 425.4 143.2 425.7 144.4 425.8 145.5 425.8 146.6 425.6 147.7 425.3 148.8 425 149.9 424.7 151 424.7 152.1 424.9 153.2 425.2 154.3 425.5 155.4 425.8 156.5 425.8 157.6 425.7 158.7 425.4 159.8 425.1 160.9 424.8 162 424.7 163.1 424.8 164.2 425 165.3 425.3 166.4 425.6 167.5 425.8 168.6 425.8 169.7 425.7 170.8 425.4 171.9 425 173 424.7 174.1 424.5 175.2 424.3 176.3 424.3 177.4 424.4 178.5 424.5 179.6 424.6 180.7 424.7 181.8 424.9 183 425.5 184.1 425.7" stroke="#d62728"/>
<path d="M125.4 423.6 126.5 423.5 127.6 423.3 128.7 422.9 129.8 422.8 130.9 422.7 132 422.6 133.1 422.5 134.2 422.4 135.3 422.5 136.4 422.7 137.5 423 138.6 423.4 139.8 423.6 140.9 423.8 142 423.7 143.1 423.5 144.2 423.2 145.3 422.9 146.4 422.7 147.5 422.8 148.6 423.1 149.7 423.4 150.8 423.7 151.9 423.8 153 423.6 154.1 423.3 155.2 423 156.3 422.8 157.4 422.8 158.5 423.1 159.6 423.4 160.7 423.7 161.8 423.8 162.9 423.6 164 423.3 165.1 423 166.2 422.8 167.3 422.7 168.5 422.9 169.6 423.2 170.7 423.5 171.8 423.7 172.9 423.8 174 423.7 175.1 423.4 176.2 423.1 177.3 422.8 178.4 422.5 179.5 422.4 180.6 422.4 181.7 422.4 182.8 422.6 183.9 422.7 185 422.8 186.1 423 187.2 423.5 188.3 423.7" stroke="#9467bd"/>
<path d="M122.8 421.6 123.9 421.5 125 421.3 126.1 420.9 127.2 420.8 128.3 420.7 129.4 420.6 130.5 420.5 131.6 420.5 132.7 420.6 133.8 420.9 134.9 421.2 136 421.5 137.1 421.7 138.2 421.7 139.3 421.6 140.4 421.3 141.5 421 142.6 420.8 143.7 420.8 144.8 421.1 145.9 421.4 147 421.7 148.1 421.7 149.2 421.6 150.3 421.2 151.4 420.9 152.5 420.8 153.6 421 154.7 421.3 155.8 421.6 156.9 421.7 158 421.6 159.1 421.3 160.2 421 161.3 420.8 162.5 420.9 163.6 421.2 164.7 421.5 165.8 421.7 166.9 421.7 168 421.5 169.1 421.2 170.2 420.9 171.3 420.8 172.4 420.8 173.5 421.1 174.6 421.4 175.7 421.6 176.8 421.7 177.9 421.7 179 421.4 180.1 421.1 181.2 420.8 182.3 420.6 183.4 420.5 184.5 420.4 185.6 420.5 186.7 420.6 187.8 420.8 188.9 420.8 190 421.1 191.1 421.5 192.2 421.6" stroke="#8c564b"/>
<path d="M120.5 419.6 121.6 419.5 122.7 419.3 123.8 419 124.9 418.9 126 418.8 127.1 418.6 128.2 418.6 129.3 418.6 130.5 418.7 131.6 419 132.7 419.3 133.8 419.6 134.9 419.7 136 419.6 137.1 419.4 138.2 419.1 139.3 418.9 140.4 418.8 141.5 419 142.6 419.3 143.7 419.6 144.8 419.7 145.9 419.5 147 419.2 148.1 418.9 149.3 418.9 150.4 419.1 151.5 419.4 152.6 419.7 153.7 419.7 154.8 419.5 155.9 419.1 157 418.9 158.1 418.9 159.2 419.2 160.3 419.5 161.4 419.7 162.5 419.6 163.6 419.3 164.7 419 165.8 418.9 167 419 168.1 419.2 169.2 419.5 170.3 419.7 171.4 419.6 172.5 419.4 173.6 419 174.7 418.8 175.8 418.8 176.9 419 178 419.3 179.1 419.6 180.2 419.7 181.3 419.7 182.4 419.5 183.5 419.2 184.6 418.9 185.8 418.6 186.9 418.5 188 418.5 189.1 418.6 190.2 418.7 191.3 418.8 192.4 418.9 193.5 419.2 194.6 419.5 195.7 419.6" stroke="#e377c2"/>
<path d="M118.5 417.6 119.6 417.5 120.7 417.3 121.8 417 122.9 416.9 124 416.8 125.1 416.7 126.2 416.6 127.3 416.6 128.4 416.8 129.5 417.1 130.6 417.4 131.7 417.6 132.8 417.7 133.9 417.6 135 417.3 136.1 417 137.3 416.8 138.4 416.9 139.5 417.2 140.6 417.5 141.7 417.7 142.8 417.6 143.9 417.3 145 417 146.1 416.9 147.2 417.1 148.3 417.4 149.4 417.7 150.5 417.7 151.6 417.4 152.7 417.1 153.8 416.9 154.9 417 156 417.4 157.1 417.6 158.2 417.7 159.3 417.4 160.4 417.1 161.5 416.9 162.6 417 163.7 417.3 164.8 417.6 165.9 417.7 167 417.5 168.1 417.2 169.2 416.9 170.3 416.9 171.4 417.1 172.6 417.4 173.7 417.7 174.8 417.7 175.9 417.4 177 417.1 178.1 416.9 179.2 416.8 180.3 417 181.4 417.2 182.5 417.5 183.6 417.7 184.7 417.7 185.8 417.5 186.9 417.2 188 416.9 189.1 416.7 190.2 416.5 191.3 416.5 192.4 416.6 193.5 416.7 194.6 416.8 195.7 416.9 196.8 417.2 197.9 417.5 199 417.6" stroke="#7f7f7f"/>
<path d="M116.6 415.6 117.8 415.5 118.9 415.3 120 415 121.1 414.9 122.2 414.8 123.3 414.7 124.4 414.6 125.5 414.7 126.6 414.9 127.8 415.1 128.9 415.4 130 415.6 131.1 415.6 132.2 415.4 133.3 415.1 134.4 414.9 135.5 414.9 136.6 415.1 137.7 415.4 138.9 415.7 140 415.6 141.1 415.4 142.2 415.1 143.3 414.9 144.4 415.1 145.5 415.4 146.6 415.7 147.7 415.6 148.8 415.3 150 415 151.1 415 152.2 415.2 153.3 415.5 154.4 415.7 155.5 415.5 156.6 415.2 157.7 415 158.8 415 160 415.3 161.1 415.6 162.2 415.7 163.3 415.4 164.4 415.1 165.5 414.9 166.6 415 167.7 415.4 168.8 415.6 169.9 415.6 171.1 415.4 172.2 415.1 173.3 414.9 174.4 415 175.5 415.3 176.6 415.6 177.7 415.7 178.8 415.5 179.9 415.2 181 414.9 182.2 414.8 183.3 414.9 184.4 415.2 185.5 415.5 186.6 415.6 187.7 415.7 188.8 415.5 189.9 415.2 191 414.9 192.1 414.7 193.3 414.6 194.4 414.6 195.5 414.6 196.6 414.8 197.7 414.9 198.8 415 199.9 415.3 201 415.5 202.1 415.6" stroke="#bcbd22"/>
<path d="M115 413.5 116.1 413.5 117.2 413.3 118.3 413 119.4 413 120.6 412.8 121.7 412.7 122.8 412.7 123.9 412.7 125 412.9 126.1 413.2 127.2 413.5 128.3 413.7 129.5 413.6 130.6 413.3 131.7 413 132.8 412.9 133.9 413 135 413.3 136.1 413.6 137.2 413.7 138.4 413.5 139.5 413.2 140.6 413 141.7 413 142.8 413.4 143.9 413.6 145 413.6 146.1 413.4 147.3 413.1 148.4 413 149.5 413.2 150.6 413.5 151.7 413.7 152.8 413.5 153.9 413.1 155 413 156.2 413.1 157.3 413.5 158.4 413.7 159.5 413.5 160.6 413.2 161.7 413 162.8 413.1 163.9 413.4 165.1 413.6 166.2 413.6 167.3 413.3 168.4 413 169.5 413 170.6 413.2 171.7 413.5 172.8 413.7 174 413.5 175.1 413.2 176.2 413 177.3 412.9 178.4 413.2 179.5 413.5 180.6 413.7 181.7 413.6 182.9 413.3 184 413 185.1 412.8 186.2 412.9 187.3 413.1 188.4 413.4 189.5 413.6 190.6 413.7 191.8 413.5 192.9 413.2 194 413 195.1 412.7 196.2 412.6 197.3 412.6 198.4 412.7 199.5 412.8 200.7 412.9 201.8 413 202.9 413.3 204 413.5 205.1 413.6" stroke="#17becf"/>
<path d="M113.4 411.5 114.6 411.5 115.7 411.3 116.8 411.1 117.9 411 119 410.9 120.1 410.7 121.2 410.7 122.3 410.8 123.5 411 124.6 411.3 125.7 411.5 126.8 411.7 127.9 411.5 129 411.3 130.1 411 131.2 410.9 132.4 411.1 133.5 411.4 134.6 411.6 135.7 411.6 136.8 411.3 137.9 411 139 411 140.1 411.2 141.3 411.5 142.4 411.6 143.5 411.4 144.6 411.1 145.7 411 146.8 411.2 147.9 411.5 149 411.7 150.1 411.5 151.3 411.1 152.4 411 153.5 411.2 154.6 411.5 155.7 411.7 156.8 411.5 157.9 411.1 159 411 160.2 411.2 161.3 411.5 162.4 411.7 163.5 411.5 164.6 411.1 165.7 411 166.8 411.2 167.9 411.5 169.1 411.7 170.2 411.5 171.3 411.2 172.4 411 173.5 411.1 174.6 411.4 175.7 411.6 176.8 411.6 178 411.3 179.1 411 180.2 410.9 181.3 411.1 182.4 411.4 183.5 411.6 184.6 411.6 185.7 411.4 186.8 411.1 188 410.9 189.1 410.9 190.2 411.1 191.3 411.4 192.4 411.6 193.5 411.6 194.6 411.5 195.7 411.2 196.9 411 198 410.8 199.1 410.6 200.2 410.6 201.3 410.7 202.4 410.8 203.5 411 204.6 411 205.8 411.4 206.9 411.5 208 411.6" stroke="#1f77b4"/>
<path d="M112 409.5 113.2 409.5 114.3 409.3 115.4 409.1 116.5 409 117.6 408.9 118.7 408.8 119.8 408.7 120.9 408.8 122 409 123.1 409.3 124.2 409.6 125.4 409.6 126.5 409.5 127.6 409.2 128.7 409 129.8 409 130.9 409.2 132 409.5 133.1 409.6 134.2 409.5 135.3 409.2 136.4 409 137.6 409.1 138.7 409.4 139.8 409.6 140.9 409.6 142 409.2 143.1 409 144.2 409.1 145.3 409.4 146.4 409.6 147.5 409.5 148.6 409.2 149.8 409 150.9 409.2 152 409.5 153.1 409.6 154.2 409.5 155.3 409.1 156.4 409 157.5 409.3 158.6 409.6 159.7 409.6 160.8 409.4 162 409.1 163.1 409.1 164.2 409.3 165.3 409.6 166.4 409.6 167.5 409.3 168.6 409 169.7 409.1 170.8 409.4 171.9 409.6 173 409.6 174.1 409.3 175.3 409 176.4 409 177.5 409.3 178.6 409.6 179.7 409.6 180.8 409.4 181.9 409.1 183 408.9 184.1 409.1 185.2 409.4 186.3 409.6 187.5 409.6 188.6 409.4 189.7 409.1 190.8 408.9 191.9 408.9 193 409.1 194.1 409.4 195.2 409.6 196.3 409.6 197.4 409.5 198.5 409.2 199.7 409 200.8 408.8 201.9 408.7 203 408.7 204.1 408.8 205.2 408.9 206.3 409 207.4 409 208.5 409.4 209.6 409.5 210.7 409.6" stroke="#ff7f0e"/>
<path d="M110.7 407.5 111.8 407.5 112.9 407.3 114 407.1 115.1 407 116.2 406.9 117.3 406.8 118.4 406.7 119.5 406.8 120.6 407.1 121.7 407.4 122.8 407.6 124 407.6 125.1 407.4 126.2 407.1 127.3 406.9 128.4 407 129.5 407.3 130.6 407.6 131.7 407.6 132.8 407.4 133.9 407.1 135 407 136.1 407.2 137.2 407.5 138.3 407.6 139.4 407.4 140.5 407.1 141.6 407 142.7 407.3 143.8 407.6 144.9 407.6 146 407.3 147.1 407.1 148.3 407.1 149.4 407.4 150.5 407.6 151.6 407.5 152.7 407.2 153.8 407 154.9 407.2 156 407.6 157.1 407.6 158.2 407.3 159.3 407.1 160.4 407.1 161.5 407.4 162.6 407.6 163.7 407.5 164.8 407.2 165.9 407 167 407.2 168.1 407.5 169.2 407.6 170.3 407.4 171.4 407.1 172.5 407 173.7 407.3 174.8 407.6 175.9 407.6 177 407.4 178.1 407.1 179.2 407 180.3 407.2 181.4 407.5 182.5 407.6 183.6 407.4 184.7 407.1 185.8 407 186.9 407.1 188 407.4 189.1 407.6 190.2 407.6 191.3 407.4 192.4 407.1 193.5 406.9 194.6 406.9 195.7 407.1 196.8 407.4 197.9 407.6 199.1 407.6 200.2 407.5 201.3 407.2 202.4 407 203.5 406.8 204.6 406.7 205.7 406.7 206.8 406.8 207.9 406.9 209 407 210.1 407.1 211.2 407.4 212.3 407.6 213.4 407.6" stroke="#2ca02c"/>
<path d="M109.5 405.5 110.6 405.5 111.7 405.3 112.8 405.1 113.9 405 115.1 404.9 116.2 404.8 117.3 404.8 118.4 404.9 119.5 405.1 120.6 405.4 121.7 405.6 122.8 405.6 123.9 405.3 125 405.1 126.2 405 127.3 405.1 128.4 405.4 129.5 405.6 130.6 405.5 131.7 405.2 132.8 405 133.9 405.1 135 405.4 136.1 405.6 137.3 405.5 138.4 405.2 139.5 405 140.6 405.2 141.7 405.5 142.8 405.6 143.9 405.4 145 405.1 146.1 405.1 147.2 405.4 148.4 405.6 149.5 405.5 150.6 405.2 151.7 405.1 152.8 405.3 153.9 405.6 155 405.5 156.1 405.2 157.2 405.1 158.3 405.2 159.5 405.6 160.6 405.6 161.7 405.3 162.8 405.1 163.9 405.2 165 405.5 166.1 405.6 167.2 405.4 168.3 405.1 169.5 405.1 170.6 405.3 171.7 405.6 172.8 405.6 173.9 405.3 175 405 176.1 405.1 177.2 405.4 178.3 405.6 179.4 405.5 180.6 405.2 181.7 405 182.8 405.1 183.9 405.5 185 405.6 186.1 405.5 187.2 405.2 188.3 405 189.4 405 190.5 405.3 191.7 405.6 192.8 405.6 193.9 405.4 195 405.1 196.1 404.9 197.2 404.9 198.3 405.1 199.4 405.4 200.5 405.6 201.6 405.6 202.8 405.5 203.9 405.2 205 405 206.1 404.8 207.2 404.7 208.3 404.7 209.4 404.8 210.5 404.9 211.6 405 212.7 405.2 213.9 405.4 215 405.6 216.1 405.6" stroke="#d62728"/>
<path d="M108.3 403.5 109.4 403.5 110.5 403.3 111.6 403.1 112.7 403 113.8 402.9 114.9 402.8 116 402.8 117.1 402.9 118.2 403.1 119.3 403.4 120.4 403.6 121.5 403.6 122.6 403.3 123.7 403.1 124.8 403 125.9 403.2 127.1 403.5 128.2 403.6 129.3 403.5 130.4 403.2 131.5 403 132.6 403.2 133.7 403.5 134.8 403.6 135.9 403.4 137 403.1 138.1 403.1 139.2 403.3 140.3 403.6 141.4 403.5 142.5 403.2 143.6 403.1 144.7 403.3 145.8 403.6 146.9 403.6 148 403.3 149.1 403.1 150.2 403.2 151.3 403.5 152.4 403.6 153.5 403.3 154.6 403.1 155.7 403.2 156.8 403.5 157.9 403.6 159 403.4 160.1 403.1 161.2 403.1 162.3 403.5 163.4 403.6 164.6 403.4 165.7 403.1 166.8 403.1 167.9 403.4 169 403.6 170.1 403.5 171.2 403.2 172.3 403.1 173.4 403.3 174.5 403.6 175.6 403.6 176.7 403.3 177.8 403.1 178.9 403.1 180 403.4 181.1 403.6 182.2 403.5 183.3 403.2 184.4 403 185.5 403.1 186.6 403.4 187.7 403.6 188.8 403.5 189.9 403.2 191 403 192.1 403 193.2 403.3 194.3 403.6 195.4 403.6 196.5 403.4 197.6 403.1 198.7 402.9 199.8 402.9 200.9 403.1 202.1 403.4 203.2 403.6 204.3 403.6 205.4 403.5 206.5 403.2 207.6 403 208.7 402.8 209.8 402.7 210.9 402.7 212 402.8 213.1 403 214.2 403.1 215.3 403.2 216.4 403.5 217.5 403.6 218.6 403.6" stroke="#9467bd"/>
<path d="M107.2 401.5 108.4 401.5 109.5 401.3 110.6 401.1 111.7 401 112.8 400.9 113.9 400.8 115 400.8 116.1 400.9 117.2 401.2 118.3 401.5 119.4 401.6 120.5 401.5 121.6 401.2 122.7 401 123.8 401 124.9 401.3 126 401.5 127.1 401.6 128.3 401.4 129.4 401.1 130.5 401.1 131.6 401.3 132.7 401.6 133.8 401.5 134.9 401.2 136 401.1 137.1 401.2 138.2 401.5 139.3 401.6 140.4 401.3 141.5 401.1 142.6 401.2 143.7 401.5 144.8 401.6 145.9 401.3 147 401.1 148.2 401.2 149.3 401.5 150.4 401.6 151.5 401.3 152.6 401.1 153.7 401.2 154.8 401.5 155.9 401.6 157 401.3 158.1 401.1 159.2 401.2 160.3 401.5 161.4 401.6 162.5 401.3 163.6 401.1 164.7 401.2 165.8 401.5 166.9 401.6 168.1 401.3 169.2 401.1 170.3 401.2 171.4 401.5 172.5 401.6 173.6 401.3 174.7 401.1 175.8 401.2 176.9 401.5 178 401.6 179.1 401.4 180.2 401.1 181.3 401.1 182.4 401.3 183.5 401.6 184.6 401.6 185.7 401.3 186.8 401 188 401.1 189.1 401.4 190.2 401.6 191.3 401.5 192.4 401.2 193.5 401 194.6 401 195.7 401.3 196.8 401.5 197.9 401.6 199 401.4 200.1 401.1 201.2 400.9 202.3 400.9 203.4 401.1 204.5 401.4 205.6 401.6 206.7 401.6 207.8 401.4 209 401.2 210.1 401 211.2 400.8 212.3 400.7 213.4 400.8 214.5 400.9 215.6 401 216.7 401.1 217.8 401.3 218.9 401.5 220 401.6 221.1 401.6" stroke="#8c564b"/>
<path d="M106.2 399.5 107.3 399.5 108.4 399.3 109.5 399.1 110.6 399.1 111.7 398.9 112.8 398.8 114 398.8 115.1 399 116.2 399.2 117.3 399.5 118.4 399.6 119.5 399.5 120.6 399.2 121.7 399 122.8 399.1 123.9 399.3 125 399.6 126.1 399.5 127.2 399.3 128.3 399 129.5 399.1 130.6 399.5 131.7 399.6 132.8 399.4 133.9 399.1 135 399.1 136.1 399.4 137.2 399.6 138.3 399.5 139.4 399.1 140.5 399.1 141.6 399.4 142.7 399.6 143.9 399.4 145 399.1 146.1 399.1 147.2 399.4 148.3 399.6 149.4 399.4 150.5 399.1 151.6 399.2 152.7 399.5 153.8 399.6 154.9 399.3 156 399.1 157.1 399.3 158.2 399.6 159.4 399.5 160.5 399.2 161.6 399.1 162.7 399.3 163.8 399.6 164.9 399.5 166 399.2 167.1 399.1 168.2 399.4 169.3 399.6 170.4 399.5 171.5 399.1 172.6 399.1 173.8 399.4 174.9 399.6 176 399.5 177.1 399.1 178.2 399.1 179.3 399.4 180.4 399.6 181.5 399.5 182.6 399.2 183.7 399 184.8 399.2 185.9 399.5 187 399.6 188.1 399.3 189.3 399.1 190.4 399.1 191.5 399.3 192.6 399.6 193.7 399.6 194.8 399.3 195.9 399 197 399 198.1 399.2 199.2 399.5 200.3 399.6 201.4 399.4 202.5 399.1 203.6 398.9 204.8 398.9 205.9 399.1 207 399.4 208.1 399.6 209.2 399.6 210.3 399.4 211.4 399.2 212.5 399 213.6 398.8 214.7 398.7 215.8 398.8 216.9 398.9 218 399 219.2 399.1 220.3 399.3 221.4 399.5 222.5 399.6 223.6 399.6" stroke="#e377c2"/>
<path d="M105.2 397.5 106.3 397.5 107.4 397.3 108.5 397.1 109.6 397.1 110.7 396.9 111.8 396.8 113 396.8 114.1 397 115.2 397.3 116.3 397.5 117.4 397.6 118.5 397.4 119.6 397.1 120.7 397 121.8 397.1 122.9 397.4 124 397.6 125.1 397.5 126.3 397.2 127.4 397 128.5 397.2 129.6 397.5 130.7 397.6 131.8 397.3 132.9 397.1 134 397.2 135.1 397.5 136.2 397.6 137.3 397.3 138.4 397.1 139.6 397.3 140.7 397.6 141.8 397.5 142.9 397.2 144 397.1 145.1 397.3 146.2 397.6 147.3 397.5 148.4 397.2 149.5 397.1 150.6 397.5 151.7 397.6 152.9 397.3 154 397.1 155.1 397.2 156.2 397.6 157.3 397.5 158.4 397.2 159.5 397.1 160.6 397.4 161.7 397.6 162.8 397.4 163.9 397.1 165 397.2 166.2 397.5 167.3 397.6 168.4 397.3 169.5 397.1 170.6 397.2 171.7 397.5 172.8 397.6 173.9 397.3 175 397.1 176.1 397.3 177.2 397.6 178.3 397.5 179.5 397.2 180.6 397.1 181.7 397.3 182.8 397.6 183.9 397.5 185 397.3 186.1 397 187.2 397.2 188.3 397.5 189.4 397.6 190.5 397.4 191.6 397.1 192.8 397 193.9 397.3 195 397.6 196.1 397.6 197.2 397.3 198.3 397 199.4 397 200.5 397.2 201.6 397.5 202.7 397.6 203.8 397.4 204.9 397.2 206.1 396.9 207.2 396.9 208.3 397.1 209.4 397.4 210.5 397.6 211.6 397.6 212.7 397.4 213.8 397.2 214.9 397 216 396.8 217.1 396.8 218.2 396.8 219.4 396.9 220.5 397 221.6 397.1 222.7 397.3 223.8 397.5 224.9 397.6 226 397.6" stroke="#7f7f7f"/>
<path d="M270.1 503.4 271.2 502.7 272.3 502.9 273.4 502.9 274.5 502.8 275.6 502.6 276.7 502.6 277.8 502.5 278.9 502.6 280 502.7 281.1 502.8 282.2 502.9 283.3 503 284.4 502.7 285.5 503.7" stroke="#1f77b4"/>
<path d="M259.5 501.9 260.6 501.3 261.7 500.9 262.8 500.9 264 500.8 265.1 500.7 266.2 500.6 267.3 500.5 268.4 500.5 269.6 500.7 270.7 500.9 271.8 501.3 272.9 501.7 274 502.1 275.2 502.4 276.3 502.6 277.4 502.6 278.5 502.5 279.6 502.2 280.8 501.9 281.9 501.5 283 501.1 284.1 500.8 285.2 500.6 286.4 500.6 287.5 500.7 288.6 500.8 289.7 500.9 290.8 501 292 500.9 293.1 501.9" stroke="#ff7f0e"/>
<path d="M252.3 500.2 253.4 499.9 254.5 499.4 255.6 499.2 256.8 499.2 257.9 499 259 498.9 260.1 498.8 261.3 498.8 262.4 498.9 263.5 499.1 264.6 499.4 265.8 499.7 266.9 500.1 268 500.4 269.2 500.6 270.3 500.5 271.4 500.3 272.5 500 273.7 499.7 274.8 499.4 275.9 499.2 277 499.2 278.2 499.4 279.3 499.8 280.4 500.1 281.5 500.4 282.7 500.6 283.8 500.5 284.9 500.3 286 499.9 287.2 499.6 288.3 499.2 289.4 499 290.5 498.9 291.7 498.9 292.8 499 293.9 499.2 295.1 499.3 296.2 499.3 297.3 500.1" stroke="#2ca02c"/>
<path d="M246.2 498.4 247.3 498.3 248.4 498 249.5 497.5 250.6 497.5 251.7 497.4 252.8 497.3 254 497.2 255.1 497.1 256.2 497.1 257.3 497.2 258.4 497.5 259.5 497.8 260.6 498.1 261.7 498.4 262.8 498.6 263.9 498.6 265 498.5 266.2 498.3 267.3 497.9 268.4 497.6 269.5 497.5 270.6 497.5 271.7 497.8 272.8 498.1 273.9 498.4 275 498.6 276.1 498.6 277.2 498.4 278.4 498.1 279.5 497.8 280.6 497.6 281.7 497.5 282.8 497.7 283.9 498 285 498.4 286.1 498.6 287.2 498.7 288.3 498.5 289.4 498.2 290.6 497.9 291.7 497.6 292.8 497.3 293.9 497.2 295 497.2 296.1 497.3 297.2 497.5 298.3 497.6 299.4 497.7 300.5 498.3" stroke="#d62728"/>
<path d="M240.8 496.7 242 496.6 243.1 496.4 244.2 496.1 245.3 495.8 246.4 495.7 247.5 495.6 248.6 495.5 249.7 495.4 250.9 495.4 252 495.4 253.1 495.6 254.2 495.9 255.3 496.2 256.4 496.5 257.5 496.7 258.6 496.8 259.7 496.7 260.9 496.4 262 496.1 263.1 495.8 264.2 495.7 265.3 495.8 266.4 496 267.5 496.4 268.6 496.7 269.8 496.8 270.9 496.7 272 496.4 273.1 496.1 274.2 495.8 275.3 495.8 276.4 496 277.5 496.3 278.6 496.7 279.8 496.8 280.9 496.7 282 496.4 283.1 496.1 284.2 495.8 285.3 495.8 286.4 496 287.5 496.3 288.7 496.6 289.8 496.8 290.9 496.8 292 496.5 293.1 496.2 294.2 495.9 295.3 495.6 296.4 495.5 297.5 495.5 298.7 495.6 299.8 495.7 300.9 495.8 302 496 303.1 496.5" stroke="#9467bd"/>
<path d="M236.6 494.8 237.7 494.8 238.8 494.6 240 494.4 241.1 494.1 242.2 494 243.3 493.9 244.4 493.8 245.5 493.7 246.6 493.6 247.7 493.7 248.8 493.9 249.9 494.1 251 494.4 252.1 494.7 253.3 494.9 254.4 494.9 255.5 494.8 256.6 494.5 257.7 494.2 258.8 494 259.9 494 261 494.1 262.1 494.4 263.2 494.7 264.3 494.9 265.4 494.9 266.5 494.7 267.7 494.3 268.8 494.1 269.9 494 271 494.2 272.1 494.6 273.2 494.9 274.3 495 275.4 494.8 276.5 494.5 277.6 494.2 278.7 494.1 279.8 494.2 281 494.5 282.1 494.8 283.2 495 284.3 494.8 285.4 494.5 286.5 494.2 287.6 494 288.7 494.1 289.8 494.3 290.9 494.6 292 494.9 293.1 494.9 294.3 494.8 295.4 494.5 296.5 494.2 297.6 493.9 298.7 493.8 299.8 493.8 300.9 493.8 302 494 303.1 494.1 304.2 494.3 305.3 494.7" stroke="#8c564b"/>
<path d="M232.7 493 233.8 493 234.9 492.8 236 492.6 237.1 492.3 238.2 492.3 239.4 492.1 240.5 492 241.6 491.9 242.7 491.9 243.8 492 244.9 492.1 246 492.4 247.1 492.7 248.3 493 249.4 493.1 250.5 493.1 251.6 492.9 252.7 492.6 253.8 492.3 254.9 492.2 256.1 492.2 257.2 492.5 258.3 492.8 259.4 493.1 260.5 493.1 261.6 493 262.7 492.6 263.9 492.4 265 492.3 266.1 492.4 267.2 492.8 268.3 493 269.4 493.1 270.5 492.9 271.7 492.6 272.8 492.4 273.9 492.3 275 492.5 276.1 492.9 277.2 493.1 278.3 493.1 279.5 492.8 280.6 492.5 281.7 492.3 282.8 492.4 283.9 492.7 285 493 286.1 493.1 287.3 493 288.4 492.7 289.5 492.4 290.6 492.3 291.7 492.4 292.8 492.7 293.9 493 295.1 493.1 296.2 493.1 297.3 492.8 298.4 492.5 299.5 492.2 300.6 492 301.7 492 302.9 492.1 304 492.2 305.1 492.3 306.2 492.5 307.3 492.9" stroke="#e377c2"/>
<path d="M229 491.2 230.1 491.2 231.2 491 232.3 490.8 233.5 490.6 234.6 490.5 235.7 490.4 236.8 490.3 237.9 490.2 239 490.1 240.1 490.2 241.2 490.4 242.3 490.7 243.5 490.9 244.6 491.2 245.7 491.3 246.8 491.3 247.9 491.1 249 490.8 250.1 490.5 251.2 490.4 252.4 490.5 253.5 490.8 254.6 491.1 255.7 491.3 256.8 491.3 257.9 491 259 490.7 260.1 490.5 261.3 490.6 262.4 490.8 263.5 491.1 264.6 491.3 265.7 491.2 266.8 490.9 267.9 490.6 269 490.5 270.2 490.7 271.3 491.1 272.4 491.3 273.5 491.3 274.6 491 275.7 490.7 276.8 490.6 277.9 490.7 279.1 491.1 280.2 491.3 281.3 491.3 282.4 491 283.5 490.7 284.6 490.5 285.7 490.7 286.8 491 288 491.3 289.1 491.3 290.2 491 291.3 490.7 292.4 490.5 293.5 490.5 294.6 490.8 295.7 491.1 296.9 491.3 298 491.3 299.1 491.1 300.2 490.7 301.3 490.5 302.4 490.3 303.5 490.3 304.6 490.3 305.8 490.5 306.9 490.6 308 490.8 309.1 491.1" stroke="#7f7f7f"/>
<path d="M225.5 489.4 226.6 489.4 227.7 489.3 228.8 489.1 229.9 488.8 231 488.7 232.1 488.6 233.2 488.5 234.3 488.4 235.4 488.4 236.5 488.5 237.7 488.6 238.8 488.9 239.9 489.1 241 489.4 242.1 489.5 243.2 489.4 244.3 489.2 245.4 489 246.5 488.7 247.6 488.6 248.7 488.8 249.8 489 250.9 489.3 252 489.5 253.1 489.4 254.2 489.2 255.4 488.9 256.5 488.7 257.6 488.8 258.7 489.1 259.8 489.4 260.9 489.5 262 489.3 263.1 489 264.2 488.8 265.3 488.8 266.4 489.1 267.5 489.4 268.6 489.5 269.7 489.3 270.8 489 271.9 488.8 273.1 488.9 274.2 489.2 275.3 489.5 276.4 489.5 277.5 489.2 278.6 488.9 279.7 488.8 280.8 489 281.9 489.3 283 489.5 284.1 489.4 285.2 489.1 286.3 488.8 287.4 488.8 288.5 489.1 289.6 489.4 290.8 489.5 291.9 489.4 293 489.1 294.1 488.8 295.2 488.7 296.3 488.9 297.4 489.2 298.5 489.5 299.6 489.5 300.7 489.3 301.8 489 302.9 488.7 304 488.5 305.1 488.5 306.2 488.6 307.3 488.7 308.5 488.8 309.6 489 310.7 489.3" stroke="#bcbd22"/>
<path d="M222.2 487.6 223.3 487.6 224.4 487.5 225.6 487.3 226.7 487 227.8 487 228.9 486.9 230 486.7 231.1 486.7 232.2 486.6 233.3 486.7 234.4 486.9 235.5 487.1 236.7 487.4 237.8 487.6 238.9 487.7 240 487.6 241.1 487.4 242.2 487.1 243.3 486.9 244.4 486.9 245.5 487.1 246.6 487.4 247.8 487.6 248.9 487.7 250 487.5 251.1 487.2 252.2 487 253.3 487 254.4 487.2 255.5 487.5 256.6 487.7 257.7 487.6 258.9 487.3 260 487 261.1 487 262.2 487.3 263.3 487.6 264.4 487.7 265.5 487.5 266.6 487.2 267.7 487 268.8 487.1 270 487.4 271.1 487.7 272.2 487.6 273.3 487.3 274.4 487.1 275.5 487.1 276.6 487.3 277.7 487.6 278.8 487.7 279.9 487.4 281.1 487.1 282.2 487 283.3 487.2 284.4 487.6 285.5 487.7 286.6 487.5 287.7 487.2 288.8 487 289.9 487.1 291.1 487.4 292.2 487.7 293.3 487.7 294.4 487.4 295.5 487.1 296.6 487 297.7 487.1 298.8 487.4 299.9 487.6 301 487.7 302.2 487.5 303.3 487.3 304.4 487 305.5 486.8 306.6 486.7 307.7 486.8 308.8 486.9 309.9 487 311 487.3 312.1 487.5" stroke="#17becf"/>
<path d="M219.1 485.8 220.2 485.8 221.3 485.7 222.4 485.5 223.5 485.3 224.6 485.2 225.7 485.1 226.8 485 227.9 484.9 229.1 484.9 230.2 484.9 231.3 485.1 232.4 485.4 233.5 485.6 234.6 485.8 235.7 485.9 236.8 485.8 238 485.5 239.1 485.3 240.2 485.1 241.3 485.1 242.4 485.3 243.5 485.6 244.6 485.9 245.7 485.9 246.8 485.6 248 485.3 249.1 485.2 250.2 485.3 251.3 485.5 252.4 485.8 253.5 485.9 254.6 485.7 255.7 485.4 256.8 485.2 258 485.3 259.1 485.6 260.2 485.9 261.3 485.8 262.4 485.5 263.5 485.3 264.6 485.3 265.7 485.6 266.8 485.8 268 485.9 269.1 485.6 270.2 485.3 271.3 485.3 272.4 485.5 273.5 485.8 274.6 485.9 275.7 485.6 276.8 485.3 278 485.3 279.1 485.5 280.2 485.8 281.3 485.9 282.4 485.6 283.5 485.3 284.6 485.3 285.7 485.5 286.8 485.8 288 485.9 289.1 485.6 290.2 485.3 291.3 485.2 292.4 485.5 293.5 485.8 294.6 485.9 295.7 485.7 296.8 485.4 298 485.2 299.1 485.2 300.2 485.5 301.3 485.8 302.4 485.9 303.5 485.8 304.6 485.5 305.7 485.2 306.9 485 308 485 309.1 485 310.2 485.2 311.3 485.3 312.4 485.5 313.5 485.8" stroke="#1f77b4"/>
<path d="M216 484 217.1 484 218.2 483.9 219.3 483.7 220.4 483.5 221.5 483.4 222.7 483.3 223.8 483.2 224.9 483.1 226 483.1 227.1 483.2 228.2 483.3 229.3 483.6 230.4 483.8 231.5 484 232.6 484.1 233.8 484 234.9 483.7 236 483.5 237.1 483.3 238.2 483.4 239.3 483.6 240.4 483.9 241.5 484.1 242.6 484 243.7 483.8 244.9 483.5 246 483.4 247.1 483.5 248.2 483.8 249.3 484.1 250.4 484 251.5 483.8 252.6 483.5 253.7 483.4 254.8 483.7 256 484 257.1 484.1 258.2 483.9 259.3 483.6 260.4 483.5 261.5 483.6 262.6 483.9 263.7 484.1 264.8 483.9 266 483.6 267.1 483.5 268.2 483.7 269.3 484 270.4 484.1 271.5 483.9 272.6 483.6 273.7 483.5 274.8 483.7 275.9 484 277.1 484.1 278.2 483.8 279.3 483.5 280.4 483.5 281.5 483.8 282.6 484.1 283.7 484 284.8 483.7 285.9 483.5 287 483.6 288.2 483.9 289.3 484.1 290.4 484 291.5 483.6 292.6 483.5 293.7 483.6 294.8 483.9 295.9 484.1 297 484 298.1 483.7 299.3 483.4 300.4 483.4 301.5 483.7 302.6 483.9 303.7 484.1 304.8 484 305.9 483.7 307 483.4 308.1 483.2 309.2 483.2 310.4 483.3 311.5 483.4 312.6 483.5 313.7 483.8 314.8 484" stroke="#ff7f0e"/>
<path d="M213.1 482.2 214.2 482.2 215.3 482.1 216.4 482 217.5 481.7 218.6 481.7 219.7 481.6 220.8 481.5 221.9 481.4 223 481.3 224.1 481.4 225.3 481.6 226.4 481.8 227.5 482.1 228.6 482.2 229.7 482.3 230.8 482.2 231.9 481.9 233 481.7 234.1 481.5 235.2 481.6 236.3 481.8 237.4 482.1 238.5 482.3 239.6 482.2 240.8 481.9 241.9 481.7 243 481.6 244.1 481.8 245.2 482.1 246.3 482.3 247.4 482.2 248.5 481.9 249.6 481.7 250.7 481.7 251.8 482 252.9 482.2 254 482.3 255.1 482 256.3 481.7 257.4 481.7 258.5 482 259.6 482.2 260.7 482.3 261.8 482 262.9 481.7 264 481.7 265.1 482 266.2 482.3 267.3 482.2 268.4 481.9 269.5 481.7 270.6 481.9 271.7 482.2 272.9 482.3 274 482.1 275.1 481.8 276.2 481.7 277.3 482 278.4 482.3 279.5 482.2 280.6 481.9 281.7 481.7 282.8 481.8 283.9 482.2 285 482.3 286.1 482.1 287.2 481.8 288.4 481.7 289.5 482 290.6 482.3 291.7 482.2 292.8 482 293.9 481.7 295 481.7 296.1 482 297.2 482.3 298.3 482.2 299.4 482 300.5 481.7 301.6 481.6 302.7 481.8 303.8 482.1 305 482.3 306.1 482.2 307.2 482 308.3 481.7 309.4 481.5 310.5 481.4 311.6 481.5 312.7 481.6 313.8 481.7 314.9 482 316 482.2" stroke="#2ca02c"/>
<path d="M210.2 480.4 211.3 480.4 212.4 480.3 213.5 480.2 214.6 480 215.7 479.9 216.8 479.8 217.9 479.7 219 479.6 220.1 479.6 221.2 479.6 222.3 479.8 223.4 480 224.5 480.3 225.7 480.4 226.8 480.5 227.9 480.4 229 480.1 230.1 479.9 231.2 479.7 232.3 479.8 233.4 480.1 234.5 480.3 235.6 480.5 236.7 480.4 237.8 480.1 238.9 479.9 240 479.8 241.1 480 242.2 480.3 243.3 480.5 244.4 480.4 245.5 480.1 246.6 479.9 247.7 479.9 248.8 480.2 249.9 480.5 251 480.4 252.1 480.1 253.2 479.9 254.3 480 255.4 480.3 256.5 480.5 257.6 480.4 258.7 480.1 259.8 479.9 260.9 480 262 480.4 263.1 480.5 264.2 480.3 265.3 480 266.4 479.9 267.5 480.2 268.6 480.5 269.7 480.4 270.8 480.1 272 479.9 273.1 480.1 274.2 480.4 275.3 480.5 276.4 480.2 277.5 479.9 278.6 480 279.7 480.3 280.8 480.5 281.9 480.3 283 480 284.1 480 285.2 480.2 286.3 480.5 287.4 480.4 288.5 480.1 289.6 479.9 290.7 480.1 291.8 480.4 292.9 480.5 294 480.3 295.1 480 296.2 479.9 297.3 480.2 298.4 480.4 299.5 480.5 300.6 480.2 301.7 479.9 302.8 479.8 303.9 480 305 480.3 306.1 480.5 307.2 480.4 308.3 480.2 309.4 479.9 310.5 479.7 311.6 479.7 312.7 479.7 313.8 479.9 314.9 479.9 316 480.2 317.1 480.4" stroke="#d62728"/>
<path d="M207.5 478.6 208.6 478.6 209.7 478.5 210.8 478.4 211.9 478.2 213 478.1 214.1 478 215.2 477.9 216.3 477.8 217.4 477.8 218.5 477.8 219.6 478 220.7 478.2 221.9 478.5 223 478.7 224.1 478.7 225.2 478.6 226.3 478.3 227.4 478.1 228.5 478 229.6 478.1 230.7 478.3 231.8 478.6 232.9 478.7 234 478.5 235.1 478.3 236.3 478.1 237.4 478.1 238.5 478.3 239.6 478.6 240.7 478.7 241.8 478.5 242.9 478.2 244 478.1 245.1 478.3 246.2 478.6 247.3 478.7 248.4 478.5 249.5 478.2 250.7 478.1 251.8 478.3 252.9 478.6 254 478.7 255.1 478.4 256.2 478.1 257.3 478.2 258.4 478.5 259.5 478.7 260.6 478.6 261.7 478.2 262.8 478.1 263.9 478.4 265.1 478.7 266.2 478.6 267.3 478.3 268.4 478.1 269.5 478.3 270.6 478.6 271.7 478.7 272.8 478.4 273.9 478.2 275 478.3 276.1 478.6 277.2 478.7 278.3 478.4 279.5 478.2 280.6 478.3 281.7 478.6 282.8 478.7 283.9 478.5 285 478.2 286.1 478.2 287.2 478.5 288.3 478.7 289.4 478.5 290.5 478.2 291.6 478.2 292.7 478.4 293.9 478.7 295 478.6 296.1 478.3 297.2 478.1 298.3 478.3 299.4 478.6 300.5 478.7 301.6 478.5 302.7 478.2 303.8 478.1 304.9 478.2 306 478.5 307.1 478.7 308.3 478.6 309.4 478.4 310.5 478.1 311.6 477.9 312.7 477.9 313.8 478 314.9 478.1 316 478.2 317.1 478.5 318.2 478.6" stroke="#9467bd"/>
<path d="M204.7 476.8 205.8 476.8 206.9 476.7 208 476.6 209.1 476.5 210.2 476.4 211.3 476.3 212.4 476.2 213.5 476.1 214.6 476 215.7 476.1 216.9 476.2 218 476.4 219.1 476.7 220.2 476.8 221.3 476.9 222.4 476.8 223.5 476.5 224.6 476.3 225.7 476.2 226.8 476.3 227.9 476.5 229 476.8 230.1 476.9 231.2 476.8 232.3 476.5 233.4 476.3 234.5 476.3 235.6 476.6 236.7 476.8 237.8 476.9 238.9 476.7 240 476.4 241.1 476.3 242.2 476.5 243.3 476.8 244.4 476.9 245.5 476.7 246.6 476.4 247.7 476.3 248.8 476.6 249.9 476.8 251 476.9 252.1 476.6 253.2 476.3 254.3 476.4 255.4 476.7 256.5 476.9 257.6 476.7 258.7 476.4 259.8 476.4 260.9 476.7 262 476.9 263.1 476.8 264.2 476.5 265.3 476.4 266.4 476.6 267.5 476.9 268.6 476.8 269.7 476.5 270.8 476.4 271.9 476.6 273 476.9 274.1 476.8 275.2 476.5 276.3 476.4 277.4 476.6 278.5 476.9 279.6 476.8 280.7 476.5 281.8 476.4 282.9 476.6 284 476.9 285.1 476.8 286.2 476.5 287.3 476.4 288.4 476.6 289.5 476.9 290.6 476.8 291.7 476.5 292.8 476.4 293.9 476.6 295 476.9 296.1 476.8 297.2 476.6 298.3 476.3 299.4 476.4 300.5 476.7 301.6 476.9 302.7 476.7 303.8 476.4 304.9 476.3 306 476.4 307.1 476.7 308.2 476.9 309.3 476.8 310.4 476.6 311.5 476.3 312.6 476.1 313.7 476.1 314.8 476.2 316 476.3 317.1 476.4 318.2 476.7 319.3 476.8" stroke="#8c564b"/>
<path d="M202.1 475.1 203.2 475 204.3 475 205.4 474.9 206.5 474.7 207.6 474.6 208.7 474.5 209.9 474.4 211 474.3 212.1 474.2 213.2 474.3 214.3 474.4 215.4 474.6 216.5 474.9 217.6 475.1 218.7 475.1 219.8 475 220.9 474.7 222 474.5 223.1 474.4 224.2 474.5 225.3 474.8 226.4 475 227.5 475.1 228.6 474.9 229.7 474.6 230.8 474.5 231.9 474.5 233 474.8 234.1 475.1 235.2 475 236.3 474.8 237.4 474.5 238.5 474.5 239.7 474.8 240.8 475.1 241.9 475 243 474.8 244.1 474.5 245.2 474.6 246.3 474.9 247.4 475.1 248.5 475 249.6 474.6 250.7 474.6 251.8 474.8 252.9 475.1 254 475 255.1 474.7 256.2 474.6 257.3 474.7 258.4 475 259.5 475.1 260.6 474.8 261.7 474.6 262.8 474.7 263.9 475 265 475 266.1 474.8 267.2 474.6 268.4 474.8 269.5 475.1 270.6 475 271.7 474.7 272.8 474.6 273.9 474.8 275 475.1 276.1 475 277.2 474.7 278.3 474.6 279.4 474.9 280.5 475.1 281.6 474.9 282.7 474.6 283.8 474.6 284.9 475 286 475.1 287.1 474.9 288.2 474.6 289.3 474.7 290.4 475 291.5 475.1 292.6 474.8 293.7 474.6 294.8 474.7 295.9 475 297.1 475.1 298.2 474.9 299.3 474.6 300.4 474.6 301.5 474.9 302.6 475.1 303.7 475 304.8 474.7 305.9 474.5 307 474.6 308.1 474.8 309.2 475.1 310.3 475.1 311.4 474.8 312.5 474.6 313.6 474.4 314.7 474.3 315.8 474.4 316.9 474.5 318 474.6 319.1 474.9 320.2 475" stroke="#e377c2"/>
<path d="M199.6 473.3 200.7 473.2 201.8 473.2 202.9 473.1 204 472.9 205.1 472.8 206.2 472.7 207.3 472.6 208.4 472.5 209.5 472.5 210.6 472.5 211.7 472.6 212.8 472.9 213.9 473.1 215 473.3 216.1 473.3 217.3 473.1 218.4 472.9 219.5 472.7 220.6 472.6 221.7 472.8 222.8 473 223.9 473.3 225 473.3 226.1 473.1 227.2 472.8 228.3 472.7 229.4 472.8 230.5 473.1 231.6 473.3 232.7 473.2 233.8 472.9 234.9 472.7 236.1 472.8 237.2 473.1 238.3 473.3 239.4 473.2 240.5 472.9 241.6 472.7 242.7 472.9 243.8 473.2 244.9 473.3 246 473 247.1 472.8 248.2 472.8 249.3 473.1 250.4 473.3 251.5 473.1 252.6 472.8 253.7 472.8 254.9 473.1 256 473.3 257.1 473.1 258.2 472.8 259.3 472.8 260.4 473.2 261.5 473.3 262.6 473.1 263.7 472.8 264.8 472.9 265.9 473.2 267 473.3 268.1 473 269.2 472.8 270.3 473 271.4 473.3 272.5 473.2 273.7 472.9 274.8 472.8 275.9 473.1 277 473.3 278.1 473.1 279.2 472.8 280.3 472.9 281.4 473.2 282.5 473.3 283.6 473 284.7 472.8 285.8 473 286.9 473.3 288 473.2 289.1 472.9 290.2 472.8 291.3 473.1 292.5 473.3 293.6 473.2 294.7 472.9 295.8 472.8 296.9 473.1 298 473.3 299.1 473.2 300.2 472.8 301.3 472.8 302.4 473 303.5 473.3 304.6 473.2 305.7 473 306.8 472.7 307.9 472.8 309 473 310.1 473.3 311.3 473.3 312.4 473 313.5 472.8 314.6 472.6 315.7 472.5 316.8 472.6 317.9 472.8 319 472.8 320.1 473.1 321.2 473.2" stroke="#7f7f7f"/>
<path d="M197 471.5 198.2 471.4 199.3 471.4 200.4 471.3 201.5 471.1 202.6 471 203.7 470.9 204.8 470.8 205.9 470.7 207 470.7 208.1 470.7 209.2 470.9 210.3 471.1 211.4 471.3 212.5 471.5 213.6 471.5 214.8 471.3 215.9 471.1 217 470.9 218.1 470.8 219.2 471 220.3 471.2 221.4 471.5 222.5 471.5 223.6 471.3 224.7 471 225.8 470.9 226.9 471 228 471.3 229.1 471.5 230.2 471.4 231.3 471.1 232.5 470.9 233.6 471.1 234.7 471.4 235.8 471.5 236.9 471.3 238 471 239.1 471 240.2 471.2 241.3 471.5 242.4 471.4 243.5 471.1 244.6 471 245.7 471.1 246.8 471.4 247.9 471.5 249.1 471.2 250.2 471 251.3 471.1 252.4 471.4 253.5 471.5 254.6 471.2 255.7 471 256.8 471.2 257.9 471.5 259 471.4 260.1 471.1 261.2 471 262.3 471.3 263.4 471.5 264.5 471.3 265.7 471 266.8 471.1 267.9 471.4 269 471.5 270.1 471.2 271.2 471 272.3 471.2 273.4 471.5 274.5 471.4 275.6 471.1 276.7 471.1 277.8 471.4 278.9 471.5 280 471.2 281.1 471 282.2 471.2 283.4 471.5 284.5 471.4 285.6 471.1 286.7 471.1 287.8 471.4 288.9 471.5 290 471.3 291.1 471 292.2 471.1 293.3 471.4 294.4 471.5 295.5 471.2 296.6 471 297.7 471.2 298.8 471.5 300 471.4 301.1 471.1 302.2 471 303.3 471.2 304.4 471.4 305.5 471.5 306.6 471.2 307.7 471 308.8 471 309.9 471.2 311 471.5 312.1 471.5 313.2 471.3 314.3 471 315.4 470.8 316.6 470.8 317.7 470.9 318.8 471 319.9 471.1 321 471.3 322.1 471.4" stroke="#bcbd22"/>
<path d="M194.6 469.7 195.7 469.6 196.8 469.6 197.9 469.5 199 469.3 200.1 469.2 201.2 469.1 202.3 469 203.4 468.9 204.5 468.9 205.6 468.9 206.8 469.1 207.9 469.3 209 469.5 210.1 469.7 211.2 469.7 212.3 469.5 213.4 469.3 214.5 469.1 215.6 469 216.7 469.2 217.8 469.5 218.9 469.7 220 469.7 221.1 469.4 222.3 469.2 223.4 469.1 224.5 469.3 225.6 469.6 226.7 469.7 227.8 469.5 228.9 469.3 230 469.1 231.1 469.3 232.2 469.6 233.3 469.7 234.4 469.5 235.5 469.2 236.6 469.2 237.7 469.5 238.9 469.7 240 469.6 241.1 469.3 242.2 469.2 243.3 469.4 244.4 469.7 245.5 469.6 246.6 469.3 247.7 469.2 248.8 469.5 249.9 469.7 251 469.6 252.1 469.3 253.2 469.2 254.3 469.5 255.5 469.7 256.6 469.5 257.7 469.2 258.8 469.3 259.9 469.6 261 469.7 262.1 469.4 263.2 469.2 264.3 469.5 265.4 469.7 266.5 469.5 267.6 469.2 268.7 469.3 269.8 469.6 270.9 469.7 272.1 469.4 273.2 469.2 274.3 469.5 275.4 469.7 276.5 469.5 277.6 469.2 278.7 469.4 279.8 469.7 280.9 469.6 282 469.3 283.1 469.3 284.2 469.6 285.3 469.7 286.4 469.4 287.5 469.2 288.7 469.4 289.8 469.7 290.9 469.6 292 469.3 293.1 469.3 294.2 469.6 295.3 469.7 296.4 469.5 297.5 469.2 298.6 469.3 299.7 469.6 300.8 469.7 301.9 469.4 303 469.2 304.1 469.3 305.3 469.6 306.4 469.7 307.5 469.4 308.6 469.2 309.7 469.2 310.8 469.4 311.9 469.7 313 469.7 314.1 469.5 315.2 469.2 316.3 469 317.4 469 318.5 469.1 319.6 469.2 320.7 469.3 321.9 469.6 323 469.6" stroke="#17becf"/>
<path d="M192.2 467.9 193.3 467.8 194.4 467.8 195.5 467.7 196.6 467.6 197.7 467.4 198.8 467.4 199.9 467.3 201 467.2 202.1 467.1 203.2 467.2 204.3 467.3 205.4 467.5 206.5 467.7 207.7 467.9 208.8 467.9 209.9 467.7 211 467.5 212.1 467.3 213.2 467.3 214.3 467.4 215.4 467.7 216.5 467.9 217.6 467.9 218.7 467.6 219.8 467.4 220.9 467.3 222 467.5 223.1 467.8 224.2 467.9 225.3 467.7 226.5 467.4 227.6 467.4 228.7 467.6 229.8 467.8 230.9 467.9 232 467.6 233.1 467.4 234.2 467.4 235.3 467.7 236.4 467.9 237.5 467.7 238.6 467.4 239.7 467.4 240.8 467.7 241.9 467.9 243 467.7 244.2 467.4 245.3 467.5 246.4 467.8 247.5 467.9 248.6 467.7 249.7 467.4 250.8 467.5 251.9 467.8 253 467.9 254.1 467.6 255.2 467.4 256.3 467.7 257.4 467.9 258.5 467.7 259.6 467.5 260.7 467.5 261.8 467.8 263 467.9 264.1 467.6 265.2 467.4 266.3 467.7 267.4 467.9 268.5 467.7 269.6 467.4 270.7 467.6 271.8 467.9 272.9 467.8 274 467.5 275.1 467.5 276.2 467.8 277.3 467.9 278.4 467.6 279.5 467.5 280.7 467.7 281.8 467.9 282.9 467.7 284 467.4 285.1 467.6 286.2 467.9 287.3 467.8 288.4 467.5 289.5 467.5 290.6 467.8 291.7 467.9 292.8 467.6 293.9 467.4 295 467.7 296.1 467.9 297.2 467.7 298.3 467.5 299.5 467.5 300.6 467.8 301.7 467.9 302.8 467.7 303.9 467.4 305 467.5 306.1 467.8 307.2 467.9 308.3 467.7 309.4 467.4 310.5 467.4 311.6 467.6 312.7 467.8 313.8 467.9 314.9 467.7 316 467.4 317.2 467.2 318.3 467.2 319.4 467.3 320.5 467.4 321.6 467.6 322.7 467.8 323.8 467.8" stroke="#1f77b4"/>
<path d="M189.8 466.1 190.9 466 192 466 193.1 465.9 194.2 465.8 195.3 465.7 196.4 465.6 197.5 465.5 198.6 465.4 199.7 465.3 200.9 465.4 202 465.5 203.1 465.7 204.2 465.9 205.3 466.1 206.4 466.1 207.5 465.9 208.6 465.7 209.7 465.5 210.8 465.5 211.9 465.6 213 465.9 214.1 466.1 215.2 466 216.3 465.8 217.4 465.6 218.5 465.5 219.6 465.7 220.7 466 221.8 466.1 223 465.9 224.1 465.6 225.2 465.6 226.3 465.8 227.4 466.1 228.5 466.1 229.6 465.8 230.7 465.6 231.8 465.7 232.9 466 234 466.1 235.1 465.9 236.2 465.6 237.3 465.7 238.4 466 239.5 466.1 240.6 465.9 241.7 465.6 242.8 465.7 243.9 466 245.1 466.1 246.2 465.8 247.3 465.6 248.4 465.8 249.5 466.1 250.6 466 251.7 465.7 252.8 465.7 253.9 466 255 466.1 256.1 465.8 257.2 465.6 258.3 465.9 259.4 466.1 260.5 465.9 261.6 465.7 262.7 465.8 263.8 466 264.9 466 266 465.7 267.2 465.7 268.3 466 269.4 466.1 270.5 465.8 271.6 465.7 272.7 465.9 273.8 466.1 274.9 465.9 276 465.7 277.1 465.8 278.2 466.1 279.3 466 280.4 465.7 281.5 465.8 282.6 466.1 283.7 466 284.8 465.7 285.9 465.7 287 466 288.1 466.1 289.3 465.8 290.4 465.7 291.5 465.9 292.6 466.1 293.7 465.9 294.8 465.6 295.9 465.8 297 466.1 298.1 466 299.2 465.7 300.3 465.7 301.4 465.9 302.5 466.1 303.6 465.9 304.7 465.6 305.8 465.7 306.9 466 308 466.1 309.1 465.9 310.3 465.6 311.4 465.6 312.5 465.8 313.6 466 314.7 466.1 315.8 465.9 316.9 465.6 318 465.4 319.1 465.4 320.2 465.5 321.3 465.6 322.4 465.8 323.5 466 324.6 466.1" stroke="#ff7f0e"/>
<path d="M187.5 464.3 188.6 464.2 189.7 464.2 190.8 464.1 191.9 464 193 463.9 194.1 463.8 195.2 463.7 196.3 463.6 197.4 463.6 198.5 463.6 199.6 463.7 200.7 463.9 201.8 464.1 202.9 464.3 204 464.3 205.1 464.2 206.2 463.9 207.3 463.7 208.5 463.7 209.6 463.8 210.7 464.1 211.8 464.3 212.9 464.2 214 464 215.1 463.8 216.2 463.7 217.3 464 218.4 464.2 219.5 464.3 220.6 464.1 221.7 463.8 222.8 463.8 223.9 464 225 464.3 226.1 464.2 227.2 464 228.3 463.8 229.4 463.9 230.5 464.2 231.6 464.3 232.7 464 233.8 463.8 234.9 463.9 236 464.2 237.1 464.3 238.2 464 239.3 463.8 240.4 464 241.5 464.3 242.7 464.2 243.8 463.9 244.9 463.9 246 464.1 247.1 464.3 248.2 464.1 249.3 463.9 250.4 464 251.5 464.3 252.6 464.2 253.7 463.9 254.8 463.9 255.9 464.2 257 464.3 258.1 464 259.2 463.9 260.3 464.1 261.4 464.3 262.5 464.1 263.6 463.9 264.7 464 265.8 464.3 266.9 464.2 268 463.9 269.1 464 270.2 464.3 271.3 464.2 272.4 463.9 273.5 463.9 274.6 464.2 275.7 464.3 276.9 464 278 463.9 279.1 464.2 280.2 464.3 281.3 464 282.4 463.9 283.5 464.2 284.6 464.3 285.7 464 286.8 463.9 287.9 464.1 289 464.3 290.1 464.1 291.2 463.9 292.3 464 293.4 464.3 294.5 464.2 295.6 463.9 296.7 463.9 297.8 464.2 298.9 464.3 300 464 301.1 463.8 302.2 464.1 303.3 464.3 304.4 464.1 305.5 463.9 306.6 463.9 307.7 464.1 308.8 464.3 309.9 464.1 311.1 463.8 312.2 463.8 313.3 464 314.4 464.2 315.5 464.3 316.6 464.1 317.7 463.8 318.8 463.6 319.9 463.6 321 463.7 322.1 463.8 323.2 464 324.3 464.2 325.4 464.3" stroke="#2ca02c"/>
<path d="M185.2 462.5 186.3 462.4 187.4 462.4 188.5 462.3 189.6 462.2 190.7 462.1 191.8 462 192.9 461.9 194 461.8 195.1 461.8 196.2 461.8 197.3 461.9 198.4 462.1 199.5 462.3 200.6 462.5 201.7 462.5 202.8 462.4 203.9 462.1 205 461.9 206.1 461.9 207.2 462 208.3 462.3 209.4 462.5 210.5 462.4 211.6 462.2 212.7 462 213.8 462 214.9 462.2 216 462.4 217.1 462.5 218.2 462.3 219.3 462 220.4 462 221.5 462.2 222.6 462.5 223.7 462.4 224.8 462.1 225.9 462 227 462.2 228.1 462.4 229.2 462.5 230.3 462.2 231.4 462 232.5 462.2 233.6 462.4 234.7 462.5 235.8 462.2 236.9 462 238 462.2 239.1 462.5 240.3 462.4 241.4 462.1 242.5 462.1 243.6 462.4 244.7 462.5 245.8 462.2 246.9 462 248 462.2 249.1 462.5 250.2 462.4 251.3 462.1 252.4 462.1 253.5 462.4 254.6 462.4 255.7 462.1 256.8 462.1 257.9 462.4 259 462.5 260.1 462.2 261.2 462.1 262.3 462.3 263.4 462.5 264.5 462.3 265.6 462.1 266.7 462.3 267.8 462.5 268.9 462.3 270 462.1 271.1 462.3 272.2 462.5 273.3 462.3 274.4 462.1 275.5 462.3 276.6 462.5 277.7 462.3 278.8 462.1 279.9 462.2 281 462.5 282.1 462.3 283.2 462.1 284.3 462.2 285.4 462.5 286.5 462.4 287.6 462.1 288.7 462.2 289.8 462.5 290.9 462.4 292 462.1 293.1 462.2 294.2 462.5 295.3 462.4 296.4 462.1 297.5 462.1 298.6 462.4 299.7 462.5 300.8 462.2 301.9 462 303 462.3 304.1 462.5 305.2 462.4 306.3 462.1 307.4 462.1 308.5 462.3 309.6 462.5 310.7 462.3 311.8 462.1 313 462 314.1 462.2 315.2 462.4 316.3 462.5 317.4 462.3 318.5 462 319.6 461.9 320.7 461.9 321.8 462 322.9 462.1 324 462.2 325.1 462.4 326.2 462.5" stroke="#d62728"/>
<path d="M183 460.7 184.1 460.6 185.2 460.6 186.3 460.5 187.4 460.4 188.5 460.3 189.6 460.2 190.7 460.1 191.8 460 192.9 460 194 460 195.1 460.1 196.2 460.3 197.4 460.5 198.5 460.7 199.6 460.7 200.7 460.5 201.8 460.3 202.9 460.1 204 460.1 205.1 460.3 206.2 460.5 207.3 460.7 208.4 460.6 209.5 460.4 210.6 460.2 211.7 460.2 212.9 460.4 214 460.7 215.1 460.6 216.2 460.4 217.3 460.2 218.4 460.3 219.5 460.5 220.6 460.7 221.7 460.5 222.8 460.3 223.9 460.2 225 460.5 226.1 460.7 227.2 460.6 228.4 460.3 229.5 460.2 230.6 460.5 231.7 460.7 232.8 460.5 233.9 460.3 235 460.3 236.1 460.6 237.2 460.7 238.3 460.4 239.4 460.2 240.5 460.4 241.6 460.7 242.7 460.6 243.9 460.3 245 460.3 246.1 460.6 247.2 460.6 248.3 460.4 249.4 460.3 250.5 460.6 251.6 460.7 252.7 460.4 253.8 460.3 254.9 460.5 256 460.7 257.1 460.5 258.3 460.3 259.4 460.5 260.5 460.7 261.6 460.5 262.7 460.3 263.8 460.5 264.9 460.7 266 460.5 267.1 460.3 268.2 460.5 269.3 460.7 270.4 460.5 271.5 460.3 272.6 460.5 273.8 460.7 274.9 460.5 276 460.3 277.1 460.5 278.2 460.7 279.3 460.5 280.4 460.3 281.5 460.5 282.6 460.7 283.7 460.4 284.8 460.3 285.9 460.5 287 460.7 288.1 460.4 289.3 460.3 290.4 460.6 291.5 460.7 292.6 460.4 293.7 460.3 294.8 460.5 295.9 460.7 297 460.5 298.1 460.3 299.2 460.5 300.3 460.7 301.4 460.5 302.5 460.3 303.6 460.4 304.8 460.7 305.9 460.6 307 460.3 308.1 460.2 309.2 460.5 310.3 460.7 311.4 460.6 312.5 460.3 313.6 460.2 314.7 460.4 315.8 460.6 316.9 460.7 318 460.5 319.1 460.2 320.3 460.1 321.4 460.1 322.5 460.2 323.6 460.3 324.7 460.5 325.8 460.6 326.9 460.7" stroke="#9467bd"/>
<path d="M180.7 458.9 181.9 458.8 183 458.8 184.1 458.8 185.2 458.6 186.3 458.5 187.4 458.4 188.5 458.3 189.6 458.2 190.7 458.2 191.8 458.2 192.9 458.3 194 458.5 195.1 458.7 196.2 458.9 197.3 458.9 198.4 458.7 199.5 458.5 200.6 458.3 201.7 458.3 202.8 458.5 203.9 458.7 205 458.9 206.1 458.8 207.3 458.6 208.4 458.4 209.5 458.4 210.6 458.6 211.7 458.9 212.8 458.8 213.9 458.6 215 458.4 216.1 458.5 217.2 458.7 218.3 458.9 219.4 458.7 220.5 458.5 221.6 458.4 222.7 458.7 223.8 458.9 224.9 458.8 226 458.5 227.1 458.5 228.2 458.7 229.3 458.9 230.4 458.7 231.5 458.5 232.7 458.5 233.8 458.8 234.9 458.9 236 458.6 237.1 458.5 238.2 458.7 239.3 458.9 240.4 458.7 241.5 458.5 242.6 458.6 243.7 458.9 244.8 458.8 245.9 458.5 247 458.5 248.1 458.8 249.2 458.9 250.3 458.6 251.4 458.5 252.5 458.8 253.6 458.9 254.7 458.6 255.8 458.5 256.9 458.8 258.1 458.9 259.2 458.6 260.3 458.5 261.4 458.8 262.5 458.9 263.6 458.6 264.7 458.5 265.8 458.8 266.9 458.9 268 458.6 269.1 458.5 270.2 458.8 271.3 458.8 272.4 458.6 273.5 458.6 274.6 458.8 275.7 458.8 276.8 458.5 277.9 458.6 279 458.9 280.1 458.8 281.2 458.5 282.3 458.6 283.4 458.9 284.6 458.7 285.7 458.5 286.8 458.7 287.9 458.9 289 458.7 290.1 458.5 291.2 458.7 292.3 458.9 293.4 458.7 294.5 458.5 295.6 458.7 296.7 458.9 297.8 458.7 298.9 458.5 300 458.6 301.1 458.9 302.2 458.8 303.3 458.5 304.4 458.6 305.5 458.8 306.6 458.8 307.7 458.6 308.8 458.4 310 458.7 311.1 458.9 312.2 458.8 313.3 458.5 314.4 458.4 315.5 458.6 316.6 458.8 317.7 458.9 318.8 458.7 319.9 458.4 321 458.3 322.1 458.3 323.2 458.4 324.3 458.5 325.4 458.7 326.5 458.8 327.6 458.9" stroke="#8c564b"/>
<path d="M178.5 457.1 179.6 457 180.7 457 181.8 457 182.9 456.9 184 456.7 185.1 456.6 186.2 456.6 187.3 456.5 188.4 456.4 189.5 456.4 190.6 456.5 191.7 456.7 192.8 456.9 194 457.1 195.1 457.1 196.2 457 197.3 456.7 198.4 456.5 199.5 456.5 200.6 456.7 201.7 456.9 202.8 457.1 203.9 457 205 456.8 206.1 456.6 207.2 456.6 208.3 456.8 209.4 457.1 210.5 457 211.6 456.8 212.7 456.6 213.8 456.7 214.9 456.9 216 457.1 217.1 456.9 218.2 456.7 219.3 456.6 220.4 456.9 221.5 457.1 222.6 457 223.7 456.7 224.8 456.7 225.9 456.9 227 457.1 228.1 456.9 229.2 456.7 230.3 456.7 231.4 457 232.5 457.1 233.6 456.8 234.7 456.7 235.8 456.9 236.9 457.1 238 456.9 239.1 456.7 240.2 456.8 241.3 457.1 242.4 457 243.5 456.7 244.6 456.8 245.7 457 246.8 457 247.9 456.7 249 456.7 250.1 457 251.2 457 252.3 456.8 253.4 456.7 254.5 457 255.6 457 256.7 456.8 257.8 456.7 258.9 457 260 457 261.1 456.7 262.2 456.8 263.3 457.1 264.4 457 265.5 456.7 266.6 456.8 267.7 457.1 268.8 457 269.9 456.7 271 456.9 272.1 457.1 273.2 456.9 274.3 456.7 275.4 456.9 276.5 457.1 277.6 456.8 278.7 456.7 279.8 457 280.9 457.1 282 456.8 283.1 456.7 284.3 457 285.4 457 286.5 456.7 287.6 456.8 288.7 457.1 289.8 457 290.9 456.7 292 456.8 293.1 457.1 294.2 457 295.3 456.7 296.4 456.8 297.5 457.1 298.6 457 299.7 456.7 300.8 456.8 301.9 457.1 303 457 304.1 456.7 305.2 456.7 306.3 457 307.4 457.1 308.5 456.8 309.6 456.6 310.7 456.8 311.8 457.1 312.9 457 314 456.7 315.1 456.6 316.2 456.8 317.3 457 318.4 457.1 319.5 456.9 320.6 456.6 321.7 456.5 322.8 456.5 323.9 456.6 325 456.7 326.1 456.9 327.2 457 328.3 457.1" stroke="#e377c2"/>
<path d="M176.4 455.3 177.5 455.2 178.6 455.2 179.7 455.2 180.8 455.1 181.9 454.9 183 454.9 184.1 454.8 185.2 454.7 186.3 454.6 187.4 454.6 188.5 454.7 189.6 454.9 190.7 455.1 191.9 455.3 193 455.3 194.1 455.1 195.2 454.9 196.3 454.7 197.4 454.7 198.5 454.9 199.6 455.2 200.7 455.3 201.8 455.2 202.9 454.9 204 454.8 205.1 454.8 206.2 455.1 207.3 455.3 208.4 455.2 209.5 455 210.7 454.8 211.8 454.9 212.9 455.2 214 455.3 215.1 455.1 216.2 454.8 217.3 454.9 218.4 455.2 219.5 455.3 220.6 455.1 221.7 454.8 222.8 454.9 223.9 455.2 225 455.3 226.1 455 227.2 454.8 228.3 455.1 229.5 455.3 230.6 455.2 231.7 454.9 232.8 454.9 233.9 455.2 235 455.2 236.1 455 237.2 454.9 238.3 455.2 239.4 455.3 240.5 455 241.6 454.9 242.7 455.1 243.8 455.3 244.9 455.1 246 454.9 247.1 455.1 248.2 455.3 249.4 455.1 250.5 454.9 251.6 455.1 252.7 455.3 253.8 455 254.9 454.9 256 455.1 257.1 455.3 258.2 455 259.3 454.9 260.4 455.2 261.5 455.3 262.6 455 263.7 455 264.8 455.2 265.9 455.2 267 454.9 268.2 455 269.3 455.3 270.4 455.1 271.5 454.9 272.6 455.1 273.7 455.3 274.8 455 275.9 454.9 277 455.2 278.1 455.3 279.2 455 280.3 455 281.4 455.3 282.5 455.2 283.6 454.9 284.7 455 285.8 455.3 287 455.1 288.1 454.9 289.2 455.1 290.3 455.3 291.4 455 292.5 454.9 293.6 455.2 294.7 455.3 295.8 455 296.9 454.9 298 455.2 299.1 455.2 300.2 455 301.3 454.9 302.4 455.2 303.5 455.3 304.6 455 305.8 454.9 306.9 455.2 308 455.3 309.1 455 310.2 454.8 311.3 455 312.4 455.3 313.5 455.2 314.6 454.9 315.7 454.8 316.8 455 317.9 455.2 319 455.3 320.1 455.1 321.2 454.8 322.3 454.7 323.4 454.7 324.6 454.8 325.7 454.9 326.8 455.1 327.9 455.2 329 455.3" stroke="#7f7f7f"/>
<path d="M174.3 453.5 175.4 453.4 176.5 453.4 177.6 453.4 178.7 453.3 179.8 453.1 180.9 453.1 182 453 183.1 452.9 184.2 452.8 185.3 452.8 186.4 452.9 187.5 453.1 188.6 453.3 189.7 453.4 190.8 453.5 191.9 453.4 193 453.1 194.1 452.9 195.2 452.9 196.3 453.1 197.4 453.3 198.5 453.5 199.6 453.4 200.7 453.2 201.8 453 202.9 453 204 453.3 205.1 453.5 206.2 453.4 207.3 453.2 208.4 453 209.5 453.1 210.6 453.4 211.7 453.5 212.8 453.3 213.9 453 215 453.1 216.1 453.4 217.2 453.5 218.3 453.3 219.4 453 220.5 453.1 221.6 453.4 222.7 453.5 223.9 453.2 225 453 226.1 453.3 227.2 453.5 228.3 453.3 229.4 453.1 230.5 453.1 231.6 453.4 232.7 453.4 233.8 453.1 234.9 453.1 236 453.4 237.1 453.5 238.2 453.2 239.3 453.1 240.4 453.3 241.5 453.5 242.6 453.2 243.7 453.1 244.8 453.3 245.9 453.5 247 453.2 248.1 453.1 249.2 453.4 250.3 453.5 251.4 453.2 252.5 453.1 253.6 453.4 254.7 453.4 255.8 453.2 256.9 453.1 258 453.4 259.1 453.4 260.2 453.1 261.3 453.2 262.4 453.5 263.5 453.3 264.6 453.1 265.7 453.3 266.8 453.5 267.9 453.2 269 453.1 270.1 453.4 271.2 453.4 272.3 453.2 273.4 453.2 274.5 453.5 275.7 453.4 276.8 453.1 277.9 453.3 279 453.5 280.1 453.3 281.2 453.1 282.3 453.4 283.4 453.5 284.5 453.2 285.6 453.2 286.7 453.5 287.8 453.4 288.9 453.1 290 453.3 291.1 453.5 292.2 453.3 293.3 453.1 294.4 453.3 295.5 453.5 296.6 453.2 297.7 453.1 298.8 453.4 299.9 453.5 301 453.2 302.1 453.1 303.2 453.4 304.3 453.5 305.4 453.2 306.5 453.1 307.6 453.3 308.7 453.5 309.8 453.2 310.9 453 312 453.2 313.1 453.5 314.2 453.4 315.3 453.1 316.4 453 317.5 453.2 318.6 453.4 319.7 453.5 320.8 453.3 321.9 453 323 452.9 324.1 452.9 325.2 453 326.3 453.1 327.4 453.3 328.6 453.4 329.7 453.5" stroke="#bcbd22"/>
<path d="M172.2 451.7 173.3 451.6 174.4 451.6 175.5 451.6 176.6 451.5 177.7 451.3 178.8 451.3 179.9 451.2 181 451.1 182.1 451 183.2 451 184.4 451.1 185.5 451.3 186.6 451.5 187.7 451.6 188.8 451.7 189.9 451.5 191 451.3 192.1 451.1 193.2 451.1 194.3 451.3 195.4 451.6 196.5 451.7 197.6 451.6 198.7 451.3 199.8 451.2 200.9 451.2 202 451.5 203.1 451.7 204.3 451.6 205.4 451.3 206.5 451.2 207.6 451.4 208.7 451.6 209.8 451.7 210.9 451.4 212 451.2 213.1 451.3 214.2 451.6 215.3 451.7 216.4 451.4 217.5 451.2 218.6 451.4 219.7 451.7 220.8 451.6 221.9 451.3 223 451.3 224.2 451.6 225.3 451.7 226.4 451.4 227.5 451.3 228.6 451.5 229.7 451.7 230.8 451.5 231.9 451.3 233 451.4 234.1 451.7 235.2 451.6 236.3 451.3 237.4 451.4 238.5 451.7 239.6 451.6 240.7 451.3 241.8 451.4 242.9 451.7 244 451.6 245.2 451.3 246.3 451.4 247.4 451.7 248.5 451.5 249.6 451.3 250.7 451.5 251.8 451.7 252.9 451.5 254 451.3 255.1 451.5 256.2 451.7 257.3 451.4 258.4 451.3 259.5 451.6 260.6 451.6 261.7 451.3 262.8 451.4 263.9 451.7 265.1 451.5 266.2 451.3 267.3 451.5 268.4 451.7 269.5 451.4 270.6 451.4 271.7 451.6 272.8 451.6 273.9 451.3 275 451.5 276.1 451.7 277.2 451.5 278.3 451.3 279.4 451.6 280.5 451.6 281.6 451.3 282.7 451.4 283.8 451.7 285 451.5 286.1 451.3 287.2 451.5 288.3 451.7 289.4 451.4 290.5 451.3 291.6 451.6 292.7 451.6 293.8 451.3 294.9 451.4 296 451.7 297.1 451.5 298.2 451.3 299.3 451.5 300.4 451.7 301.5 451.5 302.6 451.3 303.7 451.5 304.9 451.7 306 451.4 307.1 451.3 308.2 451.5 309.3 451.7 310.4 451.5 311.5 451.3 312.6 451.4 313.7 451.6 314.8 451.6 315.9 451.4 317 451.2 318.1 451.4 319.2 451.6 320.3 451.7 321.4 451.5 322.5 451.2 323.6 451.1 324.8 451.1 325.9 451.2 327 451.3 328.1 451.5 329.2 451.6 330.3 451.7" stroke="#17becf"/>
<path d="M170.1 449.9 171.2 449.8 172.3 449.8 173.4 449.8 174.5 449.7 175.6 449.5 176.7 449.5 177.8 449.4 178.9 449.3 180 449.2 181.1 449.2 182.2 449.3 183.3 449.5 184.4 449.7 185.5 449.8 186.6 449.9 187.7 449.8 188.8 449.5 189.9 449.4 191.1 449.3 192.2 449.5 193.3 449.7 194.4 449.9 195.5 449.8 196.6 449.5 197.7 449.4 198.8 449.4 199.9 449.7 201 449.9 202.1 449.8 203.2 449.5 204.3 449.4 205.4 449.5 206.5 449.8 207.6 449.9 208.7 449.6 209.8 449.4 210.9 449.5 212 449.8 213.1 449.9 214.2 449.6 215.3 449.4 216.4 449.6 217.5 449.9 218.6 449.8 219.7 449.5 220.8 449.5 221.9 449.7 223 449.9 224.1 449.6 225.2 449.5 226.3 449.6 227.4 449.9 228.5 449.7 229.6 449.5 230.7 449.6 231.8 449.9 232.9 449.8 234 449.5 235.1 449.6 236.2 449.9 237.3 449.8 238.4 449.5 239.5 449.6 240.6 449.9 241.7 449.8 242.8 449.5 243.9 449.6 245 449.9 246.1 449.7 247.2 449.5 248.3 449.7 249.4 449.9 250.5 449.6 251.6 449.5 252.7 449.8 253.8 449.8 254.9 449.6 256 449.6 257.1 449.8 258.2 449.8 259.3 449.5 260.4 449.7 261.5 449.9 262.6 449.7 263.7 449.5 264.8 449.8 265.9 449.8 267 449.5 268.1 449.6 269.2 449.9 270.3 449.7 271.4 449.5 272.5 449.7 273.6 449.9 274.7 449.6 275.8 449.6 276.9 449.9 278 449.8 279.1 449.5 280.3 449.7 281.4 449.9 282.5 449.6 283.6 449.5 284.7 449.8 285.8 449.8 286.9 449.5 288 449.7 289.1 449.9 290.2 449.7 291.3 449.5 292.4 449.8 293.5 449.8 294.6 449.5 295.7 449.6 296.8 449.9 297.9 449.8 299 449.5 300.1 449.6 301.2 449.9 302.3 449.7 303.4 449.5 304.5 449.7 305.6 449.9 306.7 449.7 307.8 449.5 308.9 449.7 310 449.9 311.1 449.7 312.2 449.5 313.3 449.6 314.4 449.8 315.5 449.8 316.6 449.5 317.7 449.4 318.8 449.6 319.9 449.8 321 449.9 322.1 449.7 323.2 449.4 324.3 449.3 325.4 449.3 326.5 449.4 327.6 449.5 328.7 449.7 329.8 449.8 330.9 449.9" stroke="#1f77b4"/>
<path d="M168.1 448.1 169.2 448 170.3 448 171.4 448 172.5 447.9 173.6 447.7 174.7 447.7 175.8 447.6 176.9 447.5 178.1 447.4 179.2 447.4 180.3 447.5 181.4 447.7 182.5 447.9 183.6 448 184.7 448.1 185.8 447.9 186.9 447.7 188 447.5 189.1 447.5 190.2 447.7 191.3 448 192.4 448.1 193.5 448 194.6 447.7 195.7 447.6 196.8 447.7 197.9 447.9 199 448.1 200.1 447.9 201.2 447.7 202.3 447.6 203.4 447.8 204.6 448 205.7 448 206.8 447.8 207.9 447.6 209 447.8 210.1 448 211.2 448 212.3 447.7 213.4 447.6 214.5 447.9 215.6 448.1 216.7 447.9 217.8 447.7 218.9 447.7 220 448 221.1 448 222.2 447.7 223.3 447.7 224.4 447.9 225.5 448.1 226.6 447.8 227.7 447.7 228.8 447.9 229.9 448.1 231.1 447.8 232.2 447.7 233.3 447.9 234.4 448.1 235.5 447.8 236.6 447.7 237.7 447.9 238.8 448.1 239.9 447.8 241 447.7 242.1 448 243.2 448 244.3 447.8 245.4 447.7 246.5 448 247.6 448 248.7 447.7 249.8 447.8 250.9 448.1 252 447.9 253.1 447.7 254.2 447.9 255.3 448 256.4 447.8 257.6 447.8 258.7 448 259.8 448 260.9 447.7 262 447.9 263.1 448.1 264.2 447.8 265.3 447.7 266.4 448 267.5 448 268.6 447.7 269.7 447.9 270.8 448.1 271.9 447.8 273 447.7 274.1 448 275.2 448 276.3 447.7 277.4 447.9 278.5 448.1 279.6 447.8 280.7 447.7 281.8 448 282.9 448 284.1 447.7 285.2 447.9 286.3 448.1 287.4 447.8 288.5 447.7 289.6 448 290.7 448 291.8 447.7 292.9 447.9 294 448.1 295.1 447.8 296.2 447.7 297.3 448 298.4 448 299.5 447.7 300.6 447.8 301.7 448 302.8 447.9 303.9 447.7 305 447.8 306.1 448.1 307.2 447.9 308.3 447.7 309.5 447.8 310.6 448.1 311.7 447.9 312.8 447.7 313.9 447.7 315 448 316.1 448 317.2 447.8 318.3 447.6 319.4 447.8 320.5 448 321.6 448.1 322.7 447.8 323.8 447.6 324.9 447.5 326 447.5 327.1 447.6 328.2 447.7 329.3 447.9 330.4 448 331.5 448" stroke="#ff7f0e"/>
<path d="M166.1 446.2 167.3 446.2 168.4 446.2 169.5 446.2 170.6 446.1 171.7 446 172.8 445.9 173.9 445.8 175 445.7 176.1 445.6 177.2 445.6 178.3 445.7 179.4 445.9 180.5 446.1 181.6 446.2 182.7 446.3 183.9 446.1 185 445.9 186.1 445.7 187.2 445.7 188.3 445.9 189.4 446.2 190.5 446.3 191.6 446.1 192.7 445.9 193.8 445.8 194.9 445.9 196 446.1 197.1 446.3 198.2 446.1 199.4 445.8 200.5 445.8 201.6 446 202.7 446.3 203.8 446.2 204.9 445.9 206 445.8 207.1 446 208.2 446.3 209.3 446.2 210.4 445.9 211.5 445.9 212.6 446.1 213.7 446.3 214.8 446 216 445.8 217.1 446 218.2 446.3 219.3 446.1 220.4 445.9 221.5 445.9 222.6 446.2 223.7 446.2 224.8 445.9 225.9 445.9 227 446.2 228.1 446.2 229.2 445.9 230.3 445.9 231.4 446.2 232.6 446.2 233.7 445.9 234.8 445.9 235.9 446.2 237 446.2 238.1 445.9 239.2 446 240.3 446.3 241.4 446.1 242.5 445.9 243.6 446.1 244.7 446.3 245.8 446 246.9 445.9 248 446.2 249.2 446.2 250.3 445.9 251.4 446 252.5 446.3 253.6 446.1 254.7 445.9 255.8 446.1 256.9 446.2 258 445.9 259.1 446 260.2 446.3 261.3 446.1 262.4 445.9 263.5 446.1 264.6 446.2 265.8 445.9 266.9 446 268 446.3 269.1 446.1 270.2 445.9 271.3 446.2 272.4 446.2 273.5 445.9 274.6 446 275.7 446.3 276.8 446 277.9 445.9 279 446.2 280.1 446.2 281.3 445.9 282.4 446.1 283.5 446.3 284.6 446 285.7 446 286.8 446.2 287.9 446.1 289 445.9 290.1 446.1 291.2 446.2 292.3 446 293.4 446 294.5 446.2 295.6 446.1 296.7 445.9 297.9 446.1 299 446.3 300.1 446 301.2 445.9 302.3 446.2 303.4 446.2 304.5 445.9 305.6 446 306.7 446.2 307.8 446.1 308.9 445.9 310 446 311.1 446.3 312.2 446.1 313.3 445.9 314.5 445.9 315.6 446.2 316.7 446.2 317.8 446 318.9 445.8 320 446 321.1 446.2 322.2 446.2 323.3 446 324.4 445.8 325.5 445.7 326.6 445.7 327.7 445.9 328.8 445.9 329.9 446.1 331.1 446.2 332.2 446.2" stroke="#2ca02c"/>
<path d="M164.2 444.4 165.3 444.4 166.4 444.4 167.5 444.4 168.6 444.3 169.7 444.2 170.8 444.1 171.9 444 173 443.9 174.1 443.8 175.2 443.8 176.3 443.9 177.5 444.1 178.6 444.3 179.7 444.4 180.8 444.5 181.9 444.3 183 444.1 184.1 443.9 185.2 443.9 186.3 444.1 187.4 444.3 188.5 444.5 189.6 444.3 190.7 444.1 191.8 444 192.9 444.1 194 444.3 195.1 444.5 196.2 444.3 197.3 444.1 198.4 444 199.5 444.2 200.6 444.4 201.7 444.4 202.8 444.1 203.9 444 205 444.2 206.1 444.4 207.2 444.4 208.3 444.1 209.4 444.1 210.5 444.3 211.6 444.5 212.7 444.2 213.8 444 214.9 444.2 216 444.4 217.1 444.4 218.2 444.1 219.3 444.1 220.4 444.4 221.5 444.4 222.6 444.1 223.7 444.1 224.8 444.4 225.9 444.4 227 444.1 228.1 444.1 229.2 444.4 230.3 444.4 231.4 444.1 232.5 444.1 233.6 444.4 234.7 444.4 235.8 444.1 236.9 444.2 238 444.4 239.1 444.3 240.2 444.1 241.3 444.3 242.4 444.5 243.5 444.2 244.6 444.1 245.7 444.4 246.8 444.4 247.9 444.1 249 444.2 250.1 444.5 251.2 444.3 252.3 444.1 253.4 444.4 254.5 444.4 255.6 444.1 256.7 444.2 257.8 444.5 258.9 444.3 260.1 444.1 261.2 444.4 262.3 444.4 263.4 444.1 264.5 444.2 265.6 444.5 266.7 444.2 267.8 444.1 268.9 444.4 270 444.4 271.1 444.1 272.2 444.3 273.3 444.5 274.4 444.2 275.5 444.2 276.6 444.4 277.7 444.3 278.8 444.1 279.9 444.3 281 444.4 282.1 444.1 283.2 444.2 284.3 444.5 285.4 444.2 286.5 444.1 287.6 444.4 288.7 444.4 289.8 444.1 290.9 444.3 292 444.5 293.1 444.2 294.2 444.1 295.3 444.4 296.4 444.4 297.5 444.1 298.6 444.3 299.7 444.5 300.8 444.2 301.9 444.1 303 444.4 304.1 444.4 305.2 444.1 306.3 444.2 307.4 444.4 308.5 444.3 309.6 444.1 310.7 444.2 311.8 444.4 312.9 444.3 314 444.1 315.1 444.1 316.2 444.4 317.3 444.4 318.4 444.1 319.5 444 320.6 444.2 321.7 444.4 322.8 444.4 323.9 444.2 325 444 326.1 443.9 327.2 443.9 328.3 444.1 329.4 444.2 330.5 444.3 331.6 444.4 332.7 444.4" stroke="#d62728"/>
<path d="M162.3 442.6 163.4 442.6 164.5 442.6 165.6 442.6 166.7 442.5 167.8 442.4 168.9 442.3 170 442.2 171.1 442.1 172.2 442 173.4 442 174.5 442.1 175.6 442.3 176.7 442.5 177.8 442.6 178.9 442.6 180 442.5 181.1 442.3 182.2 442.1 183.3 442.1 184.4 442.3 185.5 442.6 186.6 442.6 187.7 442.5 188.8 442.3 189.9 442.2 191 442.3 192.1 442.5 193.2 442.6 194.3 442.5 195.4 442.2 196.5 442.2 197.6 442.4 198.7 442.6 199.8 442.5 200.9 442.3 202 442.2 203.1 442.5 204.2 442.6 205.3 442.5 206.4 442.2 207.6 442.3 208.7 442.6 209.8 442.6 210.9 442.4 212 442.2 213.1 442.5 214.2 442.6 215.3 442.5 216.4 442.2 217.5 442.4 218.6 442.6 219.7 442.5 220.8 442.3 221.9 442.4 223 442.6 224.1 442.5 225.2 442.3 226.3 442.4 227.4 442.6 228.5 442.5 229.6 442.3 230.7 442.4 231.8 442.6 232.9 442.4 234 442.3 235.1 442.5 236.2 442.6 237.3 442.4 238.4 442.3 239.5 442.6 240.6 442.6 241.8 442.3 242.9 442.4 244 442.6 245.1 442.4 246.2 442.3 247.3 442.6 248.4 442.6 249.5 442.3 250.6 442.4 251.7 442.6 252.8 442.5 253.9 442.3 255 442.6 256.1 442.6 257.2 442.3 258.3 442.4 259.4 442.6 260.5 442.4 261.6 442.3 262.7 442.6 263.8 442.5 264.9 442.3 266 442.5 267.1 442.6 268.2 442.4 269.3 442.4 270.4 442.6 271.5 442.5 272.6 442.3 273.7 442.6 274.8 442.6 275.9 442.3 277.1 442.5 278.2 442.6 279.3 442.4 280.4 442.4 281.5 442.6 282.6 442.5 283.7 442.3 284.8 442.6 285.9 442.6 287 442.3 288.1 442.5 289.2 442.6 290.3 442.4 291.4 442.4 292.5 442.6 293.6 442.5 294.7 442.3 295.8 442.5 296.9 442.6 298 442.3 299.1 442.4 300.2 442.6 301.3 442.5 302.4 442.3 303.5 442.5 304.6 442.6 305.7 442.3 306.8 442.3 307.9 442.6 309 442.6 310.1 442.3 311.3 442.4 312.4 442.6 313.5 442.6 314.6 442.3 315.7 442.3 316.8 442.6 317.9 442.6 319 442.4 320.1 442.2 321.2 442.4 322.3 442.6 323.4 442.6 324.5 442.4 325.6 442.2 326.7 442.1 327.8 442.1 328.9 442.3 330 442.4 331.1 442.5 332.2 442.6 333.3 442.6" stroke="#9467bd"/>
<path d="M160.4 440.8 161.5 440.8 162.6 440.8 163.7 440.8 164.8 440.7 165.9 440.6 167 440.5 168.1 440.4 169.2 440.3 170.4 440.2 171.5 440.2 172.6 440.3 173.7 440.5 174.8 440.6 175.9 440.8 177 440.8 178.1 440.7 179.2 440.5 180.3 440.3 181.4 440.3 182.5 440.5 183.6 440.8 184.7 440.8 185.8 440.7 186.9 440.5 188 440.3 189.1 440.5 190.2 440.8 191.3 440.8 192.5 440.6 193.6 440.4 194.7 440.4 195.8 440.7 196.9 440.8 198 440.7 199.1 440.4 200.2 440.4 201.3 440.7 202.4 440.8 203.5 440.6 204.6 440.4 205.7 440.5 206.8 440.8 207.9 440.8 209 440.5 210.1 440.4 211.2 440.7 212.3 440.8 213.4 440.6 214.6 440.4 215.7 440.7 216.8 440.8 217.9 440.6 219 440.4 220.1 440.6 221.2 440.8 222.3 440.6 223.4 440.5 224.5 440.7 225.6 440.8 226.7 440.6 227.8 440.5 228.9 440.7 230 440.8 231.1 440.5 232.2 440.5 233.3 440.8 234.4 440.7 235.5 440.5 236.7 440.6 237.8 440.8 238.9 440.6 240 440.5 241.1 440.7 242.2 440.8 243.3 440.5 244.4 440.6 245.5 440.8 246.6 440.7 247.7 440.5 248.8 440.7 249.9 440.8 251 440.5 252.1 440.6 253.2 440.8 254.3 440.6 255.4 440.5 256.5 440.8 257.6 440.7 258.8 440.5 259.9 440.7 261 440.8 262.1 440.5 263.2 440.6 264.3 440.8 265.4 440.6 266.5 440.5 267.6 440.8 268.7 440.7 269.8 440.5 270.9 440.7 272 440.8 273.1 440.5 274.2 440.6 275.3 440.8 276.4 440.6 277.5 440.5 278.6 440.8 279.7 440.7 280.9 440.5 282 440.7 283.1 440.8 284.2 440.5 285.3 440.7 286.4 440.8 287.5 440.6 288.6 440.6 289.7 440.8 290.8 440.7 291.9 440.5 293 440.8 294.1 440.8 295.2 440.5 296.3 440.6 297.4 440.8 298.5 440.6 299.6 440.5 300.7 440.8 301.8 440.7 303 440.5 304.1 440.7 305.2 440.8 306.3 440.6 307.4 440.5 308.5 440.8 309.6 440.8 310.7 440.5 311.8 440.5 312.9 440.8 314 440.8 315.1 440.5 316.2 440.5 317.3 440.8 318.4 440.8 319.5 440.6 320.6 440.4 321.7 440.6 322.8 440.8 323.9 440.8 325.1 440.6 326.2 440.4 327.3 440.3 328.4 440.4 329.5 440.5 330.6 440.6 331.7 440.7 332.8 440.8 333.9 440.8" stroke="#8c564b"/>
<path d="M160 439 161.1 439 162.2 438.9 163.3 438.9 164.4 438.7 165.5 438.7 166.6 438.6 167.7 438.5 168.8 438.4 169.9 438.4 171 438.5 172.1 438.7 173.2 438.9 174.3 439 175.4 439 176.5 438.9 177.6 438.6 178.7 438.5 179.8 438.6 180.9 438.8 182.1 439 183.2 439 184.3 438.8 185.4 438.6 186.5 438.6 187.6 438.8 188.7 439 189.8 439 190.9 438.7 192 438.6 193.1 438.7 194.2 438.9 195.3 439 196.4 438.8 197.5 438.6 198.6 438.7 199.7 439 200.8 439 201.9 438.7 203 438.6 204.1 438.8 205.2 439 206.3 438.9 207.4 438.6 208.5 438.7 209.7 439 210.8 439 211.9 438.7 213 438.7 214.1 439 215.2 439 216.3 438.7 217.4 438.7 218.5 439 219.6 439 220.7 438.7 221.8 438.7 222.9 439 224 439 225.1 438.7 226.2 438.8 227.3 439 228.4 438.9 229.5 438.7 230.6 438.8 231.7 439 232.8 438.8 233.9 438.7 235 439 236.2 439 237.3 438.7 238.4 438.8 239.5 439 240.6 438.8 241.7 438.7 242.8 438.9 243.9 439 245 438.7 246.1 438.8 247.2 439 248.3 438.8 249.4 438.7 250.5 439 251.6 438.9 252.7 438.7 253.8 438.9 254.9 439 256 438.7 257.1 438.8 258.2 439 259.3 438.8 260.4 438.7 261.5 439 262.7 438.9 263.8 438.7 264.9 438.9 266 439 267.1 438.7 268.2 438.8 269.3 439 270.4 438.8 271.5 438.7 272.6 439 273.7 438.9 274.8 438.7 275.9 439 277 438.9 278.1 438.7 279.2 438.9 280.3 439 281.4 438.7 282.5 438.8 283.6 439 284.7 438.8 285.8 438.7 286.9 439 288 438.9 289.2 438.7 290.3 439 291.4 438.9 292.5 438.7 293.6 438.9 294.7 439 295.8 438.7 296.9 438.8 298 439 299.1 438.8 300.2 438.7 301.3 439 302.4 439 303.5 438.7 304.6 438.8 305.7 439 306.8 438.8 307.9 438.7 309 438.9 310.1 439 311.2 438.7 312.3 438.7 313.4 439 314.5 439 315.6 438.7 316.8 438.7 317.9 438.9 319 439 320.1 438.8 321.2 438.6 322.3 438.7 323.4 439 324.5 439 325.6 438.8 326.7 438.6 327.8 438.5 328.9 438.6 330 438.7 331.1 438.8 332.2 438.9 333.3 439 334.4 439" stroke="#e377c2"/>
<path d="M159.7 437.2 160.8 437.1 161.9 437 163 436.9 164.1 436.8 165.2 436.8 166.3 436.7 167.4 436.6 168.5 436.7 169.6 436.8 170.7 437 171.8 437.1 172.9 437.2 174 437.2 175.1 437 176.2 436.8 177.3 436.7 178.4 436.8 179.5 437.1 180.6 437.2 181.7 437.1 182.8 436.9 183.9 436.7 185 436.8 186.1 437.1 187.2 437.2 188.4 437.1 189.5 436.8 190.6 436.8 191.7 437 192.8 437.2 193.9 437.1 195 436.9 196.1 436.8 197.2 437 198.3 437.2 199.4 437.1 200.5 436.8 201.6 436.9 202.7 437.1 203.8 437.2 204.9 436.9 206 436.8 207.1 437.1 208.2 437.2 209.3 437 210.4 436.8 211.5 437 212.6 437.2 213.7 437 214.8 436.8 215.9 437 217 437.2 218.1 437 219.2 436.8 220.3 437 221.4 437.2 222.5 437 223.6 436.9 224.7 437.1 225.8 437.2 226.9 436.9 228 436.9 229.1 437.2 230.2 437.1 231.4 436.9 232.5 437 233.6 437.2 234.7 437 235.8 436.9 236.9 437.2 238 437.1 239.1 436.9 240.2 437 241.3 437.2 242.4 437 243.5 436.9 244.6 437.2 245.7 437.1 246.8 436.9 247.9 437.1 249 437.2 250.1 436.9 251.2 437 252.3 437.2 253.4 437 254.5 436.9 255.6 437.2 256.7 437.1 257.8 436.9 258.9 437.1 260 437.2 261.1 436.9 262.2 437 263.3 437.2 264.4 437 265.5 436.9 266.6 437.2 267.7 437 268.8 436.9 269.9 437.2 271 437.1 272.1 436.9 273.3 437.1 274.4 437.2 275.5 436.9 276.6 437.1 277.7 437.2 278.8 436.9 279.9 437 281 437.2 282.1 437 283.2 436.9 284.3 437.2 285.4 437 286.5 436.9 287.6 437.2 288.7 437.1 289.8 436.9 290.9 437.1 292 437.2 293.1 436.9 294.2 437 295.3 437.2 296.4 437 297.5 436.9 298.6 437.2 299.7 437.1 300.8 436.9 301.9 437.1 303 437.2 304.1 436.9 305.2 437 306.3 437.2 307.4 437 308.5 436.9 309.6 437.1 310.7 437.2 311.8 436.9 312.9 436.9 314 437.2 315.1 437.2 316.3 436.9 317.4 436.9 318.5 437.1 319.6 437.2 320.7 436.9 321.8 436.8 322.9 437 324 437.2 325.1 437.2 326.2 437 327.3 436.7 328.4 436.7 329.5 436.8 330.6 436.9 331.7 437 332.8 437.1 333.9 437.2 335 437.2" stroke="#7f7f7f"/>
<path d="M160.8 435.1 161.9 435.1 163 435 164.1 434.9 165.2 434.8 166.3 434.8 167.4 434.9 168.5 435.1 169.6 435.3 170.8 435.4 171.9 435.4 173 435.2 174.1 435 175.2 434.9 176.3 435 177.4 435.2 178.5 435.4 179.6 435.4 180.7 435.2 181.8 435 182.9 435 184 435.2 185.1 435.4 186.2 435.3 187.3 435.1 188.4 435 189.6 435.1 190.7 435.4 191.8 435.4 192.9 435.1 194 435 195.1 435.2 196.2 435.4 197.3 435.3 198.4 435 199.5 435 200.6 435.3 201.7 435.4 202.8 435.2 203.9 435 205 435.2 206.1 435.4 207.2 435.2 208.3 435 209.5 435.2 210.6 435.4 211.7 435.2 212.8 435 213.9 435.2 215 435.4 216.1 435.2 217.2 435 218.3 435.2 219.4 435.4 220.5 435.2 221.6 435.1 222.7 435.3 223.8 435.4 224.9 435.1 226 435.1 227.1 435.4 228.3 435.3 229.4 435 230.5 435.3 231.6 435.4 232.7 435.1 233.8 435.1 234.9 435.4 236 435.3 237.1 435.1 238.2 435.3 239.3 435.4 240.4 435.1 241.5 435.1 242.6 435.4 243.7 435.2 244.8 435.1 245.9 435.3 247.1 435.3 248.2 435.1 249.3 435.3 250.4 435.4 251.5 435.1 252.6 435.2 253.7 435.4 254.8 435.2 255.9 435.1 257 435.4 258.1 435.3 259.2 435.1 260.3 435.3 261.4 435.3 262.5 435.1 263.6 435.3 264.7 435.4 265.9 435.1 267 435.2 268.1 435.4 269.2 435.1 270.3 435.2 271.4 435.4 272.5 435.2 273.6 435.1 274.7 435.4 275.8 435.2 276.9 435.1 278 435.4 279.1 435.3 280.2 435.1 281.3 435.3 282.4 435.3 283.5 435.1 284.7 435.3 285.8 435.4 286.9 435.1 288 435.2 289.1 435.4 290.2 435.1 291.3 435.2 292.4 435.4 293.5 435.2 294.6 435.1 295.7 435.4 296.8 435.3 297.9 435.1 299 435.3 300.1 435.3 301.2 435.1 302.3 435.2 303.5 435.4 304.6 435.1 305.7 435.1 306.8 435.4 307.9 435.3 309 435 310.1 435.2 311.2 435.4 312.3 435.1 313.4 435.1 314.5 435.3 315.6 435.4 316.7 435.1 317.8 435 318.9 435.3 320 435.4 321.1 435.1 322.3 435 323.4 435.1 324.5 435.4 325.6 435.4 326.7 435.1 327.8 434.9 328.9 434.9 330 435 331.1 435.1 332.2 435.2 333.3 435.3 334.4 435.4 335.5 435.4" stroke="#bcbd22"/>
<path d="M168.5 433.5 169.7 433.6 170.8 433.5 171.9 433.3 173 433.1 174.1 433.1 175.2 433.3 176.3 433.5 177.4 433.6 178.5 433.5 179.6 433.2 180.7 433.1 181.8 433.3 182.9 433.5 184 433.6 185.1 433.4 186.2 433.2 187.3 433.2 188.4 433.5 189.5 433.6 190.6 433.4 191.7 433.2 192.8 433.2 193.9 433.5 195 433.6 196.1 433.3 197.2 433.2 198.3 433.4 199.4 433.6 200.5 433.4 201.6 433.2 202.7 433.3 203.8 433.6 204.9 433.5 206 433.2 207.1 433.3 208.2 433.5 209.3 433.5 210.4 433.2 211.5 433.3 212.6 433.6 213.7 433.5 214.8 433.2 215.9 433.3 217 433.6 218.1 433.5 219.2 433.2 220.3 433.4 221.4 433.6 222.5 433.4 223.6 433.2 224.8 433.5 225.9 433.5 227 433.3 228.1 433.3 229.2 433.6 230.3 433.4 231.4 433.2 232.5 433.5 233.6 433.6 234.7 433.3 235.8 433.4 236.9 433.6 238 433.4 239.1 433.3 240.2 433.5 241.3 433.5 242.4 433.2 243.5 433.5 244.6 433.6 245.7 433.3 246.8 433.4 247.9 433.6 249 433.4 250.1 433.3 251.2 433.6 252.3 433.5 253.4 433.3 254.5 433.5 255.6 433.5 256.7 433.3 257.8 433.5 258.9 433.6 260 433.3 261.1 433.4 262.2 433.6 263.3 433.3 264.4 433.3 265.5 433.6 266.6 433.4 267.7 433.3 268.8 433.6 269.9 433.4 271 433.3 272.1 433.6 273.2 433.5 274.3 433.3 275.4 433.5 276.5 433.5 277.6 433.3 278.7 433.5 279.8 433.5 281 433.3 282.1 433.5 283.2 433.6 284.3 433.3 285.4 433.4 286.5 433.6 287.6 433.3 288.7 433.4 289.8 433.6 290.9 433.4 292 433.3 293.1 433.6 294.2 433.4 295.3 433.3 296.4 433.6 297.5 433.5 298.6 433.3 299.7 433.5 300.8 433.5 301.9 433.3 303 433.4 304.1 433.6 305.2 433.3 306.3 433.3 307.4 433.6 308.5 433.5 309.6 433.2 310.7 433.4 311.8 433.6 312.9 433.3 314 433.2 315.1 433.5 316.2 433.6 317.3 433.3 318.4 433.2 319.5 433.5 320.6 433.6 321.7 433.3 322.8 433.2 323.9 433.3 325 433.6 326.1 433.5 327.2 433.3 328.3 433.1 329.4 433.1 330.5 433.1 331.6 433.3 332.7 433.4 333.8 433.5 334.9 433.6 336 433.6" stroke="#17becf"/>
</g>
<path d="M96.2 291.2 96.5 292.7 96.9 294.2 97.2 295.6 97.6 297.1 97.9 298.6 98.3 300 98.6 301.5 99 302.9 99.3 304.4 99.7 305.9 100.1 307.3 100.4 308.8 100.8 310.2 101.2 311.7 101.6 313.1 101.9 314.6 102.3 316.1 102.7 317.5 103.1 319 103.5 320.4 103.9 321.9 104.3 323.3 104.7 324.8 105.1 326.2 105.5 327.7 106 329.1 106.4 330.5 106.8 332 107.2 333.4 107.7 334.9 108.1 336.3 108.6 337.7 109 339.2 109.5 340.6 109.9 342 110.4 343.5 110.8 344.9 111.3 346.3 111.8 347.8 112.3 349.2 112.8 350.6 113.3 352 113.8 353.4 114.3 354.9 114.8 356.3 115.3 357.7 115.8 359.1 116.3 360.5 116.9 361.9 117.4 363.3 118 364.7 118.5 366.1 119.1 367.5 119.6 368.9 120.2 370.3 120.8 371.7 121.4 373.1 122 374.4 122.6 375.8 123.2 377.2 123.8 378.6 124.4 379.9 125.1 381.3 125.7 382.7 126.4 384 127 385.4 127.7 386.7 128.4 388.1 129 389.4 129.7 390.7 130.4 392.1 131.1 393.4 131.9 394.7 132.6 396 133.3 397.3 134.1 398.6 134.8 399.9 135.6 401.2 136.4 402.5 137.2 403.8 137.9 405.1 138.7 406.4 139.6 407.6 140.4 408.9 141.2 410.1 142.1 411.4 142.9 412.6 143.8 413.9 144.6 415.1 145.5 416.3 146.4 417.5 147.3 418.7 148.2 419.9 149.1 421.1 150.1 422.3 151 423.5 151.9 424.6 152.9 425.8 153.9 427 154.8 428.1 155.8 429.2 156.8 430.4 157.8 431.5 158.8 432.6 159.8 433.7 160.8 434.8 161.9 435.9 162.9 437 163.9 438.1 165 439.2 166 440.3 167.1 441.3 168.2 442.4 169.2 443.5 170.3 444.5 171.4 445.5 172.5 446.6 173.6 447.6 174.7 448.6 175.8 449.7 176.9 450.7 178 451.7 179.1 452.7 180.3 453.7 181.4 454.7 182.5 455.7 183.7 456.6 184.8 457.6 186 458.6 187.1 459.5 188.3 460.5 189.4 461.5 190.6 462.4 191.8 463.4 193 464.3 194.1 465.2 195.3 466.2 196.5 467.1 197.7 468 198.9 468.9 200.1 469.8 201.3 470.7 202.5 471.6 203.7 472.5 204.9 473.4 206.2 474.3 207.4 475.1 208.6 476 209.9 476.9 211.1 477.7 212.3 478.5 213.6 479.4 214.8 480.2 216.1 481 217.4 481.8 218.7 482.6 219.9 483.4 221.2 484.2 222.5 485 223.8 485.7 225.1 486.5 226.4 487.2 227.7 488 229 488.7 230.4 489.4 231.7 490.1 233 490.8 234.4 491.5 235.7 492.1 237.1 492.8 238.4 493.4 239.8 494 241.2 494.7 242.6 495.2 244 495.8 245.4 496.4 246.8 496.9 248.2 497.5 249.6 498 251 498.5 252.4 499 253.8 499.5 255.3 499.9 256.7 500.3 258.2 500.7 259.6 501.1 261.1 501.5 262.5 501.8 264 502.1 265.5 502.4 267 502.7 268.5 503 269.9 503.2 271.4 503.3 272.9 503.5 274.4 503.6 275.9 503.7 277.4 503.7 278.9 503.7 280.4 503.7 281.9 503.6 283.4 503.4 284.9 503.2 286.4 503 287.9 502.7 289.4 502.3 290.8 501.9 292.2 501.5 293.6 500.9 295 500.3 296.4 499.7 297.7 498.9 299 498.2 300.2 497.4 301.5 496.5 302.6 495.6 303.8 494.6 304.9 493.6 306 492.5 307 491.4 308 490.3 309 489.2 309.9 488 310.9 486.8 311.7 485.6 312.6 484.3 313.4 483.1 314.2 481.8 315 480.5 315.7 479.2 316.4 477.9 317.1 476.6 317.8 475.2 318.5 473.9 319.1 472.5 319.8 471.1 320.4 469.8 321 468.4 321.5 467 322.1 465.6 322.7 464.2 323.2 462.8 323.7 461.4 324.2 460 324.7 458.6 325.2 457.1 325.7 455.7 326.2 454.3 326.6 452.9 327.1 451.4 327.5 450 328 448.5 328.4 447.1 328.8 445.7 329.2 444.2 329.6 442.8 330 441.3 330.4 439.9 330.8 438.4 331.2 436.9 331.5 435.5 331.9 434 332.3 432.6 332.6 431.1 333 429.6 333.3 428.2 333.6 426.7 334 425.2 334.3 423.8 334.6 422.3 334.9 420.8 335.3 419.4 335.6 417.9 335.9 416.4 336.2 415 336.5 413.5 336.8 412 337.1 410.5 337.3 409.1 337.6 407.6 337.9 406.1 338.2 404.6 338.5 403.1 338.7 401.7 339 400.2 339.3 398.7 339.5 397.2 339.8 395.7 340 394.3 340.3 392.8 340.5 391.3 340.8 389.8 341 388.3 341.3 386.8 341.5 385.4 341.7 383.9 342 382.4 342.2 380.9 342.4 379.4 342.7 377.9 342.9 376.4 343.1 374.9 343.3 373.5 343.6 372 343.8 370.5 344 369 344.2 367.5 344.4 366 344.6 364.5 344.8 363 345 361.5 345.2 360.1 345.4 358.6 345.6 357.1 345.8 355.6 346 354.1 346.2 352.6 346.4 351.1 346.6 349.6 346.8 348.1 347 346.6 347.2 345.1 347.4 343.7 347.6 342.2 347.7 340.7 347.9 339.2 348.1 337.7 348.3 336.2 348.5 334.7 348.6 333.2 348.8 331.7 349 330.2 349.2 328.7 349.3 327.2 349.5 325.7 349.7 324.2 349.8 322.7 350 321.2 350.2 319.8 350.3 318.3 350.5 316.8 350.7 315.3 350.8 313.8 351 312.3 351.2 310.8 351.3 309.3 351.5 307.8 351.6 306.3 351.8 304.8 351.9 303.3 352.1 301.8 352.3 300.3 352.4 298.8 352.6 297.3 352.7 295.8 352.9 294.3 353 292.8 353.1 291.3" fill="none" stroke="#ff0000" stroke-width="2.1" stroke-linejoin="round" clip-path="url(#cpb)"/>
<path d="M83.4 291.2 83.6 292.7 83.8 294.2 84 295.7 84.2 297.2 84.4 298.7 84.7 300.2 84.9 301.7 85.1 303.2 85.3 304.7 85.6 306.1 85.8 307.6 86 309.1 86.2 310.6 86.5 312.1 86.7 313.6 87 315.1 87.2 316.6 87.4 318 87.7 319.5 87.9 321 88.2 322.5 88.5 324 88.7 325.5 89 326.9 89.2 328.4 89.5 329.9 89.8 331.4 90.1 332.9 90.4 334.3 90.6 335.8 90.9 337.3 91.2 338.8 91.5 340.3 91.8 341.7 92.1 343.2 92.4 344.7 92.7 346.2 93.1 347.6 93.4 349.1 93.7 350.6 94 352 94.4 353.5 94.7 355 95.1 356.4 95.4 357.9 95.8 359.4 96.2 360.8 96.5 362.3 96.9 363.7 97.3 365.2 97.7 366.6 98.1 368.1 98.5 369.5 98.9 371 99.4 372.4 99.8 373.9 100.2 375.3 100.7 376.7 101.2 378.2 101.6 379.6 102.1 381 102.6 382.5 103.1 383.9 103.6 385.3 104.2 386.7 104.7 388.1 105.3 389.5 105.8 390.9 106.4 392.3 107 393.7 107.6 395 108.3 396.4 108.9 397.8 109.6 399.1 110.3 400.5 111 401.8 111.7 403.1 112.4 404.4 113.2 405.7 114 407 114.8 408.3 115.7 409.5 116.5 410.7 117.4 411.9 118.4 413.1 119.3 414.3 120.3 415.4 121.3 416.5 122.3 417.6 123.4 418.7 124.5 419.7 125.7 420.7 126.8 421.6 128 422.6 129.3 423.4 130.5 424.3 131.8 425 133.1 425.8 134.4 426.5 135.8 427.1 137.2 427.7 138.6 428.3 140 428.8 141.4 429.2 142.9 429.6 144.4 430 145.8 430.3 147.3 430.6 148.8 430.8 150.3 431 151.8 431.1 153.3 431.2 154.8 431.2 156.3 431.2 157.8 431.2 159.3 431.1 160.8 430.9 162.3 430.8 163.8 430.6 165.3 430.3 166.8 430 168.2 429.7 169.7 429.4 171.2 429 172.6 428.6 174 428.1 175.5 427.6 176.9 427.1 178.3 426.6 179.7 426 181.1 425.4 182.5 424.8 183.8 424.2 185.2 423.5 186.5 422.9 187.9 422.2 189.2 421.4 190.5 420.7 191.8 419.9 193.1 419.2 194.4 418.4 195.6 417.6 196.9 416.8 198.2 415.9 199.4 415.1 200.7 414.3 201.9 413.4 203.1 412.5 204.3 411.6 205.5 410.7 206.8 409.8 207.9 408.9 209.1 408 210.3 407.1 211.5 406.1 212.7 405.2 213.8 404.2 215 403.3 216.2 402.3 217.3 401.4 218.5 400.4 219.6 399.4 220.8 398.4 221.9 397.4 223 396.4 224.2 395.4 225.3 394.4 226.4 393.4 227.5 392.4 228.6 391.4 229.8 390.4 230.9 389.4 232 388.4 233.1 387.3 234.2 386.3 235.3 385.3 236.4 384.2 237.5 383.2 238.5 382.2 239.6 381.1 240.7 380.1 241.8 379 242.9 378 243.9 376.9 245 375.8 246.1 374.8 247.1 373.7 248.2 372.6 249.2 371.6 250.3 370.5 251.3 369.4 252.4 368.3 253.4 367.2 254.4 366.1 255.4 365 256.5 363.9 257.5 362.8 258.5 361.7 259.5 360.6 260.5 359.4 261.5 358.3 262.5 357.2 263.4 356 264.4 354.9 265.4 353.7 266.3 352.5 267.3 351.4 268.2 350.2 269.2 349 270.1 347.8 271 346.7 272 345.5 272.9 344.3 273.8 343.1 274.7 341.8 275.5 340.6 276.4 339.4 277.3 338.2 278.2 336.9 279 335.7 279.9 334.5 280.7 333.2 281.5 332 282.4 330.7 283.2 329.4 284 328.2 284.8 326.9 285.6 325.6 286.4 324.3 287.2 323 288 321.8 288.7 320.5 289.5 319.2 290.2 317.9 291 316.6 291.7 315.2 292.5 313.9 293.2 312.6 293.9 311.3 294.6 310 295.4 308.6 296.1 307.3 296.8 306 297.5 304.7 298.2 303.3 298.9 302 299.5 300.6 300.2 299.3 300.9 297.9 301.6 296.6 302.2 295.2 302.9 293.9 303.5 292.5 304.2 291.2" fill="none" stroke="#00ced1" stroke-width="2.1" stroke-linejoin="round" clip-path="url(#cpb)"/>
<path d="M111 291.1 111.6 292.5 112.2 293.9 112.8 295.3 113.4 296.7 114 298 114.6 299.4 115.2 300.8 115.9 302.1 116.5 303.5 117.2 304.9 117.8 306.2 118.5 307.6 119.2 308.9 119.9 310.2 120.6 311.6 121.3 312.9 122 314.2 122.7 315.5 123.5 316.8 124.2 318.1 125 319.4 125.7 320.7 126.5 322 127.3 323.3 128.1 324.6 129 325.8 129.8 327.1 130.6 328.3 131.5 329.6 132.4 330.8 133.3 332 134.2 333.2 135.1 334.4 136 335.6 137 336.8 137.9 337.9 138.9 339.1 139.9 340.2 140.9 341.3 141.9 342.4 142.9 343.5 144 344.6 145.1 345.7 146.1 346.7 147.2 347.7 148.3 348.8 149.5 349.8 150.6 350.7 151.8 351.7 152.9 352.7 154.1 353.6 155.3 354.5 156.5 355.4 157.8 356.3 159 357.1 160.2 358 161.5 358.8 162.8 359.6 164.1 360.4 165.4 361.1 166.7 361.9 168 362.6 169.3 363.3 170.6 364 172 364.7 173.3 365.4 174.7 366.1 176 366.7 177.4 367.3 178.8 367.9 180.2 368.5 181.5 369.1 182.9 369.7 184.3 370.3 185.7 370.8 187.1 371.4 188.5 371.9 189.9 372.5 191.3 373 192.8 373.5 194.2 374 195.6 374.5 197 375 198.4 375.5 199.9 376 201.3 376.4 202.7 376.9 204.2 377.4 205.6 377.8 207 378.3 208.5 378.7 209.9 379.2 211.4 379.6 212.8 380 214.2 380.4 215.7 380.9 217.1 381.3 218.6 381.7 220 382.1 221.5 382.5 222.9 382.8 224.4 383.2 225.9 383.6 227.3 383.9 228.8 384.3 230.3 384.6 231.7 384.9 233.2 385.2 234.7 385.5 236.2 385.8 237.7 386.1 239.1 386.3 240.6 386.5 242.1 386.7 243.6 386.9 245.1 387.1 246.6 387.2 248.1 387.3 249.6 387.4 251.1 387.4 252.6 387.4 254.1 387.4 255.6 387.3 257.1 387.2 258.6 387.1 260.1 386.9 261.6 386.7 263.1 386.4 264.6 386.1 266 385.7 267.5 385.3 268.9 384.9 270.3 384.4 271.7 383.8 273.1 383.3 274.5 382.6 275.8 381.9 277.2 381.2 278.4 380.4 279.7 379.6 281 378.8 282.2 377.9 283.4 377 284.6 376 285.7 375.1 286.8 374.1 287.9 373 289 372 290 370.9 291 369.8 292 368.7 293 367.5 294 366.3 294.9 365.2 295.8 364 296.7 362.8 297.6 361.5 298.5 360.3 299.3 359 300.1 357.8 300.9 356.5 301.7 355.2 302.5 353.9 303.2 352.6 304 351.3 304.7 350 305.4 348.7 306.1 347.4 306.8 346 307.5 344.7 308.2 343.3 308.9 342 309.5 340.6 310.1 339.3 310.8 337.9 311.4 336.5 312 335.1 312.6 333.8 313.2 332.4 313.8 331 314.3 329.6 314.9 328.2 315.5 326.8 316 325.4 316.5 324 317.1 322.6 317.6 321.2 318.1 319.8 318.6 318.4 319.1 316.9 319.6 315.5 320.1 314.1 320.6 312.7 321.1 311.2 321.6 309.8 322.1 308.4 322.5 307 323 305.5 323.5 304.1 323.9 302.7 324.4 301.2 324.8 299.8 325.2 298.3 325.7 296.9 326.1 295.5 326.5 294 326.9 292.6 327.3 291.1" fill="none" stroke="#800080" stroke-width="2.1" stroke-linejoin="round" clip-path="url(#cpb)"/>
<path d="M73.3 296.8 V535.5 H353.6" fill="none" stroke="#7c7c7c" stroke-width="1.35"/>
<path d="M72.9 297.3 h-2.8" stroke="#333" stroke-width="1"/>
<text x="25.7" y="302.3" font-size="14" textLength="41.6" lengthAdjust="spacingAndGlyphs" >−0.15</text>
<path d="M72.9 341.4 h-2.8" stroke="#333" stroke-width="1"/>
<text x="25.7" y="346.4" font-size="14" textLength="41.6" lengthAdjust="spacingAndGlyphs" >−0.20</text>
<path d="M72.9 385.6 h-2.8" stroke="#333" stroke-width="1"/>
<text x="25.7" y="390.6" font-size="14" textLength="41.6" lengthAdjust="spacingAndGlyphs" >−0.25</text>
<path d="M72.9 429.8 h-2.8" stroke="#333" stroke-width="1"/>
<text x="25.7" y="434.8" font-size="14" textLength="41.6" lengthAdjust="spacingAndGlyphs" >−0.30</text>
<path d="M72.9 473.9 h-2.8" stroke="#333" stroke-width="1"/>
<text x="25.7" y="478.9" font-size="14" textLength="41.6" lengthAdjust="spacingAndGlyphs" >−0.35</text>
<path d="M72.9 518.1 h-2.8" stroke="#333" stroke-width="1"/>
<text x="25.7" y="523.1" font-size="14" textLength="41.6" lengthAdjust="spacingAndGlyphs" >−0.40</text>
<path d="M73.6 535.9 v2.8" stroke="#333" stroke-width="1"/>
<text x="57.5" y="551.6" font-size="14" textLength="32.5" lengthAdjust="spacingAndGlyphs" >−7.5</text>
<path d="M120.2 535.9 v2.8" stroke="#333" stroke-width="1"/>
<text x="104.2" y="551.6" font-size="14" textLength="32.5" lengthAdjust="spacingAndGlyphs" >−5.0</text>
<path d="M166.8 535.9 v2.8" stroke="#333" stroke-width="1"/>
<text x="150.8" y="551.6" font-size="14" textLength="32.5" lengthAdjust="spacingAndGlyphs" >−2.5</text>
<path d="M213.4 535.9 v2.8" stroke="#333" stroke-width="1"/>
<text x="203" y="551.6" font-size="14" textLength="21.1" lengthAdjust="spacingAndGlyphs" >0.0</text>
<path d="M260 535.9 v2.8" stroke="#333" stroke-width="1"/>
<text x="249.6" y="551.6" font-size="14" textLength="21.1" lengthAdjust="spacingAndGlyphs" >2.5</text>
<path d="M306.6 535.9 v2.8" stroke="#333" stroke-width="1"/>
<text x="296.2" y="551.6" font-size="14" textLength="21.1" lengthAdjust="spacingAndGlyphs" >5.0</text>
<path d="M353.2 535.9 v2.8" stroke="#333" stroke-width="1"/>
<text x="342.9" y="551.6" font-size="14" textLength="21.1" lengthAdjust="spacingAndGlyphs" >7.5</text>
<text transform="translate(18.4 416.6) rotate(-90)" x="-45.4" y="0" font-size="14" textLength="90.7" lengthAdjust="spacingAndGlyphs">Energy (a.u.)</text>
<text x="165.1" y="308.5" font-size="19.3" textLength="76.7" lengthAdjust="spacingAndGlyphs" style="stroke-width:0">Diabatic</text>
<text x="2.1" y="295.8" font-size="21.0" textLength="17" lengthAdjust="spacingAndGlyphs" font-weight="bold" style="stroke-width:0">b.</text>
<rect x="142.6" y="421.4" width="28" height="19.5" fill="none" stroke="#999" stroke-width="0.8"/>
<rect x="221.6" y="374.7" width="28" height="20" fill="none" stroke="#999" stroke-width="0.8"/>
<circle cx="156.9" cy="431.3" r="2.8" fill="#000"/>
<circle cx="235" cy="385.8" r="2.8" fill="#000"/>
<circle cx="277.9" cy="504.7" r="2.8" fill="#000"/>
<g font-size="12.6">
<text x="81.8" y="453.1" font-size="12.6" textLength="8.6" lengthAdjust="spacingAndGlyphs" font-style="italic">R</text>
<text x="90.8" y="456.7" font-size="9.6" textLength="4.7" lengthAdjust="spacingAndGlyphs" font-style="italic">c</text>
<text x="92.1" y="448.5" font-size="8.9" textLength="21.4" lengthAdjust="spacingAndGlyphs" >(1, 2)</text>
<text x="119.2" y="453.1" font-size="12.6" textLength="7.8" lengthAdjust="spacingAndGlyphs" >=</text>
<text x="131.7" y="453.1" font-size="12.6" textLength="23.4" lengthAdjust="spacingAndGlyphs" >-3.0</text>
</g>
<g font-size="12.6">
<text x="234.3" y="408.3" font-size="12.6" textLength="8.6" lengthAdjust="spacingAndGlyphs" font-style="italic">R</text>
<text x="243.3" y="411.9" font-size="9.6" textLength="4.7" lengthAdjust="spacingAndGlyphs" font-style="italic">c</text>
<text x="244.6" y="403.7" font-size="8.9" textLength="21.4" lengthAdjust="spacingAndGlyphs" >(2, 3)</text>
<text x="271.7" y="408.3" font-size="12.6" textLength="7.8" lengthAdjust="spacingAndGlyphs" >=</text>
<text x="284.2" y="408.3" font-size="12.6" textLength="17.6" lengthAdjust="spacingAndGlyphs" >1.2</text>
</g>
<text x="229.8" y="519.6" font-size="12.6" textLength="8.6" lengthAdjust="spacingAndGlyphs" font-style="italic">R</text>
<text x="239.1" y="522.2" font-size="8.9" textLength="4.7" lengthAdjust="spacingAndGlyphs" font-style="italic">e</text>
<text x="248" y="519.6" font-size="12.6" textLength="7.6" lengthAdjust="spacingAndGlyphs" >=</text>
<text x="260.2" y="519.6" font-size="12.6" textLength="19.2" lengthAdjust="spacingAndGlyphs" >3.5</text>
<rect x="79.4" y="458.2" width="82.6" height="71.4" rx="2.6" fill="#fff" fill-opacity="0.8" stroke="#ccc" stroke-width="1"/>
<path d="M84 470.9 H111.5" stroke="#ff0000" stroke-width="2.1"/>
<text x="121.4" y="475.8" font-size="14" textLength="8.6" lengthAdjust="spacingAndGlyphs" font-style="italic">V</text>
<text x="130.4" y="478.8" font-size="9.8" textLength="5" lengthAdjust="spacingAndGlyphs" >1</text>
<text x="130" y="469.4" font-size="10.4" textLength="6.2" lengthAdjust="spacingAndGlyphs" font-style="italic">D</text>
<text x="137.8" y="475.8" font-size="14" textLength="3.6" lengthAdjust="spacingAndGlyphs" >(</text>
<text x="142" y="475.8" font-size="14" textLength="8.6" lengthAdjust="spacingAndGlyphs" font-style="italic">R</text>
<text x="151.6" y="475.8" font-size="14" textLength="3.6" lengthAdjust="spacingAndGlyphs" >)</text>
<path d="M84 493.2 H111.5" stroke="#00ced1" stroke-width="2.1"/>
<text x="121.4" y="498.1" font-size="14" textLength="8.6" lengthAdjust="spacingAndGlyphs" font-style="italic">V</text>
<text x="130.4" y="501.1" font-size="9.8" textLength="5" lengthAdjust="spacingAndGlyphs" >2</text>
<text x="130" y="491.7" font-size="10.4" textLength="6.2" lengthAdjust="spacingAndGlyphs" font-style="italic">D</text>
<text x="137.8" y="498.1" font-size="14" textLength="3.6" lengthAdjust="spacingAndGlyphs" >(</text>
<text x="142" y="498.1" font-size="14" textLength="8.6" lengthAdjust="spacingAndGlyphs" font-style="italic">R</text>
<text x="151.6" y="498.1" font-size="14" textLength="3.6" lengthAdjust="spacingAndGlyphs" >)</text>
<path d="M84 515.4 H111.5" stroke="#800080" stroke-width="2.1"/>
<text x="121.4" y="520.3" font-size="14" textLength="8.6" lengthAdjust="spacingAndGlyphs" font-style="italic">V</text>
<text x="130.4" y="523.3" font-size="9.8" textLength="5" lengthAdjust="spacingAndGlyphs" >3</text>
<text x="130" y="513.9" font-size="10.4" textLength="6.2" lengthAdjust="spacingAndGlyphs" font-style="italic">D</text>
<text x="137.8" y="520.3" font-size="14" textLength="3.6" lengthAdjust="spacingAndGlyphs" >(</text>
<text x="142" y="520.3" font-size="14" textLength="8.6" lengthAdjust="spacingAndGlyphs" font-style="italic">R</text>
<text x="151.6" y="520.3" font-size="14" textLength="3.6" lengthAdjust="spacingAndGlyphs" >)</text>
<text x="187.1" y="567.8" font-size="14" textLength="9.4" lengthAdjust="spacingAndGlyphs" font-style="italic">R</text>
<text x="200.6" y="567.8" font-size="14" textLength="38" lengthAdjust="spacingAndGlyphs" >(a.u.)</text>
</svg>
</body></html>
